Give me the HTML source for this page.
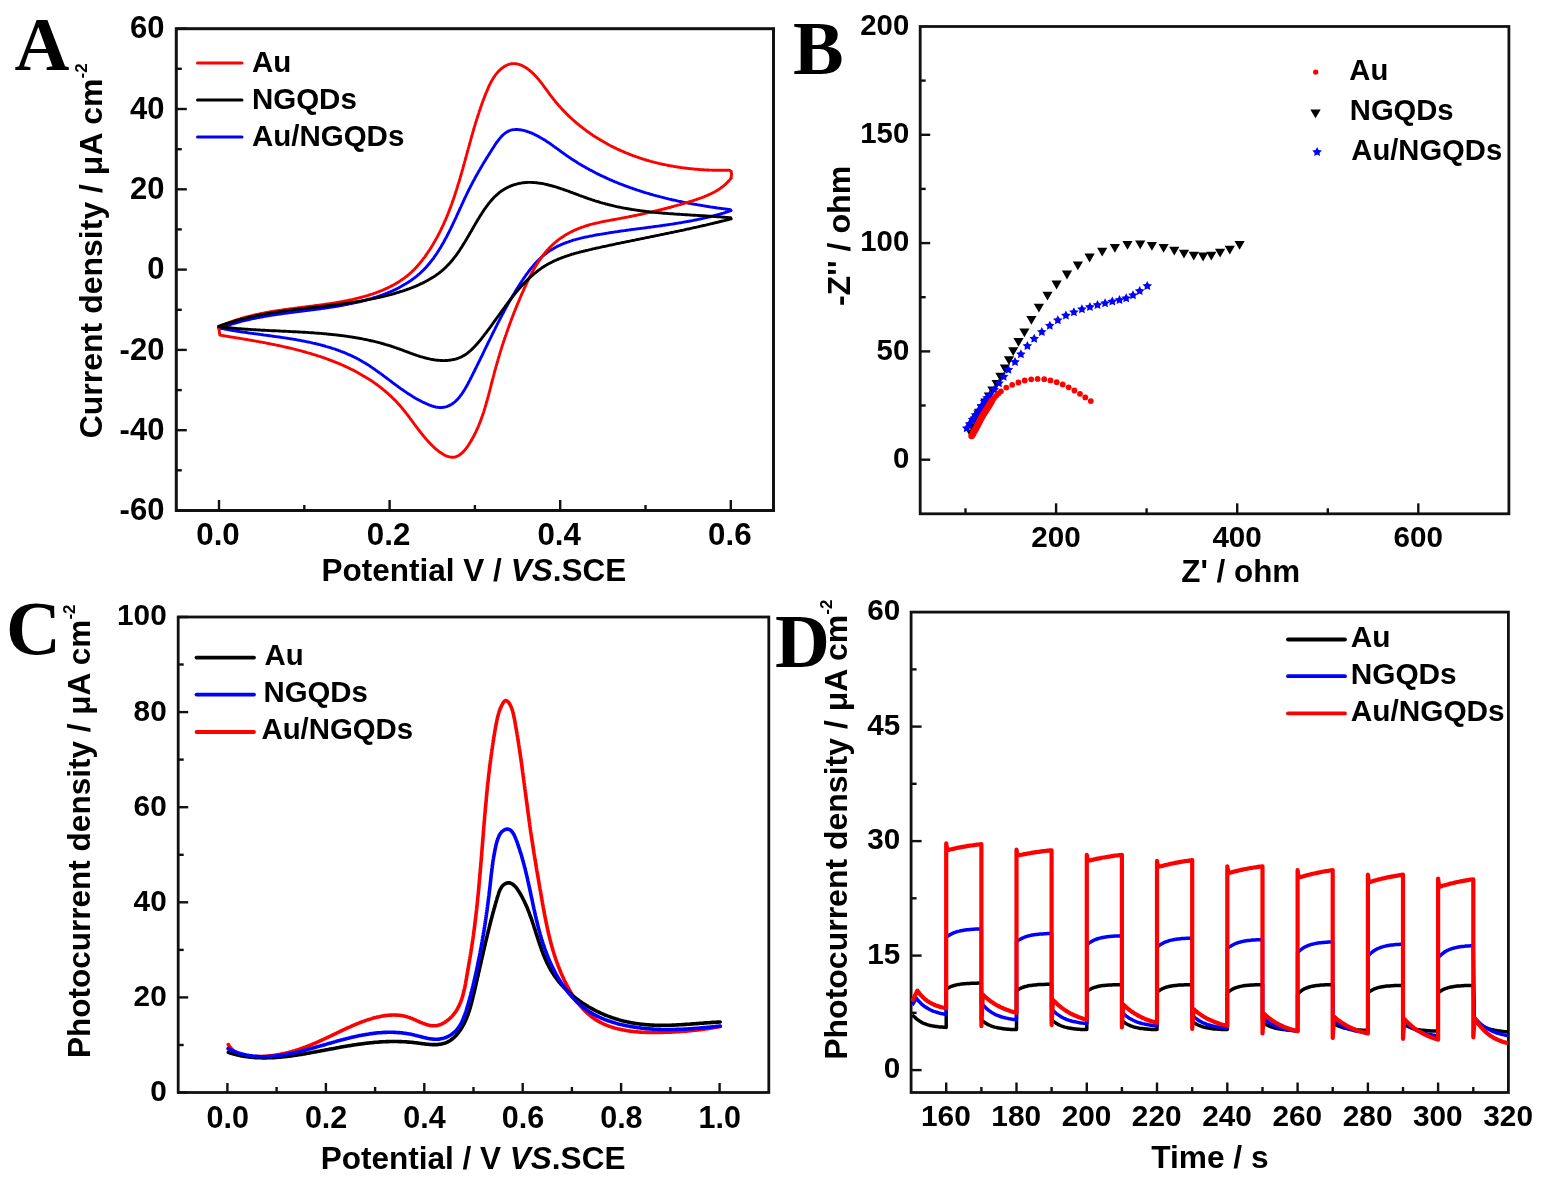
<!DOCTYPE html>
<html><head><meta charset="utf-8"><title>Figure</title>
<style>html,body{margin:0;padding:0;background:#fff;}svg{display:block;}
text{font-family:"Liberation Sans",Arial,sans-serif;font-weight:bold;fill:#000;}</style></head>
<body><svg width="1541" height="1181" viewBox="0 0 1541 1181">
<rect width="1541" height="1181" fill="#fff"/>
<rect x="176.3" y="28.7" width="597.2" height="481.8" fill="none" stroke="#111" stroke-width="3.0"/>
<line x1="219.0" y1="510.5" x2="219.0" y2="500.0" stroke="#111" stroke-width="2.4"/>
<line x1="304.3" y1="510.5" x2="304.3" y2="505.0" stroke="#111" stroke-width="2.4"/>
<line x1="389.6" y1="510.5" x2="389.6" y2="500.0" stroke="#111" stroke-width="2.4"/>
<line x1="474.9" y1="510.5" x2="474.9" y2="505.0" stroke="#111" stroke-width="2.4"/>
<line x1="560.2" y1="510.5" x2="560.2" y2="500.0" stroke="#111" stroke-width="2.4"/>
<line x1="645.5" y1="510.5" x2="645.5" y2="505.0" stroke="#111" stroke-width="2.4"/>
<line x1="730.8" y1="510.5" x2="730.8" y2="500.0" stroke="#111" stroke-width="2.4"/>
<line x1="176.3" y1="510.5" x2="186.8" y2="510.5" stroke="#111" stroke-width="2.4"/>
<line x1="176.3" y1="470.3" x2="181.8" y2="470.3" stroke="#111" stroke-width="2.4"/>
<line x1="176.3" y1="430.2" x2="186.8" y2="430.2" stroke="#111" stroke-width="2.4"/>
<line x1="176.3" y1="390.1" x2="181.8" y2="390.1" stroke="#111" stroke-width="2.4"/>
<line x1="176.3" y1="349.9" x2="186.8" y2="349.9" stroke="#111" stroke-width="2.4"/>
<line x1="176.3" y1="309.8" x2="181.8" y2="309.8" stroke="#111" stroke-width="2.4"/>
<line x1="176.3" y1="269.6" x2="186.8" y2="269.6" stroke="#111" stroke-width="2.4"/>
<line x1="176.3" y1="229.4" x2="181.8" y2="229.4" stroke="#111" stroke-width="2.4"/>
<line x1="176.3" y1="189.3" x2="186.8" y2="189.3" stroke="#111" stroke-width="2.4"/>
<line x1="176.3" y1="149.2" x2="181.8" y2="149.2" stroke="#111" stroke-width="2.4"/>
<line x1="176.3" y1="109.0" x2="186.8" y2="109.0" stroke="#111" stroke-width="2.4"/>
<line x1="176.3" y1="68.8" x2="181.8" y2="68.8" stroke="#111" stroke-width="2.4"/>
<line x1="176.3" y1="28.7" x2="186.8" y2="28.7" stroke="#111" stroke-width="2.4"/>
<text x="218.0" y="545.0" font-size="31.31" text-anchor="middle">0.0</text>
<text x="388.6" y="545.0" font-size="31.31" text-anchor="middle">0.2</text>
<text x="559.2" y="545.0" font-size="31.31" text-anchor="middle">0.4</text>
<text x="729.8" y="545.0" font-size="31.31" text-anchor="middle">0.6</text>
<text x="164.4" y="520.1" font-size="31.00" text-anchor="end">-60</text>
<text x="164.4" y="439.8" font-size="31.00" text-anchor="end">-40</text>
<text x="164.4" y="359.5" font-size="31.00" text-anchor="end">-20</text>
<text x="164.4" y="279.2" font-size="31.00" text-anchor="end">0</text>
<text x="164.4" y="198.9" font-size="31.00" text-anchor="end">20</text>
<text x="164.4" y="118.6" font-size="31.00" text-anchor="end">40</text>
<text x="164.4" y="38.3" font-size="31.00" text-anchor="end">60</text>
<rect x="920.2" y="26.5" width="588.7" height="487.3" fill="none" stroke="#111" stroke-width="2.8"/>
<line x1="965.5" y1="513.8" x2="965.5" y2="508.3" stroke="#111" stroke-width="2.4"/>
<line x1="1056.1" y1="513.8" x2="1056.1" y2="503.3" stroke="#111" stroke-width="2.4"/>
<line x1="1146.6" y1="513.8" x2="1146.6" y2="508.3" stroke="#111" stroke-width="2.4"/>
<line x1="1237.2" y1="513.8" x2="1237.2" y2="503.3" stroke="#111" stroke-width="2.4"/>
<line x1="1327.8" y1="513.8" x2="1327.8" y2="508.3" stroke="#111" stroke-width="2.4"/>
<line x1="1418.3" y1="513.8" x2="1418.3" y2="503.3" stroke="#111" stroke-width="2.4"/>
<line x1="920.2" y1="459.7" x2="930.2" y2="459.7" stroke="#111" stroke-width="2.4"/>
<line x1="920.2" y1="405.5" x2="925.7" y2="405.5" stroke="#111" stroke-width="2.4"/>
<line x1="920.2" y1="351.4" x2="930.2" y2="351.4" stroke="#111" stroke-width="2.4"/>
<line x1="920.2" y1="297.2" x2="925.7" y2="297.2" stroke="#111" stroke-width="2.4"/>
<line x1="920.2" y1="243.1" x2="930.2" y2="243.1" stroke="#111" stroke-width="2.4"/>
<line x1="920.2" y1="188.9" x2="925.7" y2="188.9" stroke="#111" stroke-width="2.4"/>
<line x1="920.2" y1="134.8" x2="930.2" y2="134.8" stroke="#111" stroke-width="2.4"/>
<line x1="920.2" y1="80.6" x2="925.7" y2="80.6" stroke="#111" stroke-width="2.4"/>
<text x="1056.0" y="546.8" font-size="29.60" text-anchor="middle">200</text>
<text x="1237.1" y="546.8" font-size="29.60" text-anchor="middle">400</text>
<text x="1418.2" y="546.8" font-size="29.60" text-anchor="middle">600</text>
<text x="909.2" y="467.8" font-size="29.30" text-anchor="end">0</text>
<text x="909.2" y="359.5" font-size="29.30" text-anchor="end">50</text>
<text x="909.2" y="251.2" font-size="29.30" text-anchor="end">100</text>
<text x="909.2" y="142.9" font-size="29.30" text-anchor="end">150</text>
<text x="909.2" y="34.7" font-size="29.30" text-anchor="end">200</text>
<rect x="178.2" y="617.0" width="590.6" height="475.5" fill="none" stroke="#111" stroke-width="2.8"/>
<line x1="227.4" y1="1092.5" x2="227.4" y2="1083.0" stroke="#111" stroke-width="2.4"/>
<line x1="276.6" y1="1092.5" x2="276.6" y2="1087.0" stroke="#111" stroke-width="2.4"/>
<line x1="325.9" y1="1092.5" x2="325.9" y2="1083.0" stroke="#111" stroke-width="2.4"/>
<line x1="375.1" y1="1092.5" x2="375.1" y2="1087.0" stroke="#111" stroke-width="2.4"/>
<line x1="424.3" y1="1092.5" x2="424.3" y2="1083.0" stroke="#111" stroke-width="2.4"/>
<line x1="473.5" y1="1092.5" x2="473.5" y2="1087.0" stroke="#111" stroke-width="2.4"/>
<line x1="522.7" y1="1092.5" x2="522.7" y2="1083.0" stroke="#111" stroke-width="2.4"/>
<line x1="571.9" y1="1092.5" x2="571.9" y2="1087.0" stroke="#111" stroke-width="2.4"/>
<line x1="621.1" y1="1092.5" x2="621.1" y2="1083.0" stroke="#111" stroke-width="2.4"/>
<line x1="670.4" y1="1092.5" x2="670.4" y2="1087.0" stroke="#111" stroke-width="2.4"/>
<line x1="719.6" y1="1092.5" x2="719.6" y2="1083.0" stroke="#111" stroke-width="2.4"/>
<line x1="178.2" y1="1092.5" x2="188.2" y2="1092.5" stroke="#111" stroke-width="2.4"/>
<line x1="178.2" y1="1045.0" x2="183.7" y2="1045.0" stroke="#111" stroke-width="2.4"/>
<line x1="178.2" y1="997.4" x2="188.2" y2="997.4" stroke="#111" stroke-width="2.4"/>
<line x1="178.2" y1="949.9" x2="183.7" y2="949.9" stroke="#111" stroke-width="2.4"/>
<line x1="178.2" y1="902.3" x2="188.2" y2="902.3" stroke="#111" stroke-width="2.4"/>
<line x1="178.2" y1="854.8" x2="183.7" y2="854.8" stroke="#111" stroke-width="2.4"/>
<line x1="178.2" y1="807.2" x2="188.2" y2="807.2" stroke="#111" stroke-width="2.4"/>
<line x1="178.2" y1="759.6" x2="183.7" y2="759.6" stroke="#111" stroke-width="2.4"/>
<line x1="178.2" y1="712.1" x2="188.2" y2="712.1" stroke="#111" stroke-width="2.4"/>
<line x1="178.2" y1="664.5" x2="183.7" y2="664.5" stroke="#111" stroke-width="2.4"/>
<line x1="178.2" y1="617.0" x2="188.2" y2="617.0" stroke="#111" stroke-width="2.4"/>
<text x="227.7" y="1127.5" font-size="30.50" text-anchor="middle">0.0</text>
<text x="326.1" y="1127.5" font-size="30.50" text-anchor="middle">0.2</text>
<text x="424.5" y="1127.5" font-size="30.50" text-anchor="middle">0.4</text>
<text x="523.0" y="1127.5" font-size="30.50" text-anchor="middle">0.6</text>
<text x="621.4" y="1127.5" font-size="30.50" text-anchor="middle">0.8</text>
<text x="719.8" y="1127.5" font-size="30.50" text-anchor="middle">1.0</text>
<text x="166.7" y="1100.9" font-size="29.74" text-anchor="end">0</text>
<text x="166.7" y="1005.8" font-size="29.74" text-anchor="end">20</text>
<text x="166.7" y="910.7" font-size="29.74" text-anchor="end">40</text>
<text x="166.7" y="815.6" font-size="29.74" text-anchor="end">60</text>
<text x="166.7" y="720.5" font-size="29.74" text-anchor="end">80</text>
<text x="166.7" y="625.4" font-size="29.74" text-anchor="end">100</text>
<rect x="911.1" y="612.1" width="597.3" height="480.4" fill="none" stroke="#111" stroke-width="2.8"/>
<line x1="946.2" y1="1092.5" x2="946.2" y2="1082.5" stroke="#111" stroke-width="2.4"/>
<line x1="981.4" y1="1092.5" x2="981.4" y2="1087.0" stroke="#111" stroke-width="2.4"/>
<line x1="1016.5" y1="1092.5" x2="1016.5" y2="1082.5" stroke="#111" stroke-width="2.4"/>
<line x1="1051.6" y1="1092.5" x2="1051.6" y2="1087.0" stroke="#111" stroke-width="2.4"/>
<line x1="1086.8" y1="1092.5" x2="1086.8" y2="1082.5" stroke="#111" stroke-width="2.4"/>
<line x1="1121.9" y1="1092.5" x2="1121.9" y2="1087.0" stroke="#111" stroke-width="2.4"/>
<line x1="1157.0" y1="1092.5" x2="1157.0" y2="1082.5" stroke="#111" stroke-width="2.4"/>
<line x1="1192.2" y1="1092.5" x2="1192.2" y2="1087.0" stroke="#111" stroke-width="2.4"/>
<line x1="1227.3" y1="1092.5" x2="1227.3" y2="1082.5" stroke="#111" stroke-width="2.4"/>
<line x1="1262.5" y1="1092.5" x2="1262.5" y2="1087.0" stroke="#111" stroke-width="2.4"/>
<line x1="1297.6" y1="1092.5" x2="1297.6" y2="1082.5" stroke="#111" stroke-width="2.4"/>
<line x1="1332.7" y1="1092.5" x2="1332.7" y2="1087.0" stroke="#111" stroke-width="2.4"/>
<line x1="1367.9" y1="1092.5" x2="1367.9" y2="1082.5" stroke="#111" stroke-width="2.4"/>
<line x1="1403.0" y1="1092.5" x2="1403.0" y2="1087.0" stroke="#111" stroke-width="2.4"/>
<line x1="1438.1" y1="1092.5" x2="1438.1" y2="1082.5" stroke="#111" stroke-width="2.4"/>
<line x1="1473.3" y1="1092.5" x2="1473.3" y2="1087.0" stroke="#111" stroke-width="2.4"/>
<line x1="911.1" y1="1070.1" x2="921.6" y2="1070.1" stroke="#111" stroke-width="2.4"/>
<line x1="911.1" y1="1012.8" x2="916.6" y2="1012.8" stroke="#111" stroke-width="2.4"/>
<line x1="911.1" y1="955.6" x2="921.6" y2="955.6" stroke="#111" stroke-width="2.4"/>
<line x1="911.1" y1="898.3" x2="916.6" y2="898.3" stroke="#111" stroke-width="2.4"/>
<line x1="911.1" y1="841.1" x2="921.6" y2="841.1" stroke="#111" stroke-width="2.4"/>
<line x1="911.1" y1="783.8" x2="916.6" y2="783.8" stroke="#111" stroke-width="2.4"/>
<line x1="911.1" y1="726.6" x2="921.6" y2="726.6" stroke="#111" stroke-width="2.4"/>
<line x1="911.1" y1="669.4" x2="916.6" y2="669.4" stroke="#111" stroke-width="2.4"/>
<text x="945.9" y="1126.2" font-size="29.80" text-anchor="middle">160</text>
<text x="1016.2" y="1126.2" font-size="29.80" text-anchor="middle">180</text>
<text x="1086.5" y="1126.2" font-size="29.80" text-anchor="middle">200</text>
<text x="1156.7" y="1126.2" font-size="29.80" text-anchor="middle">220</text>
<text x="1227.0" y="1126.2" font-size="29.80" text-anchor="middle">240</text>
<text x="1297.3" y="1126.2" font-size="29.80" text-anchor="middle">260</text>
<text x="1367.6" y="1126.2" font-size="29.80" text-anchor="middle">280</text>
<text x="1437.8" y="1126.2" font-size="29.80" text-anchor="middle">300</text>
<text x="1508.1" y="1126.2" font-size="29.80" text-anchor="middle">320</text>
<text x="900.2" y="1078.4" font-size="29.65" text-anchor="end">0</text>
<text x="900.2" y="963.9" font-size="29.65" text-anchor="end">15</text>
<text x="900.2" y="849.4" font-size="29.65" text-anchor="end">30</text>
<text x="900.2" y="734.9" font-size="29.65" text-anchor="end">45</text>
<text x="900.2" y="620.4" font-size="29.65" text-anchor="end">60</text>
<g fill="none" stroke-width="2.9" stroke-linejoin="round" stroke-linecap="round">
<path stroke="#0000ff" d="M218.8,328.5 L219.7,328.1 L220.7,327.8 L221.7,327.4 L222.7,327.1 L223.6,326.7 L224.6,326.4 L225.6,326.1 L226.6,325.7 L227.5,325.4 L228.5,325.1 L229.5,324.8 L230.5,324.5 L231.4,324.2 L232.4,323.9 L233.4,323.6 L234.4,323.3 L235.3,323.0 L236.3,322.8 L237.3,322.5 L238.3,322.2 L239.3,322.0 L240.2,321.7 L241.2,321.4 L242.2,321.2 L243.2,320.9 L244.1,320.7 L245.1,320.5 L246.1,320.2 L247.1,320.0 L248.1,319.8 L249.0,319.5 L250.0,319.3 L251.0,319.1 L252.0,318.9 L252.9,318.7 L253.9,318.5 L254.9,318.3 L255.9,318.1 L256.9,317.9 L257.8,317.7 L258.8,317.5 L259.8,317.3 L260.8,317.1 L261.8,317.0 L262.7,316.8 L263.7,316.6 L264.7,316.4 L265.7,316.3 L266.6,316.1 L267.6,315.9 L268.6,315.8 L269.6,315.6 L270.6,315.4 L271.6,315.3 L272.5,315.1 L273.5,315.0 L274.5,314.8 L275.5,314.7 L276.5,314.5 L277.4,314.4 L278.4,314.2 L279.4,314.1 L280.4,314.0 L281.4,313.8 L282.3,313.7 L283.3,313.5 L284.3,313.4 L285.3,313.3 L286.3,313.1 L287.3,313.0 L288.2,312.9 L289.2,312.8 L290.2,312.6 L291.2,312.5 L292.2,312.4 L293.2,312.2 L294.1,312.1 L295.1,312.0 L296.1,311.9 L297.1,311.7 L298.1,311.6 L299.1,311.5 L300.0,311.4 L301.0,311.3 L302.0,311.1 L303.0,311.0 L304.0,310.9 L305.0,310.8 L306.0,310.6 L306.9,310.5 L307.9,310.4 L308.9,310.3 L309.9,310.1 L310.9,310.0 L311.9,309.9 L312.9,309.8 L313.8,309.6 L314.8,309.5 L315.8,309.4 L316.8,309.2 L317.8,309.1 L318.8,309.0 L319.8,308.8 L320.7,308.7 L321.7,308.6 L322.7,308.4 L323.7,308.3 L324.7,308.2 L325.7,308.0 L326.7,307.9 L327.7,307.7 L328.7,307.6 L329.6,307.4 L330.6,307.3 L331.6,307.1 L332.6,307.0 L333.6,306.8 L334.6,306.6 L335.6,306.5 L336.6,306.3 L337.6,306.2 L338.5,306.0 L339.5,305.8 L340.5,305.6 L341.5,305.5 L342.5,305.3 L343.5,305.1 L344.5,304.9 L345.5,304.7 L346.5,304.5 L347.5,304.3 L348.5,304.1 L349.4,303.9 L350.4,303.7 L351.4,303.5 L352.4,303.3 L353.4,303.1 L354.4,302.9 L355.4,302.7 L356.4,302.5 L357.4,302.2 L358.4,302.0 L359.4,301.8 L360.4,301.5 L361.3,301.3 L362.3,301.0 L363.3,300.8 L364.3,300.5 L365.3,300.3 L366.3,300.0 L367.3,299.7 L368.3,299.5 L369.2,299.2 L370.2,298.9 L371.2,298.6 L372.2,298.3 L373.1,298.0 L374.1,297.7 L375.1,297.4 L376.1,297.1 L377.0,296.8 L378.0,296.5 L378.9,296.1 L379.9,295.8 L380.9,295.5 L381.8,295.1 L382.8,294.8 L383.7,294.4 L384.7,294.1 L385.6,293.7 L386.5,293.3 L387.5,293.0 L388.4,292.6 L389.3,292.2 L390.3,291.8 L391.2,291.4 L392.1,291.0 L393.0,290.6 L393.9,290.2 L394.8,289.7 L395.7,289.3 L396.6,288.9 L397.5,288.4 L398.4,288.0 L399.3,287.5 L400.1,287.1 L401.0,286.6 L401.9,286.1 L402.7,285.6 L403.6,285.1 L404.4,284.6 L405.3,284.1 L406.1,283.6 L407.0,283.1 L407.8,282.6 L408.6,282.0 L409.4,281.5 L410.2,281.0 L411.0,280.4 L411.8,279.8 L412.6,279.3 L413.4,278.7 L414.2,278.1 L415.0,277.5 L415.7,276.9 L416.5,276.3 L417.2,275.7 L418.0,275.1 L418.7,274.4 L419.5,273.8 L420.2,273.1 L420.9,272.5 L421.6,271.8 L422.3,271.1 L423.0,270.5 L423.7,269.8 L424.4,269.1 L425.0,268.4 L425.7,267.7 L426.4,266.9 L427.0,266.2 L427.7,265.5 L428.3,264.7 L428.9,264.0 L429.6,263.2 L430.2,262.5 L430.8,261.7 L431.4,260.9 L432.0,260.1 L432.6,259.3 L433.2,258.6 L433.8,257.8 L434.3,256.9 L434.9,256.1 L435.5,255.3 L436.1,254.5 L436.6,253.7 L437.2,252.8 L437.7,252.0 L438.3,251.2 L438.8,250.3 L439.3,249.5 L439.9,248.6 L440.4,247.7 L440.9,246.9 L441.4,246.0 L441.9,245.1 L442.4,244.3 L443.0,243.4 L443.5,242.5 L444.0,241.6 L444.4,240.7 L444.9,239.8 L445.4,238.9 L445.9,238.0 L446.4,237.1 L446.9,236.2 L447.3,235.3 L447.8,234.4 L448.3,233.5 L448.7,232.6 L449.2,231.7 L449.7,230.7 L450.1,229.8 L450.6,228.9 L451.0,228.0 L451.5,227.0 L451.9,226.1 L452.4,225.2 L452.8,224.2 L453.2,223.3 L453.7,222.4 L454.1,221.4 L454.6,220.5 L455.0,219.6 L455.4,218.6 L455.9,217.7 L456.3,216.8 L456.7,215.8 L457.1,214.9 L457.6,214.0 L458.0,213.0 L458.4,212.1 L458.9,211.2 L459.3,210.2 L459.7,209.3 L460.1,208.4 L460.6,207.4 L461.0,206.5 L461.4,205.6 L461.8,204.6 L462.3,203.7 L462.7,202.8 L463.1,201.9 L463.5,201.0 L464.0,200.0 L464.4,199.1 L464.8,198.2 L465.2,197.3 L465.7,196.4 L466.1,195.5 L466.5,194.6 L467.0,193.7 L467.4,192.8 L467.8,191.9 L468.3,191.0 L468.7,190.1 L469.1,189.2 L469.6,188.4 L470.0,187.5 L470.5,186.6 L470.9,185.7 L471.4,184.9 L471.8,184.0 L472.3,183.1 L472.7,182.3 L473.2,181.4 L473.6,180.6 L474.1,179.7 L474.6,178.9 L475.0,178.0 L475.5,177.1 L476.0,176.3 L476.4,175.5 L476.9,174.6 L477.4,173.8 L477.9,172.9 L478.3,172.1 L478.8,171.2 L479.3,170.4 L479.8,169.5 L480.3,168.7 L480.8,167.8 L481.3,167.0 L481.8,166.1 L482.3,165.3 L482.8,164.4 L483.3,163.6 L483.8,162.7 L484.4,161.9 L484.9,161.0 L485.4,160.2 L485.9,159.3 L486.5,158.4 L487.0,157.6 L487.5,156.7 L488.1,155.8 L488.6,155.0 L489.2,154.1 L489.7,153.2 L490.3,152.3 L490.8,151.5 L491.4,150.6 L491.9,149.7 L492.5,148.8 L493.1,147.9 L493.7,147.0 L494.2,146.1 L494.8,145.2 L495.4,144.3 L496.0,143.4 L496.6,142.5 L497.3,141.7 L497.9,140.8 L498.5,140.0 L499.2,139.2 L499.8,138.4 L500.5,137.6 L501.1,136.8 L501.8,136.1 L502.5,135.4 L503.2,134.7 L504.0,134.1 L504.7,133.5 L505.4,132.9 L506.2,132.4 L507.0,131.9 L507.8,131.5 L508.6,131.1 L509.4,130.7 L510.3,130.4 L511.1,130.1 L512.0,129.9 L512.9,129.8 L513.8,129.6 L514.7,129.6 L515.6,129.5 L516.6,129.5 L517.5,129.5 L518.5,129.6 L519.4,129.7 L520.4,129.8 L521.3,130.0 L522.3,130.2 L523.3,130.4 L524.2,130.6 L525.2,130.9 L526.2,131.2 L527.1,131.5 L528.1,131.8 L529.0,132.1 L529.9,132.5 L530.9,132.8 L531.8,133.2 L532.7,133.6 L533.6,134.0 L534.5,134.4 L535.4,134.9 L536.3,135.3 L537.2,135.8 L538.1,136.2 L539.0,136.7 L539.8,137.2 L540.7,137.7 L541.6,138.2 L542.4,138.7 L543.3,139.2 L544.1,139.7 L545.0,140.3 L545.8,140.8 L546.7,141.4 L547.5,141.9 L548.4,142.5 L549.2,143.1 L550.0,143.6 L550.9,144.2 L551.7,144.8 L552.5,145.4 L553.3,146.0 L554.2,146.6 L555.0,147.2 L555.8,147.7 L556.6,148.3 L557.4,148.9 L558.3,149.5 L559.1,150.1 L559.9,150.7 L560.7,151.3 L561.5,151.9 L562.4,152.5 L563.2,153.1 L564.0,153.7 L564.8,154.3 L565.7,154.9 L566.5,155.5 L567.3,156.0 L568.2,156.6 L569.0,157.2 L569.8,157.7 L570.7,158.3 L571.5,158.9 L572.4,159.4 L573.2,160.0 L574.1,160.5 L574.9,161.1 L575.8,161.6 L576.6,162.1 L577.5,162.7 L578.3,163.2 L579.2,163.7 L580.0,164.2 L580.9,164.7 L581.8,165.3 L582.6,165.8 L583.5,166.3 L584.4,166.8 L585.3,167.3 L586.1,167.8 L587.0,168.3 L587.9,168.7 L588.8,169.2 L589.6,169.7 L590.5,170.2 L591.4,170.6 L592.3,171.1 L593.2,171.6 L594.1,172.0 L595.0,172.5 L595.9,173.0 L596.8,173.4 L597.6,173.9 L598.5,174.3 L599.4,174.7 L600.3,175.2 L601.2,175.6 L602.1,176.1 L603.1,176.5 L604.0,176.9 L604.9,177.3 L605.8,177.7 L606.7,178.2 L607.6,178.6 L608.5,179.0 L609.4,179.4 L610.3,179.8 L611.3,180.2 L612.2,180.6 L613.1,181.0 L614.0,181.4 L614.9,181.8 L615.9,182.1 L616.8,182.5 L617.7,182.9 L618.7,183.3 L619.6,183.6 L620.5,184.0 L621.4,184.4 L622.4,184.7 L623.3,185.1 L624.3,185.4 L625.2,185.8 L626.1,186.1 L627.1,186.5 L628.0,186.8 L628.9,187.2 L629.9,187.5 L630.8,187.9 L631.8,188.2 L632.7,188.5 L633.7,188.8 L634.6,189.2 L635.6,189.5 L636.5,189.8 L637.5,190.1 L638.4,190.4 L639.4,190.7 L640.3,191.1 L641.3,191.4 L642.2,191.7 L643.2,192.0 L644.2,192.3 L645.1,192.6 L646.1,192.8 L647.0,193.1 L648.0,193.4 L649.0,193.7 L649.9,194.0 L650.9,194.3 L651.8,194.5 L652.8,194.8 L653.8,195.1 L654.7,195.3 L655.7,195.6 L656.7,195.9 L657.6,196.1 L658.6,196.4 L659.6,196.7 L660.6,196.9 L661.5,197.2 L662.5,197.4 L663.5,197.6 L664.5,197.9 L665.4,198.1 L666.4,198.4 L667.4,198.6 L668.4,198.8 L669.3,199.1 L670.3,199.3 L671.3,199.5 L672.3,199.8 L673.2,200.0 L674.2,200.2 L675.2,200.4 L676.2,200.6 L677.2,200.9 L678.1,201.1 L679.1,201.3 L680.1,201.5 L681.1,201.7 L682.1,201.9 L683.1,202.1 L684.0,202.3 L685.0,202.5 L686.0,202.7 L687.0,202.9 L688.0,203.1 L689.0,203.3 L689.9,203.4 L690.9,203.6 L691.9,203.8 L692.9,204.0 L693.9,204.2 L694.9,204.4 L695.9,204.5 L696.8,204.7 L697.8,204.9 L698.8,205.0 L699.8,205.2 L700.8,205.4 L701.8,205.5 L702.8,205.7 L703.8,205.9 L704.7,206.0 L705.7,206.2 L706.7,206.3 L707.7,206.5 L708.7,206.7 L709.7,206.8 L710.7,207.0 L711.7,207.1 L712.6,207.2 L713.6,207.4 L714.6,207.5 L715.6,207.7 L716.6,207.8 L717.6,208.0 L718.6,208.1 L719.6,208.2 L720.5,208.4 L721.5,208.5 L722.5,208.6 L723.5,208.7 L724.5,208.9 L725.5,209.0 L726.5,209.1 L727.5,209.2 L728.4,209.4 L729.4,209.5 L730.4,209.6 L731.1,210.6 L730.2,210.9 L729.2,211.2 L728.3,211.5 L727.3,211.9 L726.3,212.2 L725.4,212.5 L724.4,212.8 L723.4,213.1 L722.5,213.3 L721.5,213.6 L720.5,213.9 L719.6,214.2 L718.6,214.5 L717.7,214.7 L716.7,215.0 L715.7,215.3 L714.7,215.5 L713.8,215.8 L712.8,216.0 L711.8,216.3 L710.9,216.5 L709.9,216.8 L708.9,217.0 L708.0,217.2 L707.0,217.5 L706.0,217.7 L705.1,217.9 L704.1,218.1 L703.1,218.4 L702.1,218.6 L701.2,218.8 L700.2,219.0 L699.2,219.2 L698.2,219.4 L697.3,219.6 L696.3,219.8 L695.3,220.0 L694.3,220.2 L693.4,220.4 L692.4,220.6 L691.4,220.8 L690.4,221.0 L689.5,221.2 L688.5,221.3 L687.5,221.5 L686.5,221.7 L685.6,221.9 L684.6,222.0 L683.6,222.2 L682.6,222.4 L681.6,222.6 L680.7,222.7 L679.7,222.9 L678.7,223.0 L677.7,223.2 L676.7,223.4 L675.7,223.5 L674.8,223.7 L673.8,223.8 L672.8,224.0 L671.8,224.1 L670.8,224.3 L669.8,224.4 L668.9,224.6 L667.9,224.7 L666.9,224.9 L665.9,225.0 L664.9,225.2 L663.9,225.3 L662.9,225.4 L662.0,225.6 L661.0,225.7 L660.0,225.8 L659.0,226.0 L658.0,226.1 L657.0,226.3 L656.0,226.4 L655.0,226.5 L654.1,226.7 L653.1,226.8 L652.1,226.9 L651.1,227.1 L650.1,227.2 L649.1,227.3 L648.1,227.4 L647.1,227.6 L646.1,227.7 L645.1,227.8 L644.1,228.0 L643.1,228.1 L642.2,228.2 L641.2,228.4 L640.2,228.5 L639.2,228.6 L638.2,228.7 L637.2,228.9 L636.2,229.0 L635.2,229.1 L634.2,229.3 L633.2,229.4 L632.2,229.5 L631.2,229.7 L630.2,229.8 L629.2,229.9 L628.2,230.1 L627.2,230.2 L626.2,230.3 L625.2,230.5 L624.2,230.6 L623.2,230.8 L622.2,230.9 L621.2,231.0 L620.2,231.2 L619.2,231.3 L618.2,231.5 L617.2,231.6 L616.2,231.8 L615.2,231.9 L614.2,232.1 L613.2,232.2 L612.2,232.4 L611.2,232.5 L610.2,232.7 L609.2,232.8 L608.2,233.0 L607.2,233.1 L606.2,233.3 L605.2,233.5 L604.2,233.6 L603.2,233.8 L602.2,234.0 L601.2,234.1 L600.2,234.3 L599.2,234.5 L598.2,234.7 L597.2,234.8 L596.1,235.0 L595.1,235.2 L594.1,235.4 L593.1,235.6 L592.1,235.8 L591.1,236.0 L590.1,236.2 L589.1,236.4 L588.1,236.6 L587.1,236.8 L586.1,237.0 L585.1,237.2 L584.1,237.4 L583.1,237.7 L582.1,237.9 L581.1,238.1 L580.1,238.4 L579.1,238.6 L578.2,238.9 L577.2,239.1 L576.2,239.4 L575.2,239.7 L574.3,239.9 L573.3,240.2 L572.3,240.5 L571.4,240.8 L570.4,241.1 L569.5,241.5 L568.5,241.8 L567.6,242.1 L566.6,242.4 L565.7,242.8 L564.8,243.2 L563.8,243.5 L562.9,243.9 L562.0,244.3 L561.1,244.7 L560.2,245.1 L559.3,245.5 L558.4,245.9 L557.5,246.3 L556.6,246.8 L555.8,247.2 L554.9,247.7 L554.0,248.2 L553.2,248.7 L552.3,249.2 L551.5,249.7 L550.7,250.2 L549.8,250.7 L549.0,251.3 L548.2,251.8 L547.4,252.4 L546.6,253.0 L545.8,253.6 L545.1,254.2 L544.3,254.8 L543.5,255.4 L542.8,256.1 L542.0,256.7 L541.3,257.4 L540.6,258.1 L539.8,258.8 L539.1,259.5 L538.4,260.2 L537.7,260.9 L537.0,261.6 L536.3,262.3 L535.6,263.1 L535.0,263.8 L534.3,264.6 L533.6,265.3 L533.0,266.1 L532.3,266.9 L531.7,267.6 L531.0,268.4 L530.4,269.2 L529.8,270.0 L529.1,270.8 L528.5,271.6 L527.9,272.5 L527.3,273.3 L526.7,274.1 L526.1,274.9 L525.5,275.8 L524.9,276.6 L524.3,277.5 L523.7,278.3 L523.2,279.1 L522.6,280.0 L522.0,280.8 L521.5,281.7 L520.9,282.6 L520.4,283.4 L519.8,284.3 L519.3,285.1 L518.7,286.0 L518.2,286.8 L517.6,287.7 L517.1,288.6 L516.6,289.4 L516.0,290.3 L515.5,291.1 L515.0,292.0 L514.5,292.9 L514.0,293.7 L513.5,294.6 L513.0,295.4 L512.4,296.3 L511.9,297.2 L511.4,298.0 L510.9,298.9 L510.5,299.7 L510.0,300.6 L509.5,301.5 L509.0,302.3 L508.5,303.2 L508.0,304.0 L507.5,304.9 L507.1,305.8 L506.6,306.6 L506.1,307.5 L505.6,308.4 L505.2,309.2 L504.7,310.1 L504.2,311.0 L503.8,311.8 L503.3,312.7 L502.9,313.6 L502.4,314.4 L501.9,315.3 L501.5,316.2 L501.0,317.0 L500.6,317.9 L500.1,318.8 L499.7,319.6 L499.2,320.5 L498.8,321.4 L498.3,322.2 L497.9,323.1 L497.4,324.0 L497.0,324.9 L496.6,325.7 L496.1,326.6 L495.7,327.5 L495.2,328.4 L494.8,329.3 L494.4,330.1 L493.9,331.0 L493.5,331.9 L493.1,332.8 L492.6,333.7 L492.2,334.5 L491.8,335.4 L491.3,336.3 L490.9,337.2 L490.5,338.1 L490.0,339.0 L489.6,339.9 L489.1,340.8 L488.7,341.6 L488.3,342.5 L487.8,343.4 L487.4,344.3 L487.0,345.2 L486.5,346.1 L486.1,347.0 L485.7,347.9 L485.2,348.8 L484.8,349.7 L484.4,350.6 L483.9,351.5 L483.5,352.4 L483.0,353.4 L482.6,354.3 L482.2,355.2 L481.7,356.1 L481.3,357.0 L480.8,357.9 L480.4,358.8 L479.9,359.8 L479.5,360.7 L479.0,361.6 L478.6,362.5 L478.1,363.4 L477.7,364.4 L477.2,365.3 L476.8,366.2 L476.3,367.2 L475.8,368.1 L475.4,369.0 L474.9,370.0 L474.5,370.9 L474.0,371.8 L473.5,372.8 L473.0,373.7 L472.6,374.7 L472.1,375.6 L471.6,376.6 L471.1,377.5 L470.7,378.5 L470.2,379.4 L469.7,380.4 L469.2,381.3 L468.7,382.3 L468.2,383.2 L467.7,384.2 L467.2,385.1 L466.7,386.1 L466.1,387.0 L465.6,387.9 L465.1,388.8 L464.5,389.7 L464.0,390.6 L463.4,391.5 L462.9,392.4 L462.3,393.2 L461.7,394.1 L461.1,394.9 L460.5,395.7 L459.9,396.5 L459.3,397.3 L458.7,398.0 L458.0,398.8 L457.3,399.5 L456.7,400.2 L456.0,400.8 L455.3,401.5 L454.6,402.1 L453.8,402.7 L453.1,403.2 L452.3,403.8 L451.6,404.3 L450.8,404.7 L450.0,405.2 L449.1,405.6 L448.3,405.9 L447.4,406.3 L446.6,406.6 L445.7,406.8 L444.8,407.1 L443.9,407.2 L443.0,407.4 L442.0,407.5 L441.1,407.5 L440.2,407.6 L439.2,407.5 L438.3,407.4 L437.4,407.3 L436.4,407.2 L435.5,407.0 L434.5,406.7 L433.6,406.5 L432.7,406.2 L431.7,405.9 L430.8,405.5 L429.9,405.2 L428.9,404.8 L428.0,404.4 L427.1,404.0 L426.2,403.6 L425.3,403.2 L424.4,402.8 L423.5,402.4 L422.6,402.0 L421.7,401.5 L420.8,401.1 L419.9,400.6 L419.0,400.1 L418.2,399.7 L417.3,399.2 L416.4,398.7 L415.5,398.2 L414.7,397.7 L413.8,397.2 L413.0,396.7 L412.1,396.1 L411.2,395.6 L410.4,395.1 L409.6,394.5 L408.7,394.0 L407.9,393.4 L407.0,392.9 L406.2,392.3 L405.4,391.7 L404.5,391.2 L403.7,390.6 L402.9,390.0 L402.0,389.4 L401.2,388.9 L400.4,388.3 L399.6,387.7 L398.7,387.1 L397.9,386.5 L397.1,385.9 L396.3,385.3 L395.4,384.7 L394.6,384.1 L393.8,383.5 L393.0,382.9 L392.2,382.3 L391.4,381.6 L390.6,381.0 L389.7,380.4 L388.9,379.8 L388.1,379.2 L387.3,378.6 L386.5,378.0 L385.7,377.4 L384.8,376.8 L384.0,376.2 L383.2,375.5 L382.4,374.9 L381.6,374.3 L380.8,373.7 L379.9,373.1 L379.1,372.5 L378.3,371.9 L377.5,371.4 L376.7,370.8 L375.8,370.2 L375.0,369.6 L374.2,369.0 L373.3,368.4 L372.5,367.9 L371.7,367.3 L370.8,366.8 L370.0,366.2 L369.2,365.6 L368.3,365.1 L367.5,364.6 L366.6,364.0 L365.8,363.5 L364.9,363.0 L364.1,362.4 L363.2,361.9 L362.3,361.4 L361.5,360.9 L360.6,360.4 L359.7,360.0 L358.9,359.5 L358.0,359.0 L357.1,358.5 L356.2,358.1 L355.3,357.6 L354.5,357.2 L353.6,356.8 L352.7,356.3 L351.8,355.9 L350.9,355.5 L350.0,355.1 L349.1,354.7 L348.1,354.3 L347.2,353.9 L346.3,353.5 L345.4,353.1 L344.5,352.7 L343.6,352.3 L342.6,352.0 L341.7,351.6 L340.8,351.3 L339.9,350.9 L338.9,350.6 L338.0,350.2 L337.1,349.9 L336.1,349.6 L335.2,349.2 L334.2,348.9 L333.3,348.6 L332.3,348.3 L331.4,348.0 L330.4,347.7 L329.5,347.4 L328.5,347.1 L327.6,346.8 L326.6,346.6 L325.6,346.3 L324.7,346.0 L323.7,345.7 L322.7,345.5 L321.8,345.2 L320.8,345.0 L319.8,344.7 L318.9,344.5 L317.9,344.2 L316.9,344.0 L315.9,343.7 L315.0,343.5 L314.0,343.3 L313.0,343.1 L312.0,342.8 L311.0,342.6 L310.0,342.4 L309.1,342.2 L308.1,342.0 L307.1,341.8 L306.1,341.6 L305.1,341.4 L304.1,341.2 L303.1,341.0 L302.1,340.8 L301.1,340.6 L300.1,340.4 L299.1,340.2 L298.1,340.1 L297.1,339.9 L296.1,339.7 L295.1,339.5 L294.1,339.4 L293.1,339.2 L292.1,339.0 L291.1,338.9 L290.1,338.7 L289.1,338.6 L288.1,338.4 L287.1,338.2 L286.1,338.1 L285.1,337.9 L284.1,337.8 L283.1,337.6 L282.1,337.5 L281.1,337.3 L280.1,337.2 L279.1,337.0 L278.1,336.9 L277.0,336.8 L276.0,336.6 L275.0,336.5 L274.0,336.3 L273.0,336.2 L272.0,336.1 L271.0,335.9 L270.0,335.8 L269.0,335.7 L268.0,335.5 L267.0,335.4 L266.0,335.3 L265.0,335.1 L264.0,335.0 L263.0,334.8 L262.0,334.7 L261.0,334.6 L260.0,334.4 L259.0,334.3 L258.0,334.2 L257.0,334.0 L256.0,333.9 L255.0,333.8 L254.0,333.6 L253.0,333.5 L252.0,333.4 L251.0,333.2 L250.0,333.1 L249.0,333.0 L248.0,332.8 L247.0,332.7 L246.0,332.5 L245.0,332.4 L244.0,332.3 L243.0,332.1 L242.1,332.0 L241.1,331.8 L240.1,331.7 L239.1,331.5 L238.1,331.4 L237.1,331.2 L236.2,331.1 L235.2,330.9 L234.2,330.7 L233.2,330.6 L232.3,330.4 L231.3,330.3 L230.3,330.1 L229.4,329.9 L228.4,329.8 L227.4,329.6 L226.5,329.4 L225.5,329.2 L224.5,329.1 L223.6,328.9 L222.6,328.7 L221.7,328.5 L220.7,328.3 L219.8,328.1 L218.8,327.9Z"/>
<path stroke="#ff0000" d="M218.8,326.9 L219.7,326.5 L220.6,326.1 L221.5,325.7 L222.4,325.3 L223.3,324.9 L224.2,324.5 L225.2,324.1 L226.1,323.7 L227.0,323.4 L227.9,323.0 L228.9,322.6 L229.8,322.3 L230.7,321.9 L231.7,321.6 L232.6,321.3 L233.5,320.9 L234.5,320.6 L235.4,320.3 L236.4,320.0 L237.3,319.7 L238.3,319.4 L239.2,319.1 L240.2,318.8 L241.1,318.5 L242.1,318.2 L243.0,317.9 L244.0,317.7 L244.9,317.4 L245.9,317.1 L246.9,316.9 L247.8,316.6 L248.8,316.4 L249.8,316.1 L250.7,315.9 L251.7,315.6 L252.7,315.4 L253.6,315.2 L254.6,315.0 L255.6,314.7 L256.6,314.5 L257.5,314.3 L258.5,314.1 L259.5,313.9 L260.5,313.7 L261.4,313.5 L262.4,313.3 L263.4,313.1 L264.4,312.9 L265.4,312.7 L266.4,312.5 L267.4,312.4 L268.3,312.2 L269.3,312.0 L270.3,311.8 L271.3,311.7 L272.3,311.5 L273.3,311.3 L274.3,311.2 L275.3,311.0 L276.3,310.9 L277.3,310.7 L278.3,310.6 L279.3,310.4 L280.3,310.3 L281.2,310.1 L282.2,310.0 L283.2,309.8 L284.2,309.7 L285.2,309.5 L286.2,309.4 L287.2,309.3 L288.2,309.1 L289.2,309.0 L290.2,308.9 L291.2,308.7 L292.2,308.6 L293.3,308.5 L294.3,308.3 L295.3,308.2 L296.3,308.1 L297.3,307.9 L298.3,307.8 L299.3,307.7 L300.3,307.6 L301.3,307.4 L302.3,307.3 L303.3,307.2 L304.3,307.1 L305.3,306.9 L306.3,306.8 L307.3,306.7 L308.3,306.6 L309.3,306.4 L310.3,306.3 L311.3,306.2 L312.3,306.1 L313.3,305.9 L314.3,305.8 L315.3,305.7 L316.3,305.5 L317.3,305.4 L318.3,305.3 L319.3,305.1 L320.3,305.0 L321.3,304.9 L322.3,304.7 L323.3,304.6 L324.3,304.4 L325.3,304.3 L326.3,304.2 L327.3,304.0 L328.3,303.9 L329.3,303.7 L330.3,303.6 L331.3,303.4 L332.3,303.3 L333.3,303.1 L334.3,302.9 L335.3,302.8 L336.2,302.6 L337.2,302.4 L338.2,302.3 L339.2,302.1 L340.2,301.9 L341.2,301.7 L342.2,301.6 L343.1,301.4 L344.1,301.2 L345.1,301.0 L346.1,300.8 L347.1,300.6 L348.1,300.4 L349.0,300.2 L350.0,300.0 L351.0,299.8 L352.0,299.6 L352.9,299.4 L353.9,299.1 L354.9,298.9 L355.8,298.7 L356.8,298.4 L357.8,298.2 L358.7,298.0 L359.7,297.7 L360.7,297.5 L361.6,297.2 L362.6,296.9 L363.5,296.7 L364.5,296.4 L365.4,296.1 L366.4,295.9 L367.3,295.6 L368.3,295.3 L369.2,295.0 L370.2,294.7 L371.1,294.4 L372.1,294.1 L373.0,293.8 L373.9,293.4 L374.9,293.1 L375.8,292.8 L376.7,292.4 L377.7,292.1 L378.6,291.7 L379.5,291.4 L380.4,291.0 L381.4,290.6 L382.3,290.3 L383.2,289.9 L384.1,289.5 L385.0,289.1 L385.9,288.7 L386.8,288.3 L387.7,287.9 L388.6,287.4 L389.5,287.0 L390.4,286.6 L391.2,286.1 L392.1,285.7 L393.0,285.2 L393.8,284.7 L394.7,284.2 L395.6,283.8 L396.4,283.3 L397.3,282.8 L398.1,282.2 L398.9,281.7 L399.8,281.2 L400.6,280.6 L401.4,280.1 L402.2,279.5 L403.0,279.0 L403.8,278.4 L404.6,277.8 L405.4,277.2 L406.2,276.6 L407.0,276.0 L407.8,275.4 L408.5,274.7 L409.3,274.1 L410.0,273.4 L410.8,272.7 L411.5,272.1 L412.2,271.4 L413.0,270.7 L413.7,270.0 L414.4,269.3 L415.1,268.5 L415.8,267.8 L416.5,267.1 L417.2,266.3 L417.8,265.5 L418.5,264.8 L419.2,264.0 L419.8,263.2 L420.5,262.4 L421.1,261.6 L421.8,260.8 L422.4,260.0 L423.0,259.2 L423.6,258.4 L424.3,257.6 L424.9,256.8 L425.5,255.9 L426.1,255.1 L426.6,254.2 L427.2,253.4 L427.8,252.5 L428.4,251.7 L428.9,250.8 L429.5,250.0 L430.1,249.1 L430.6,248.3 L431.2,247.4 L431.7,246.5 L432.2,245.6 L432.8,244.8 L433.3,243.9 L433.8,243.0 L434.3,242.1 L434.8,241.3 L435.3,240.4 L435.8,239.5 L436.3,238.6 L436.8,237.7 L437.3,236.9 L437.7,236.0 L438.2,235.1 L438.7,234.2 L439.1,233.3 L439.6,232.4 L440.0,231.5 L440.5,230.6 L440.9,229.7 L441.4,228.8 L441.8,227.9 L442.2,227.0 L442.6,226.1 L443.1,225.2 L443.5,224.3 L443.9,223.4 L444.3,222.5 L444.7,221.6 L445.1,220.7 L445.5,219.8 L445.9,218.8 L446.3,217.9 L446.7,217.0 L447.0,216.1 L447.4,215.2 L447.8,214.3 L448.2,213.3 L448.5,212.4 L448.9,211.5 L449.3,210.6 L449.6,209.6 L450.0,208.7 L450.3,207.8 L450.7,206.9 L451.0,205.9 L451.4,205.0 L451.7,204.1 L452.0,203.1 L452.4,202.2 L452.7,201.3 L453.0,200.3 L453.3,199.4 L453.7,198.5 L454.0,197.5 L454.3,196.6 L454.6,195.7 L454.9,194.7 L455.2,193.8 L455.5,192.8 L455.8,191.9 L456.2,191.0 L456.5,190.0 L456.8,189.1 L457.0,188.1 L457.3,187.2 L457.6,186.2 L457.9,185.3 L458.2,184.3 L458.5,183.4 L458.8,182.4 L459.1,181.5 L459.4,180.5 L459.6,179.6 L459.9,178.6 L460.2,177.7 L460.5,176.7 L460.8,175.8 L461.0,174.8 L461.3,173.8 L461.6,172.9 L461.9,171.9 L462.1,171.0 L462.4,170.0 L462.7,169.1 L462.9,168.1 L463.2,167.1 L463.5,166.2 L463.7,165.2 L464.0,164.3 L464.3,163.3 L464.5,162.3 L464.8,161.4 L465.1,160.4 L465.3,159.5 L465.6,158.5 L465.9,157.5 L466.1,156.6 L466.4,155.6 L466.6,154.6 L466.9,153.7 L467.2,152.7 L467.4,151.7 L467.7,150.8 L468.0,149.8 L468.2,148.8 L468.5,147.9 L468.8,146.9 L469.0,145.9 L469.3,145.0 L469.6,144.0 L469.8,143.0 L470.1,142.1 L470.4,141.1 L470.6,140.1 L470.9,139.2 L471.2,138.2 L471.4,137.2 L471.7,136.3 L472.0,135.3 L472.3,134.3 L472.6,133.4 L472.8,132.4 L473.1,131.4 L473.4,130.5 L473.7,129.5 L474.0,128.5 L474.2,127.6 L474.5,126.6 L474.8,125.6 L475.1,124.7 L475.4,123.7 L475.7,122.7 L476.0,121.8 L476.3,120.8 L476.6,119.8 L476.9,118.9 L477.2,117.9 L477.5,116.9 L477.8,116.0 L478.1,115.0 L478.5,114.0 L478.8,113.1 L479.1,112.1 L479.4,111.1 L479.7,110.2 L480.1,109.2 L480.4,108.3 L480.7,107.3 L481.1,106.3 L481.4,105.4 L481.7,104.4 L482.1,103.4 L482.4,102.5 L482.8,101.5 L483.1,100.6 L483.5,99.6 L483.9,98.7 L484.2,97.7 L484.6,96.7 L485.0,95.8 L485.3,94.8 L485.7,93.9 L486.1,92.9 L486.5,92.0 L486.9,91.0 L487.3,90.1 L487.7,89.1 L488.1,88.2 L488.5,87.2 L488.9,86.3 L489.3,85.4 L489.8,84.4 L490.2,83.5 L490.7,82.6 L491.2,81.7 L491.7,80.8 L492.2,80.0 L492.7,79.1 L493.2,78.3 L493.7,77.4 L494.3,76.6 L494.9,75.8 L495.4,75.0 L496.0,74.2 L496.7,73.4 L497.3,72.7 L498.0,71.9 L498.6,71.2 L499.3,70.5 L500.1,69.8 L500.8,69.2 L501.5,68.5 L502.3,67.9 L503.1,67.4 L503.9,66.8 L504.7,66.3 L505.5,65.9 L506.3,65.4 L507.2,65.0 L508.0,64.7 L508.9,64.4 L509.7,64.1 L510.6,63.9 L511.5,63.7 L512.4,63.6 L513.2,63.6 L514.1,63.6 L515.0,63.6 L515.9,63.7 L516.8,63.9 L517.7,64.1 L518.6,64.3 L519.5,64.6 L520.4,64.9 L521.3,65.2 L522.1,65.6 L523.0,66.1 L523.9,66.5 L524.7,67.0 L525.6,67.5 L526.4,68.1 L527.2,68.6 L528.1,69.2 L528.9,69.8 L529.6,70.4 L530.4,71.1 L531.2,71.7 L531.9,72.4 L532.7,73.1 L533.4,73.8 L534.1,74.5 L534.8,75.2 L535.5,75.9 L536.2,76.7 L536.9,77.4 L537.5,78.2 L538.2,79.0 L538.9,79.8 L539.5,80.6 L540.2,81.4 L540.8,82.2 L541.4,83.0 L542.0,83.8 L542.7,84.6 L543.3,85.5 L543.9,86.3 L544.5,87.1 L545.1,88.0 L545.7,88.8 L546.4,89.7 L547.0,90.5 L547.6,91.4 L548.2,92.2 L548.8,93.0 L549.4,93.9 L550.0,94.7 L550.7,95.5 L551.3,96.3 L551.9,97.2 L552.6,98.0 L553.2,98.8 L553.8,99.6 L554.5,100.4 L555.1,101.2 L555.8,102.0 L556.4,102.8 L557.1,103.5 L557.8,104.3 L558.4,105.1 L559.1,105.9 L559.8,106.6 L560.5,107.4 L561.1,108.1 L561.8,108.9 L562.5,109.6 L563.2,110.4 L563.9,111.1 L564.6,111.8 L565.3,112.5 L566.0,113.3 L566.8,114.0 L567.5,114.7 L568.2,115.4 L568.9,116.1 L569.6,116.8 L570.4,117.5 L571.1,118.1 L571.8,118.8 L572.6,119.5 L573.3,120.2 L574.1,120.8 L574.8,121.5 L575.6,122.1 L576.3,122.8 L577.1,123.4 L577.9,124.1 L578.6,124.7 L579.4,125.3 L580.2,126.0 L581.0,126.6 L581.8,127.2 L582.5,127.8 L583.3,128.4 L584.1,129.0 L584.9,129.6 L585.7,130.2 L586.5,130.8 L587.3,131.4 L588.1,132.0 L588.9,132.6 L589.7,133.1 L590.6,133.7 L591.4,134.3 L592.2,134.8 L593.0,135.4 L593.9,135.9 L594.7,136.5 L595.5,137.0 L596.4,137.5 L597.2,138.1 L598.0,138.6 L598.9,139.1 L599.7,139.6 L600.6,140.1 L601.4,140.6 L602.3,141.1 L603.1,141.6 L604.0,142.1 L604.9,142.6 L605.7,143.1 L606.6,143.6 L607.5,144.1 L608.3,144.5 L609.2,145.0 L610.1,145.5 L611.0,145.9 L611.9,146.4 L612.8,146.8 L613.6,147.3 L614.5,147.7 L615.4,148.1 L616.3,148.6 L617.2,149.0 L618.1,149.4 L619.0,149.8 L619.9,150.2 L620.8,150.6 L621.7,151.0 L622.7,151.4 L623.6,151.8 L624.5,152.2 L625.4,152.6 L626.3,153.0 L627.3,153.4 L628.2,153.7 L629.1,154.1 L630.0,154.5 L631.0,154.8 L631.9,155.2 L632.8,155.5 L633.8,155.9 L634.7,156.2 L635.7,156.6 L636.6,156.9 L637.5,157.2 L638.5,157.5 L639.4,157.9 L640.4,158.2 L641.3,158.5 L642.3,158.8 L643.3,159.1 L644.2,159.4 L645.2,159.7 L646.1,160.0 L647.1,160.3 L648.1,160.5 L649.0,160.8 L650.0,161.1 L651.0,161.4 L651.9,161.6 L652.9,161.9 L653.9,162.1 L654.9,162.4 L655.8,162.6 L656.8,162.9 L657.8,163.1 L658.8,163.4 L659.8,163.6 L660.7,163.8 L661.7,164.0 L662.7,164.3 L663.7,164.5 L664.7,164.7 L665.7,164.9 L666.7,165.1 L667.7,165.3 L668.7,165.5 L669.6,165.7 L670.6,165.9 L671.6,166.0 L672.6,166.2 L673.6,166.4 L674.6,166.6 L675.6,166.7 L676.6,166.9 L677.6,167.0 L678.6,167.2 L679.6,167.3 L680.6,167.5 L681.6,167.6 L682.6,167.8 L683.6,167.9 L684.6,168.0 L685.6,168.2 L686.6,168.3 L687.6,168.4 L688.6,168.5 L689.6,168.6 L690.6,168.7 L691.6,168.8 L692.6,168.9 L693.6,169.0 L694.6,169.1 L695.6,169.2 L696.6,169.3 L697.6,169.4 L698.6,169.5 L699.6,169.5 L700.6,169.6 L701.6,169.7 L702.6,169.7 L703.6,169.8 L704.6,169.9 L705.6,169.9 L706.6,170.0 L707.6,170.0 L708.6,170.0 L709.6,170.1 L710.6,170.1 L711.6,170.1 L712.6,170.2 L713.6,170.2 L714.6,170.2 L715.6,170.2 L716.6,170.2 L717.6,170.3 L718.6,170.3 L719.6,170.3 L720.6,170.3 L721.5,170.3 L722.5,170.2 L723.5,170.2 L724.5,170.2 L725.5,170.2 L726.5,170.2 L727.5,170.2 L728.4,170.1 L729.4,170.1 L731.2,171.5 L731.6,174.5 L731.0,177.5 L731.4,177.8 L730.7,178.6 L730.1,179.4 L729.5,180.1 L728.8,180.9 L728.1,181.6 L727.4,182.3 L726.7,183.0 L726.0,183.7 L725.3,184.4 L724.5,185.0 L723.8,185.7 L723.0,186.3 L722.2,186.9 L721.5,187.5 L720.7,188.0 L719.9,188.6 L719.0,189.2 L718.2,189.7 L717.4,190.2 L716.5,190.7 L715.7,191.2 L714.8,191.7 L714.0,192.2 L713.1,192.7 L712.2,193.1 L711.3,193.6 L710.4,194.0 L709.5,194.4 L708.6,194.8 L707.7,195.2 L706.8,195.6 L705.8,196.0 L704.9,196.4 L704.0,196.8 L703.0,197.1 L702.1,197.5 L701.1,197.9 L700.2,198.2 L699.2,198.5 L698.3,198.9 L697.3,199.2 L696.4,199.5 L695.4,199.9 L694.4,200.2 L693.5,200.5 L692.5,200.8 L691.5,201.1 L690.5,201.4 L689.6,201.7 L688.6,202.0 L687.6,202.3 L686.7,202.6 L685.7,202.9 L684.7,203.2 L683.8,203.5 L682.8,203.7 L681.8,204.0 L680.8,204.3 L679.9,204.6 L678.9,204.9 L677.9,205.1 L677.0,205.4 L676.0,205.7 L675.0,205.9 L674.1,206.2 L673.1,206.5 L672.1,206.7 L671.2,207.0 L670.2,207.3 L669.2,207.5 L668.3,207.8 L667.3,208.0 L666.3,208.3 L665.3,208.5 L664.4,208.8 L663.4,209.0 L662.4,209.3 L661.5,209.5 L660.5,209.8 L659.5,210.0 L658.6,210.2 L657.6,210.5 L656.6,210.7 L655.6,210.9 L654.7,211.2 L653.7,211.4 L652.7,211.6 L651.8,211.9 L650.8,212.1 L649.8,212.3 L648.8,212.5 L647.9,212.7 L646.9,213.0 L645.9,213.2 L644.9,213.4 L644.0,213.6 L643.0,213.8 L642.0,214.0 L641.1,214.3 L640.1,214.5 L639.1,214.7 L638.1,214.9 L637.1,215.1 L636.2,215.3 L635.2,215.5 L634.2,215.7 L633.2,215.9 L632.3,216.1 L631.3,216.3 L630.3,216.5 L629.3,216.7 L628.3,216.9 L627.4,217.1 L626.4,217.3 L625.4,217.4 L624.4,217.6 L623.4,217.8 L622.4,218.0 L621.5,218.2 L620.5,218.4 L619.5,218.6 L618.5,218.8 L617.5,218.9 L616.5,219.1 L615.5,219.3 L614.5,219.5 L613.6,219.7 L612.6,219.8 L611.6,220.0 L610.6,220.2 L609.6,220.4 L608.6,220.6 L607.6,220.8 L606.6,220.9 L605.6,221.1 L604.7,221.3 L603.7,221.5 L602.7,221.7 L601.7,221.9 L600.7,222.1 L599.7,222.3 L598.8,222.6 L597.8,222.8 L596.8,223.0 L595.8,223.2 L594.8,223.5 L593.9,223.7 L592.9,223.9 L591.9,224.2 L591.0,224.4 L590.0,224.7 L589.0,225.0 L588.1,225.3 L587.1,225.5 L586.1,225.8 L585.2,226.1 L584.2,226.5 L583.3,226.8 L582.3,227.1 L581.4,227.4 L580.5,227.8 L579.5,228.1 L578.6,228.5 L577.7,228.9 L576.7,229.3 L575.8,229.7 L574.9,230.1 L574.0,230.5 L573.1,230.9 L572.2,231.4 L571.3,231.8 L570.4,232.3 L569.5,232.8 L568.6,233.2 L567.7,233.7 L566.8,234.2 L565.9,234.7 L565.1,235.3 L564.2,235.8 L563.4,236.4 L562.5,236.9 L561.7,237.5 L560.9,238.0 L560.0,238.6 L559.2,239.2 L558.4,239.8 L557.6,240.4 L556.8,241.1 L556.1,241.7 L555.3,242.3 L554.5,243.0 L553.8,243.7 L553.0,244.3 L552.3,245.0 L551.6,245.7 L550.9,246.4 L550.1,247.1 L549.5,247.8 L548.8,248.5 L548.1,249.3 L547.4,250.0 L546.8,250.7 L546.1,251.5 L545.5,252.2 L544.8,253.0 L544.2,253.8 L543.6,254.6 L543.0,255.4 L542.4,256.2 L541.8,257.0 L541.2,257.8 L540.6,258.6 L540.0,259.4 L539.5,260.2 L538.9,261.1 L538.4,261.9 L537.8,262.7 L537.3,263.6 L536.7,264.4 L536.2,265.3 L535.7,266.1 L535.2,267.0 L534.7,267.9 L534.2,268.8 L533.7,269.6 L533.2,270.5 L532.7,271.4 L532.2,272.3 L531.7,273.2 L531.2,274.1 L530.8,275.0 L530.3,275.9 L529.9,276.8 L529.4,277.7 L528.9,278.6 L528.5,279.5 L528.1,280.4 L527.6,281.3 L527.2,282.2 L526.7,283.2 L526.3,284.1 L525.9,285.0 L525.5,285.9 L525.0,286.8 L524.6,287.7 L524.2,288.7 L523.8,289.6 L523.4,290.5 L523.0,291.4 L522.5,292.4 L522.1,293.3 L521.7,294.2 L521.3,295.1 L520.9,296.0 L520.5,297.0 L520.1,297.9 L519.7,298.8 L519.4,299.7 L519.0,300.7 L518.6,301.6 L518.2,302.5 L517.8,303.4 L517.4,304.3 L517.0,305.3 L516.7,306.2 L516.3,307.1 L515.9,308.0 L515.5,309.0 L515.2,309.9 L514.8,310.8 L514.4,311.7 L514.1,312.7 L513.7,313.6 L513.3,314.5 L513.0,315.4 L512.6,316.4 L512.3,317.3 L511.9,318.2 L511.6,319.1 L511.2,320.1 L510.9,321.0 L510.5,321.9 L510.2,322.9 L509.8,323.8 L509.5,324.7 L509.2,325.6 L508.8,326.6 L508.5,327.5 L508.1,328.4 L507.8,329.4 L507.5,330.3 L507.2,331.2 L506.8,332.2 L506.5,333.1 L506.2,334.1 L505.9,335.0 L505.5,335.9 L505.2,336.9 L504.9,337.8 L504.6,338.7 L504.3,339.7 L504.0,340.6 L503.6,341.6 L503.3,342.5 L503.0,343.5 L502.7,344.4 L502.4,345.3 L502.1,346.3 L501.8,347.2 L501.5,348.2 L501.2,349.1 L500.9,350.1 L500.6,351.0 L500.3,352.0 L500.0,352.9 L499.7,353.9 L499.5,354.8 L499.2,355.8 L498.9,356.8 L498.6,357.7 L498.3,358.7 L498.0,359.6 L497.8,360.6 L497.5,361.5 L497.2,362.5 L496.9,363.5 L496.7,364.4 L496.4,365.4 L496.1,366.4 L495.8,367.3 L495.6,368.3 L495.3,369.3 L495.0,370.2 L494.8,371.2 L494.5,372.2 L494.2,373.2 L494.0,374.1 L493.7,375.1 L493.5,376.1 L493.2,377.1 L493.0,378.1 L492.7,379.0 L492.4,380.0 L492.2,381.0 L491.9,382.0 L491.7,383.0 L491.4,384.0 L491.2,385.0 L490.9,385.9 L490.7,386.9 L490.4,387.9 L490.2,388.9 L489.9,389.9 L489.7,390.9 L489.4,391.9 L489.1,392.9 L488.9,393.9 L488.6,394.8 L488.4,395.8 L488.1,396.8 L487.8,397.8 L487.5,398.8 L487.3,399.8 L487.0,400.8 L486.7,401.8 L486.4,402.7 L486.2,403.7 L485.9,404.7 L485.6,405.7 L485.3,406.7 L485.0,407.7 L484.7,408.6 L484.4,409.6 L484.1,410.6 L483.8,411.6 L483.5,412.5 L483.1,413.5 L482.8,414.5 L482.5,415.5 L482.2,416.4 L481.8,417.4 L481.5,418.4 L481.1,419.3 L480.8,420.3 L480.4,421.2 L480.0,422.2 L479.7,423.1 L479.3,424.1 L478.9,425.0 L478.5,426.0 L478.1,426.9 L477.7,427.9 L477.3,428.8 L476.8,429.7 L476.4,430.7 L476.0,431.6 L475.5,432.5 L475.1,433.4 L474.6,434.4 L474.2,435.3 L473.7,436.2 L473.2,437.1 L472.7,438.0 L472.2,438.9 L471.7,439.8 L471.2,440.7 L470.7,441.6 L470.1,442.5 L469.6,443.4 L469.0,444.2 L468.4,445.1 L467.9,446.0 L467.3,446.8 L466.7,447.7 L466.1,448.5 L465.5,449.3 L464.8,450.0 L464.2,450.8 L463.5,451.5 L462.9,452.2 L462.2,452.8 L461.5,453.4 L460.8,454.0 L460.1,454.5 L459.4,455.0 L458.7,455.5 L457.9,455.9 L457.2,456.2 L456.4,456.5 L455.7,456.8 L454.9,457.0 L454.1,457.1 L453.3,457.2 L452.5,457.2 L451.7,457.2 L450.9,457.1 L450.1,457.0 L449.3,456.9 L448.5,456.7 L447.7,456.4 L446.9,456.1 L446.1,455.8 L445.2,455.4 L444.4,455.0 L443.6,454.6 L442.8,454.1 L442.0,453.6 L441.2,453.1 L440.4,452.5 L439.6,452.0 L438.8,451.4 L438.0,450.7 L437.2,450.1 L436.4,449.5 L435.6,448.8 L434.9,448.1 L434.1,447.4 L433.4,446.7 L432.6,446.0 L431.9,445.3 L431.2,444.6 L430.4,443.8 L429.7,443.1 L429.0,442.3 L428.3,441.6 L427.6,440.8 L427.0,440.0 L426.3,439.3 L425.6,438.5 L424.9,437.7 L424.3,436.9 L423.6,436.1 L423.0,435.3 L422.3,434.5 L421.7,433.7 L421.0,432.9 L420.4,432.1 L419.7,431.3 L419.1,430.4 L418.5,429.6 L417.9,428.8 L417.2,428.0 L416.6,427.1 L416.0,426.3 L415.4,425.5 L414.7,424.6 L414.1,423.8 L413.5,423.0 L412.9,422.1 L412.3,421.3 L411.7,420.5 L411.0,419.6 L410.4,418.8 L409.8,418.0 L409.2,417.1 L408.6,416.3 L407.9,415.5 L407.3,414.7 L406.7,413.9 L406.1,413.1 L405.4,412.3 L404.8,411.5 L404.2,410.7 L403.5,409.9 L402.9,409.1 L402.2,408.3 L401.6,407.5 L400.9,406.7 L400.2,406.0 L399.6,405.2 L398.9,404.5 L398.2,403.7 L397.5,403.0 L396.9,402.2 L396.2,401.5 L395.5,400.8 L394.8,400.1 L394.1,399.4 L393.4,398.7 L392.6,398.0 L391.9,397.3 L391.2,396.6 L390.5,395.9 L389.7,395.2 L389.0,394.5 L388.3,393.9 L387.5,393.2 L386.8,392.6 L386.0,391.9 L385.3,391.3 L384.5,390.6 L383.8,390.0 L383.0,389.4 L382.2,388.7 L381.4,388.1 L380.7,387.5 L379.9,386.9 L379.1,386.3 L378.3,385.7 L377.5,385.1 L376.7,384.5 L375.9,384.0 L375.1,383.4 L374.3,382.8 L373.5,382.3 L372.7,381.7 L371.9,381.1 L371.0,380.6 L370.2,380.0 L369.4,379.5 L368.6,379.0 L367.7,378.4 L366.9,377.9 L366.0,377.4 L365.2,376.9 L364.4,376.4 L363.5,375.9 L362.6,375.4 L361.8,374.9 L360.9,374.4 L360.1,373.9 L359.2,373.4 L358.3,372.9 L357.5,372.4 L356.6,372.0 L355.7,371.5 L354.8,371.0 L354.0,370.6 L353.1,370.1 L352.2,369.7 L351.3,369.2 L350.4,368.8 L349.5,368.4 L348.6,367.9 L347.7,367.5 L346.8,367.1 L345.9,366.7 L345.0,366.2 L344.1,365.8 L343.2,365.4 L342.2,365.0 L341.3,364.6 L340.4,364.2 L339.5,363.8 L338.6,363.4 L337.6,363.1 L336.7,362.7 L335.8,362.3 L334.8,361.9 L333.9,361.6 L333.0,361.2 L332.0,360.8 L331.1,360.5 L330.2,360.1 L329.2,359.8 L328.3,359.4 L327.3,359.1 L326.4,358.7 L325.4,358.4 L324.5,358.0 L323.5,357.7 L322.6,357.4 L321.6,357.1 L320.6,356.7 L319.7,356.4 L318.7,356.1 L317.7,355.8 L316.8,355.5 L315.8,355.2 L314.9,354.9 L313.9,354.6 L312.9,354.3 L311.9,354.0 L311.0,353.7 L310.0,353.4 L309.0,353.1 L308.0,352.8 L307.1,352.6 L306.1,352.3 L305.1,352.0 L304.1,351.7 L303.1,351.5 L302.2,351.2 L301.2,350.9 L300.2,350.7 L299.2,350.4 L298.2,350.2 L297.2,349.9 L296.3,349.6 L295.3,349.4 L294.3,349.2 L293.3,348.9 L292.3,348.7 L291.3,348.4 L290.3,348.2 L289.3,348.0 L288.3,347.7 L287.3,347.5 L286.4,347.3 L285.4,347.0 L284.4,346.8 L283.4,346.6 L282.4,346.4 L281.4,346.2 L280.4,345.9 L279.4,345.7 L278.4,345.5 L277.4,345.3 L276.4,345.1 L275.4,344.9 L274.4,344.7 L273.4,344.5 L272.4,344.3 L271.4,344.1 L270.5,343.9 L269.5,343.7 L268.5,343.5 L267.5,343.3 L266.5,343.1 L265.5,342.9 L264.5,342.7 L263.5,342.5 L262.5,342.4 L261.5,342.2 L260.5,342.0 L259.5,341.8 L258.6,341.6 L257.6,341.4 L256.6,341.3 L255.6,341.1 L254.6,340.9 L253.6,340.7 L252.6,340.6 L251.6,340.4 L250.7,340.2 L249.7,340.1 L248.7,339.9 L247.7,339.7 L246.7,339.5 L245.8,339.4 L244.8,339.2 L243.8,339.1 L242.8,338.9 L241.8,338.7 L240.9,338.6 L239.9,338.4 L238.9,338.2 L238.0,338.1 L237.0,337.9 L236.0,337.8 L235.1,337.6 L234.1,337.4 L233.1,337.3 L232.2,337.1 L231.2,337.0 L230.2,336.8 L229.3,336.7 L228.3,336.5 L227.4,336.4 L226.4,336.2 L225.5,336.0 L224.5,335.9 L223.6,335.7 L222.6,335.6 L221.7,335.4 L220.7,335.3 L219.8,335.1Z"/>
<path stroke="#000000" d="M218.5,326.4 L219.4,326.0 L220.4,325.7 L221.4,325.3 L222.3,325.0 L223.3,324.7 L224.2,324.3 L225.2,324.0 L226.1,323.7 L227.1,323.4 L228.1,323.1 L229.0,322.7 L230.0,322.4 L231.0,322.1 L231.9,321.8 L232.9,321.6 L233.9,321.3 L234.8,321.0 L235.8,320.7 L236.8,320.4 L237.7,320.2 L238.7,319.9 L239.7,319.6 L240.6,319.4 L241.6,319.1 L242.6,318.9 L243.5,318.6 L244.5,318.4 L245.5,318.2 L246.5,317.9 L247.4,317.7 L248.4,317.5 L249.4,317.2 L250.4,317.0 L251.3,316.8 L252.3,316.6 L253.3,316.4 L254.3,316.1 L255.2,315.9 L256.2,315.7 L257.2,315.5 L258.2,315.3 L259.1,315.1 L260.1,314.9 L261.1,314.8 L262.1,314.6 L263.1,314.4 L264.0,314.2 L265.0,314.0 L266.0,313.9 L267.0,313.7 L268.0,313.5 L269.0,313.3 L269.9,313.2 L270.9,313.0 L271.9,312.8 L272.9,312.7 L273.9,312.5 L274.9,312.4 L275.8,312.2 L276.8,312.1 L277.8,311.9 L278.8,311.8 L279.8,311.6 L280.8,311.5 L281.8,311.3 L282.7,311.2 L283.7,311.0 L284.7,310.9 L285.7,310.8 L286.7,310.6 L287.7,310.5 L288.7,310.4 L289.7,310.2 L290.7,310.1 L291.6,310.0 L292.6,309.9 L293.6,309.7 L294.6,309.6 L295.6,309.5 L296.6,309.4 L297.6,309.2 L298.6,309.1 L299.6,309.0 L300.6,308.9 L301.6,308.7 L302.5,308.6 L303.5,308.5 L304.5,308.4 L305.5,308.3 L306.5,308.2 L307.5,308.0 L308.5,307.9 L309.5,307.8 L310.5,307.7 L311.5,307.6 L312.5,307.5 L313.5,307.4 L314.4,307.2 L315.4,307.1 L316.4,307.0 L317.4,306.9 L318.4,306.8 L319.4,306.7 L320.4,306.5 L321.4,306.4 L322.4,306.3 L323.4,306.2 L324.4,306.1 L325.4,306.0 L326.4,305.8 L327.4,305.7 L328.4,305.6 L329.3,305.5 L330.3,305.4 L331.3,305.2 L332.3,305.1 L333.3,305.0 L334.3,304.9 L335.3,304.7 L336.3,304.6 L337.3,304.5 L338.3,304.4 L339.3,304.2 L340.3,304.1 L341.3,304.0 L342.2,303.8 L343.2,303.7 L344.2,303.6 L345.2,303.4 L346.2,303.3 L347.2,303.1 L348.2,303.0 L349.2,302.9 L350.2,302.7 L351.2,302.6 L352.2,302.4 L353.1,302.3 L354.1,302.1 L355.1,301.9 L356.1,301.8 L357.1,301.6 L358.1,301.5 L359.1,301.3 L360.1,301.1 L361.1,301.0 L362.0,300.8 L363.0,300.6 L364.0,300.4 L365.0,300.3 L366.0,300.1 L367.0,299.9 L368.0,299.7 L369.0,299.5 L369.9,299.3 L370.9,299.1 L371.9,298.9 L372.9,298.7 L373.9,298.5 L374.9,298.3 L375.9,298.1 L376.8,297.9 L377.8,297.7 L378.8,297.5 L379.8,297.2 L380.8,297.0 L381.8,296.8 L382.7,296.6 L383.7,296.3 L384.7,296.1 L385.7,295.8 L386.7,295.6 L387.6,295.3 L388.6,295.1 L389.6,294.8 L390.6,294.6 L391.5,294.3 L392.5,294.0 L393.5,293.8 L394.5,293.5 L395.5,293.2 L396.4,292.9 L397.4,292.6 L398.4,292.3 L399.4,292.0 L400.3,291.7 L401.3,291.4 L402.3,291.1 L403.2,290.8 L404.2,290.5 L405.2,290.1 L406.1,289.8 L407.1,289.5 L408.0,289.1 L409.0,288.8 L410.0,288.4 L410.9,288.1 L411.9,287.7 L412.8,287.3 L413.7,287.0 L414.7,286.6 L415.6,286.2 L416.6,285.8 L417.5,285.4 L418.4,285.0 L419.3,284.6 L420.2,284.1 L421.1,283.7 L422.1,283.3 L423.0,282.8 L423.9,282.4 L424.7,281.9 L425.6,281.5 L426.5,281.0 L427.4,280.5 L428.3,280.1 L429.1,279.6 L430.0,279.1 L430.8,278.6 L431.7,278.1 L432.5,277.5 L433.4,277.0 L434.2,276.5 L435.0,275.9 L435.8,275.4 L436.6,274.8 L437.4,274.2 L438.2,273.7 L439.0,273.1 L439.8,272.5 L440.5,271.9 L441.3,271.3 L442.0,270.6 L442.8,270.0 L443.5,269.4 L444.2,268.7 L444.9,268.1 L445.7,267.4 L446.3,266.7 L447.0,266.0 L447.7,265.3 L448.4,264.6 L449.1,263.9 L449.7,263.2 L450.4,262.5 L451.0,261.7 L451.6,261.0 L452.3,260.2 L452.9,259.5 L453.5,258.7 L454.1,257.9 L454.7,257.1 L455.3,256.4 L455.9,255.6 L456.5,254.8 L457.1,254.0 L457.6,253.1 L458.2,252.3 L458.8,251.5 L459.3,250.7 L459.9,249.8 L460.4,249.0 L461.0,248.2 L461.5,247.3 L462.1,246.5 L462.6,245.6 L463.1,244.8 L463.7,243.9 L464.2,243.0 L464.7,242.2 L465.3,241.3 L465.8,240.4 L466.3,239.5 L466.8,238.7 L467.3,237.8 L467.9,236.9 L468.4,236.0 L468.9,235.1 L469.4,234.2 L469.9,233.3 L470.4,232.4 L471.0,231.5 L471.5,230.7 L472.0,229.8 L472.5,228.9 L473.0,228.0 L473.5,227.1 L474.0,226.2 L474.6,225.3 L475.1,224.4 L475.6,223.5 L476.1,222.6 L476.7,221.7 L477.2,220.8 L477.7,219.9 L478.3,219.0 L478.8,218.2 L479.3,217.3 L479.9,216.4 L480.4,215.5 L481.0,214.6 L481.6,213.8 L482.1,212.9 L482.7,212.0 L483.3,211.2 L483.8,210.3 L484.4,209.4 L485.0,208.6 L485.6,207.8 L486.2,206.9 L486.8,206.1 L487.4,205.3 L488.0,204.5 L488.6,203.7 L489.3,202.9 L489.9,202.1 L490.5,201.3 L491.2,200.6 L491.8,199.8 L492.5,199.1 L493.2,198.3 L493.9,197.6 L494.5,196.9 L495.2,196.2 L496.0,195.6 L496.7,194.9 L497.4,194.3 L498.1,193.6 L498.9,193.0 L499.6,192.4 L500.4,191.8 L501.1,191.3 L501.9,190.7 L502.7,190.2 L503.5,189.7 L504.3,189.2 L505.1,188.7 L506.0,188.2 L506.8,187.8 L507.7,187.4 L508.5,187.0 L509.4,186.6 L510.2,186.2 L511.1,185.8 L512.0,185.5 L512.9,185.2 L513.8,184.9 L514.7,184.6 L515.6,184.3 L516.5,184.1 L517.4,183.8 L518.3,183.6 L519.2,183.4 L520.1,183.3 L521.1,183.1 L522.0,182.9 L522.9,182.8 L523.9,182.7 L524.8,182.6 L525.7,182.5 L526.7,182.5 L527.6,182.4 L528.6,182.4 L529.5,182.4 L530.4,182.4 L531.4,182.4 L532.3,182.5 L533.3,182.5 L534.2,182.6 L535.2,182.6 L536.2,182.7 L537.1,182.8 L538.1,183.0 L539.0,183.1 L540.0,183.2 L541.0,183.4 L541.9,183.5 L542.9,183.7 L543.9,183.9 L544.8,184.1 L545.8,184.3 L546.8,184.5 L547.8,184.8 L548.7,185.0 L549.7,185.3 L550.7,185.5 L551.7,185.8 L552.6,186.0 L553.6,186.3 L554.6,186.6 L555.6,186.9 L556.5,187.2 L557.5,187.5 L558.5,187.8 L559.5,188.2 L560.5,188.5 L561.5,188.8 L562.4,189.1 L563.4,189.5 L564.4,189.8 L565.4,190.2 L566.4,190.5 L567.4,190.9 L568.4,191.2 L569.4,191.6 L570.3,192.0 L571.3,192.3 L572.3,192.7 L573.3,193.1 L574.3,193.4 L575.3,193.8 L576.3,194.2 L577.3,194.5 L578.3,194.9 L579.2,195.3 L580.2,195.7 L581.2,196.0 L582.2,196.4 L583.2,196.7 L584.2,197.1 L585.2,197.5 L586.2,197.8 L587.2,198.2 L588.1,198.5 L589.1,198.9 L590.1,199.2 L591.1,199.5 L592.1,199.9 L593.1,200.2 L594.1,200.5 L595.0,200.8 L596.0,201.1 L597.0,201.4 L598.0,201.7 L599.0,202.0 L600.0,202.3 L600.9,202.6 L601.9,202.9 L602.9,203.2 L603.9,203.4 L604.9,203.7 L605.8,204.0 L606.8,204.2 L607.8,204.5 L608.8,204.7 L609.8,205.0 L610.7,205.2 L611.7,205.4 L612.7,205.7 L613.7,205.9 L614.6,206.1 L615.6,206.3 L616.6,206.6 L617.6,206.8 L618.5,207.0 L619.5,207.2 L620.5,207.4 L621.5,207.6 L622.5,207.8 L623.4,208.0 L624.4,208.1 L625.4,208.3 L626.4,208.5 L627.3,208.7 L628.3,208.8 L629.3,209.0 L630.3,209.2 L631.2,209.3 L632.2,209.5 L633.2,209.6 L634.2,209.8 L635.1,209.9 L636.1,210.1 L637.1,210.2 L638.1,210.4 L639.0,210.5 L640.0,210.6 L641.0,210.8 L642.0,210.9 L642.9,211.0 L643.9,211.2 L644.9,211.3 L645.9,211.4 L646.8,211.5 L647.8,211.6 L648.8,211.7 L649.8,211.8 L650.7,212.0 L651.7,212.1 L652.7,212.2 L653.7,212.3 L654.7,212.4 L655.6,212.5 L656.6,212.6 L657.6,212.6 L658.6,212.7 L659.5,212.8 L660.5,212.9 L661.5,213.0 L662.5,213.1 L663.5,213.2 L664.4,213.2 L665.4,213.3 L666.4,213.4 L667.4,213.5 L668.4,213.6 L669.4,213.6 L670.3,213.7 L671.3,213.8 L672.3,213.8 L673.3,213.9 L674.3,214.0 L675.3,214.1 L676.3,214.1 L677.2,214.2 L678.2,214.3 L679.2,214.3 L680.2,214.4 L681.2,214.4 L682.2,214.5 L683.2,214.6 L684.2,214.6 L685.2,214.7 L686.2,214.8 L687.2,214.8 L688.2,214.9 L689.2,214.9 L690.1,215.0 L691.1,215.1 L692.1,215.1 L693.1,215.2 L694.1,215.2 L695.1,215.3 L696.1,215.4 L697.1,215.4 L698.1,215.5 L699.1,215.5 L700.2,215.6 L701.2,215.7 L702.2,215.7 L703.2,215.8 L704.2,215.8 L705.2,215.9 L706.2,216.0 L707.2,216.0 L708.2,216.1 L709.2,216.2 L710.2,216.2 L711.3,216.3 L712.3,216.4 L713.3,216.4 L714.3,216.5 L715.3,216.6 L716.3,216.6 L717.4,216.7 L718.4,216.8 L719.4,216.9 L720.4,216.9 L721.5,217.0 L722.5,217.1 L723.5,217.2 L724.5,217.3 L725.6,217.4 L726.6,217.4 L727.6,217.5 L728.7,217.6 L729.7,217.7 L730.7,217.8 L731.2,218.8 L730.2,219.0 L729.2,219.3 L728.2,219.5 L727.2,219.8 L726.3,220.1 L725.3,220.3 L724.3,220.6 L723.3,220.8 L722.3,221.0 L721.3,221.3 L720.3,221.5 L719.4,221.8 L718.4,222.0 L717.4,222.3 L716.4,222.5 L715.4,222.7 L714.5,223.0 L713.5,223.2 L712.5,223.5 L711.5,223.7 L710.5,223.9 L709.6,224.2 L708.6,224.4 L707.6,224.6 L706.6,224.8 L705.6,225.1 L704.7,225.3 L703.7,225.5 L702.7,225.7 L701.7,226.0 L700.8,226.2 L699.8,226.4 L698.8,226.6 L697.9,226.9 L696.9,227.1 L695.9,227.3 L694.9,227.5 L694.0,227.7 L693.0,227.9 L692.0,228.2 L691.0,228.4 L690.1,228.6 L689.1,228.8 L688.1,229.0 L687.2,229.2 L686.2,229.4 L685.2,229.6 L684.3,229.9 L683.3,230.1 L682.3,230.3 L681.3,230.5 L680.4,230.7 L679.4,230.9 L678.4,231.1 L677.5,231.3 L676.5,231.5 L675.5,231.7 L674.6,231.9 L673.6,232.1 L672.6,232.3 L671.7,232.5 L670.7,232.7 L669.7,232.9 L668.7,233.1 L667.8,233.3 L666.8,233.5 L665.8,233.7 L664.9,233.9 L663.9,234.1 L662.9,234.3 L662.0,234.5 L661.0,234.7 L660.0,234.9 L659.1,235.1 L658.1,235.3 L657.1,235.5 L656.1,235.7 L655.2,235.9 L654.2,236.1 L653.2,236.3 L652.3,236.5 L651.3,236.7 L650.3,236.9 L649.3,237.1 L648.4,237.3 L647.4,237.5 L646.4,237.7 L645.4,237.9 L644.5,238.1 L643.5,238.3 L642.5,238.5 L641.6,238.7 L640.6,238.9 L639.6,239.1 L638.6,239.3 L637.7,239.5 L636.7,239.7 L635.7,239.9 L634.7,240.1 L633.7,240.3 L632.8,240.5 L631.8,240.7 L630.8,240.9 L629.8,241.1 L628.8,241.3 L627.9,241.5 L626.9,241.7 L625.9,241.9 L624.9,242.1 L623.9,242.3 L622.9,242.5 L622.0,242.7 L621.0,242.9 L620.0,243.1 L619.0,243.3 L618.0,243.5 L617.0,243.7 L616.0,243.9 L615.1,244.2 L614.1,244.4 L613.1,244.6 L612.1,244.8 L611.1,245.0 L610.1,245.2 L609.1,245.4 L608.1,245.6 L607.1,245.8 L606.1,246.1 L605.1,246.3 L604.1,246.5 L603.1,246.7 L602.1,246.9 L601.1,247.1 L600.1,247.4 L599.1,247.6 L598.1,247.8 L597.1,248.0 L596.1,248.2 L595.1,248.5 L594.1,248.7 L593.1,248.9 L592.1,249.1 L591.1,249.4 L590.1,249.6 L589.1,249.8 L588.1,250.1 L587.1,250.3 L586.1,250.5 L585.1,250.8 L584.1,251.0 L583.1,251.3 L582.1,251.5 L581.1,251.8 L580.1,252.0 L579.1,252.3 L578.1,252.6 L577.1,252.8 L576.1,253.1 L575.1,253.4 L574.1,253.7 L573.1,254.0 L572.1,254.2 L571.2,254.5 L570.2,254.8 L569.2,255.2 L568.3,255.5 L567.3,255.8 L566.3,256.1 L565.4,256.4 L564.4,256.8 L563.5,257.1 L562.5,257.5 L561.6,257.8 L560.7,258.2 L559.7,258.6 L558.8,258.9 L557.9,259.3 L557.0,259.7 L556.1,260.1 L555.2,260.5 L554.3,260.9 L553.4,261.3 L552.5,261.8 L551.6,262.2 L550.7,262.7 L549.9,263.1 L549.0,263.6 L548.1,264.0 L547.3,264.5 L546.5,265.0 L545.6,265.5 L544.8,266.0 L544.0,266.5 L543.2,267.1 L542.4,267.6 L541.6,268.1 L540.8,268.7 L540.0,269.3 L539.2,269.8 L538.4,270.4 L537.6,271.0 L536.9,271.6 L536.1,272.2 L535.4,272.8 L534.6,273.4 L533.9,274.0 L533.1,274.6 L532.4,275.3 L531.7,275.9 L530.9,276.6 L530.2,277.2 L529.5,277.9 L528.8,278.6 L528.1,279.2 L527.4,279.9 L526.7,280.6 L526.0,281.3 L525.3,282.0 L524.7,282.7 L524.0,283.4 L523.3,284.1 L522.6,284.8 L522.0,285.6 L521.3,286.3 L520.6,287.0 L520.0,287.8 L519.3,288.5 L518.7,289.3 L518.0,290.0 L517.4,290.8 L516.7,291.6 L516.1,292.3 L515.5,293.1 L514.8,293.9 L514.2,294.7 L513.6,295.4 L512.9,296.2 L512.3,297.0 L511.7,297.8 L511.1,298.6 L510.5,299.4 L509.8,300.2 L509.2,301.0 L508.6,301.8 L508.0,302.6 L507.4,303.4 L506.8,304.3 L506.2,305.1 L505.6,305.9 L505.0,306.7 L504.4,307.6 L503.8,308.4 L503.2,309.2 L502.6,310.0 L502.0,310.9 L501.4,311.7 L500.8,312.5 L500.2,313.4 L499.6,314.2 L499.0,315.0 L498.4,315.9 L497.8,316.7 L497.2,317.5 L496.5,318.4 L495.9,319.2 L495.3,320.1 L494.7,320.9 L494.1,321.7 L493.5,322.6 L492.9,323.4 L492.3,324.3 L491.7,325.1 L491.1,325.9 L490.5,326.8 L489.9,327.6 L489.3,328.4 L488.6,329.3 L488.0,330.1 L487.4,330.9 L486.8,331.7 L486.2,332.6 L485.5,333.4 L484.9,334.2 L484.3,335.0 L483.7,335.9 L483.0,336.7 L482.4,337.5 L481.7,338.3 L481.1,339.1 L480.5,339.9 L479.8,340.7 L479.1,341.5 L478.5,342.3 L477.8,343.1 L477.2,343.8 L476.5,344.6 L475.8,345.3 L475.1,346.1 L474.4,346.8 L473.7,347.5 L473.0,348.2 L472.3,348.9 L471.6,349.6 L470.9,350.2 L470.2,350.9 L469.4,351.5 L468.7,352.1 L467.9,352.7 L467.2,353.3 L466.4,353.9 L465.6,354.4 L464.8,354.9 L464.0,355.4 L463.2,355.9 L462.4,356.3 L461.6,356.8 L460.7,357.2 L459.9,357.5 L459.0,357.9 L458.2,358.2 L457.3,358.5 L456.4,358.8 L455.5,359.1 L454.6,359.3 L453.7,359.5 L452.8,359.7 L451.8,359.9 L450.9,360.0 L449.9,360.2 L449.0,360.3 L448.0,360.4 L447.1,360.5 L446.1,360.5 L445.2,360.5 L444.2,360.6 L443.2,360.6 L442.2,360.5 L441.2,360.5 L440.3,360.5 L439.3,360.4 L438.3,360.3 L437.3,360.2 L436.3,360.1 L435.3,360.0 L434.3,359.8 L433.3,359.7 L432.3,359.5 L431.3,359.3 L430.3,359.1 L429.3,358.9 L428.4,358.7 L427.4,358.5 L426.4,358.2 L425.4,358.0 L424.4,357.7 L423.4,357.4 L422.5,357.2 L421.5,356.9 L420.5,356.6 L419.5,356.3 L418.6,356.0 L417.6,355.6 L416.6,355.3 L415.7,355.0 L414.7,354.6 L413.7,354.3 L412.8,354.0 L411.8,353.6 L410.9,353.3 L409.9,352.9 L408.9,352.6 L408.0,352.2 L407.0,351.8 L406.1,351.5 L405.1,351.1 L404.1,350.8 L403.2,350.4 L402.2,350.0 L401.3,349.7 L400.3,349.3 L399.3,349.0 L398.4,348.6 L397.4,348.3 L396.5,348.0 L395.5,347.6 L394.5,347.3 L393.6,347.0 L392.6,346.7 L391.6,346.3 L390.7,346.0 L389.7,345.7 L388.7,345.4 L387.8,345.1 L386.8,344.8 L385.8,344.6 L384.9,344.3 L383.9,344.0 L382.9,343.7 L382.0,343.5 L381.0,343.2 L380.0,342.9 L379.0,342.7 L378.1,342.4 L377.1,342.2 L376.1,341.9 L375.1,341.7 L374.2,341.4 L373.2,341.2 L372.2,341.0 L371.2,340.8 L370.3,340.5 L369.3,340.3 L368.3,340.1 L367.3,339.9 L366.3,339.7 L365.4,339.5 L364.4,339.3 L363.4,339.1 L362.4,338.9 L361.4,338.7 L360.5,338.5 L359.5,338.3 L358.5,338.2 L357.5,338.0 L356.5,337.8 L355.5,337.7 L354.6,337.5 L353.6,337.3 L352.6,337.2 L351.6,337.0 L350.6,336.9 L349.6,336.7 L348.6,336.6 L347.6,336.4 L346.7,336.3 L345.7,336.1 L344.7,336.0 L343.7,335.9 L342.7,335.7 L341.7,335.6 L340.7,335.5 L339.7,335.4 L338.7,335.2 L337.7,335.1 L336.8,335.0 L335.8,334.9 L334.8,334.8 L333.8,334.7 L332.8,334.6 L331.8,334.5 L330.8,334.4 L329.8,334.3 L328.8,334.2 L327.8,334.1 L326.8,334.0 L325.8,333.9 L324.8,333.8 L323.8,333.7 L322.8,333.6 L321.8,333.5 L320.8,333.4 L319.8,333.4 L318.8,333.3 L317.8,333.2 L316.8,333.1 L315.8,333.1 L314.8,333.0 L313.8,332.9 L312.8,332.8 L311.8,332.8 L310.8,332.7 L309.8,332.6 L308.8,332.6 L307.8,332.5 L306.8,332.4 L305.8,332.4 L304.8,332.3 L303.8,332.3 L302.8,332.2 L301.8,332.1 L300.8,332.1 L299.8,332.0 L298.8,332.0 L297.8,331.9 L296.8,331.9 L295.8,331.8 L294.8,331.8 L293.8,331.7 L292.8,331.7 L291.8,331.6 L290.8,331.6 L289.8,331.5 L288.8,331.5 L287.8,331.4 L286.8,331.4 L285.8,331.3 L284.8,331.3 L283.8,331.2 L282.8,331.2 L281.8,331.1 L280.8,331.1 L279.8,331.0 L278.8,331.0 L277.8,330.9 L276.8,330.9 L275.8,330.8 L274.8,330.8 L273.8,330.8 L272.8,330.7 L271.8,330.7 L270.8,330.6 L269.8,330.6 L268.7,330.5 L267.7,330.5 L266.7,330.4 L265.7,330.4 L264.7,330.3 L263.7,330.3 L262.7,330.2 L261.7,330.2 L260.7,330.1 L259.7,330.0 L258.7,330.0 L257.7,329.9 L256.7,329.9 L255.7,329.8 L254.7,329.8 L253.7,329.7 L252.7,329.6 L251.7,329.6 L250.7,329.5 L249.7,329.4 L248.7,329.4 L247.7,329.3 L246.7,329.2 L245.7,329.2 L244.7,329.1 L243.7,329.0 L242.7,329.0 L241.7,328.9 L240.7,328.8 L239.7,328.7 L238.7,328.6 L237.7,328.6 L236.7,328.5 L235.7,328.4 L234.7,328.3 L233.7,328.2 L232.7,328.1 L231.7,328.0 L230.7,327.9 L229.7,327.8 L228.7,327.7 L227.7,327.6 L226.7,327.5 L225.7,327.4 L224.7,327.3 L223.7,327.2 L222.7,327.1 L221.7,327.0 L220.7,326.9 L219.7,326.8 L218.7,326.6Z"/>
</g>
<line x1="197.5" y1="62.9" x2="242" y2="62.9" stroke="#ff0000" stroke-width="3" stroke-linecap="round"/>
<text x="251.9" y="72.3" font-size="29.50" text-anchor="start">Au</text>
<line x1="197.5" y1="100.0" x2="242" y2="100.0" stroke="#000000" stroke-width="3" stroke-linecap="round"/>
<text x="251.9" y="109.4" font-size="29.50" text-anchor="start">NGQDs</text>
<line x1="197.5" y1="137.0" x2="242" y2="137.0" stroke="#0000ff" stroke-width="3" stroke-linecap="round"/>
<text x="251.9" y="146.4" font-size="29.50" text-anchor="start">Au/NGQDs</text>
<g fill="none" stroke-width="3.6" stroke-linejoin="round" stroke-linecap="round">
<path stroke="#ff0000" d="M228.3,1044.6 L228.9,1045.5 L229.4,1046.4 L230.1,1047.2 L230.7,1048.0 L231.4,1048.7 L232.0,1049.4 L232.8,1050.1 L233.5,1050.7 L234.3,1051.3 L235.1,1051.8 L235.9,1052.3 L236.7,1052.8 L237.6,1053.2 L238.4,1053.6 L239.3,1054.0 L240.2,1054.4 L241.2,1054.7 L242.1,1055.0 L243.1,1055.2 L244.0,1055.5 L245.0,1055.7 L246.0,1055.8 L247.0,1056.0 L248.0,1056.1 L249.0,1056.3 L250.0,1056.4 L251.1,1056.4 L252.1,1056.5 L253.1,1056.6 L254.2,1056.6 L255.2,1056.6 L256.2,1056.6 L257.3,1056.6 L258.3,1056.6 L259.4,1056.6 L260.4,1056.6 L261.4,1056.5 L262.4,1056.5 L263.5,1056.4 L264.5,1056.3 L265.5,1056.3 L266.5,1056.2 L267.5,1056.1 L268.5,1056.0 L269.6,1055.9 L270.6,1055.8 L271.6,1055.7 L272.6,1055.5 L273.6,1055.4 L274.6,1055.2 L275.5,1055.1 L276.5,1054.9 L277.5,1054.8 L278.5,1054.6 L279.5,1054.4 L280.5,1054.2 L281.4,1054.0 L282.4,1053.8 L283.4,1053.6 L284.4,1053.4 L285.3,1053.2 L286.3,1052.9 L287.3,1052.7 L288.2,1052.5 L289.2,1052.2 L290.2,1051.9 L291.1,1051.7 L292.1,1051.4 L293.0,1051.1 L294.0,1050.9 L294.9,1050.6 L295.9,1050.3 L296.8,1050.0 L297.8,1049.7 L298.7,1049.4 L299.7,1049.1 L300.6,1048.7 L301.5,1048.4 L302.5,1048.1 L303.4,1047.7 L304.3,1047.4 L305.3,1047.1 L306.2,1046.7 L307.1,1046.4 L308.1,1046.0 L309.0,1045.6 L309.9,1045.3 L310.9,1044.9 L311.8,1044.5 L312.7,1044.1 L313.6,1043.8 L314.5,1043.4 L315.5,1043.0 L316.4,1042.6 L317.3,1042.2 L318.2,1041.8 L319.1,1041.4 L320.1,1040.9 L321.0,1040.5 L321.9,1040.1 L322.8,1039.7 L323.7,1039.3 L324.6,1038.8 L325.5,1038.4 L326.4,1038.0 L327.4,1037.5 L328.3,1037.1 L329.2,1036.7 L330.1,1036.2 L331.0,1035.8 L331.9,1035.4 L332.8,1034.9 L333.7,1034.5 L334.6,1034.1 L335.5,1033.6 L336.5,1033.2 L337.4,1032.7 L338.3,1032.3 L339.2,1031.9 L340.1,1031.4 L341.0,1031.0 L341.9,1030.6 L342.8,1030.1 L343.7,1029.7 L344.7,1029.3 L345.6,1028.8 L346.5,1028.4 L347.4,1028.0 L348.3,1027.6 L349.2,1027.2 L350.2,1026.8 L351.1,1026.4 L352.0,1025.9 L352.9,1025.5 L353.8,1025.1 L354.8,1024.8 L355.7,1024.4 L356.6,1024.0 L357.5,1023.6 L358.5,1023.2 L359.4,1022.9 L360.3,1022.5 L361.3,1022.1 L362.2,1021.8 L363.1,1021.4 L364.1,1021.1 L365.0,1020.8 L366.0,1020.4 L366.9,1020.1 L367.9,1019.8 L368.8,1019.5 L369.8,1019.2 L370.7,1018.9 L371.7,1018.6 L372.6,1018.3 L373.6,1018.1 L374.5,1017.8 L375.5,1017.6 L376.5,1017.3 L377.4,1017.1 L378.4,1016.9 L379.4,1016.7 L380.4,1016.5 L381.3,1016.3 L382.3,1016.1 L383.3,1015.9 L384.3,1015.8 L385.2,1015.6 L386.2,1015.5 L387.2,1015.4 L388.2,1015.3 L389.2,1015.2 L390.2,1015.1 L391.2,1015.1 L392.2,1015.0 L393.1,1015.0 L394.1,1015.0 L395.1,1015.0 L396.1,1015.1 L397.1,1015.1 L398.1,1015.2 L399.1,1015.3 L400.1,1015.4 L401.0,1015.5 L402.0,1015.7 L403.0,1015.8 L404.0,1016.0 L405.0,1016.3 L406.0,1016.5 L406.9,1016.8 L407.9,1017.1 L408.9,1017.4 L409.9,1017.7 L410.8,1018.1 L411.8,1018.5 L412.8,1018.9 L413.8,1019.3 L414.7,1019.7 L415.7,1020.1 L416.7,1020.6 L417.6,1021.0 L418.6,1021.4 L419.5,1021.8 L420.5,1022.3 L421.5,1022.7 L422.4,1023.1 L423.4,1023.4 L424.3,1023.8 L425.3,1024.1 L426.2,1024.5 L427.2,1024.8 L428.1,1025.0 L429.1,1025.2 L430.1,1025.4 L431.0,1025.6 L432.0,1025.7 L432.9,1025.8 L433.9,1025.8 L434.8,1025.8 L435.8,1025.7 L436.7,1025.5 L437.7,1025.4 L438.6,1025.1 L439.6,1024.8 L440.5,1024.5 L441.4,1024.1 L442.4,1023.6 L443.3,1023.2 L444.2,1022.7 L445.1,1022.1 L445.9,1021.5 L446.8,1020.9 L447.6,1020.3 L448.4,1019.7 L449.2,1019.0 L450.0,1018.3 L450.7,1017.6 L451.4,1016.9 L452.1,1016.2 L452.8,1015.4 L453.4,1014.7 L454.0,1013.9 L454.6,1013.1 L455.2,1012.3 L455.8,1011.5 L456.3,1010.7 L456.8,1009.9 L457.3,1009.0 L457.8,1008.2 L458.2,1007.3 L458.7,1006.4 L459.1,1005.5 L459.5,1004.7 L459.9,1003.8 L460.3,1002.8 L460.7,1001.9 L461.0,1001.0 L461.4,1000.1 L461.7,999.1 L462.0,998.2 L462.3,997.2 L462.6,996.2 L462.9,995.3 L463.1,994.3 L463.4,993.3 L463.6,992.3 L463.9,991.3 L464.1,990.3 L464.3,989.4 L464.6,988.4 L464.8,987.4 L465.0,986.3 L465.2,985.3 L465.4,984.3 L465.6,983.3 L465.7,982.3 L465.9,981.3 L466.1,980.3 L466.3,979.3 L466.5,978.3 L466.6,977.2 L466.8,976.2 L467.0,975.2 L467.2,974.2 L467.3,973.2 L467.5,972.2 L467.7,971.2 L467.9,970.2 L468.0,969.2 L468.2,968.2 L468.4,967.2 L468.5,966.2 L468.7,965.2 L468.9,964.2 L469.0,963.2 L469.2,962.2 L469.4,961.2 L469.5,960.2 L469.7,959.2 L469.9,958.3 L470.0,957.3 L470.2,956.3 L470.4,955.3 L470.5,954.3 L470.7,953.3 L470.8,952.3 L471.0,951.3 L471.1,950.3 L471.3,949.4 L471.5,948.4 L471.6,947.4 L471.8,946.4 L471.9,945.4 L472.1,944.4 L472.2,943.4 L472.4,942.4 L472.5,941.5 L472.6,940.5 L472.8,939.5 L472.9,938.5 L473.1,937.5 L473.2,936.5 L473.4,935.5 L473.5,934.6 L473.6,933.6 L473.8,932.6 L473.9,931.6 L474.0,930.6 L474.2,929.6 L474.3,928.6 L474.4,927.6 L474.5,926.6 L474.7,925.7 L474.8,924.7 L474.9,923.7 L475.0,922.7 L475.2,921.7 L475.3,920.7 L475.4,919.7 L475.5,918.7 L475.6,917.7 L475.8,916.7 L475.9,915.8 L476.0,914.8 L476.1,913.8 L476.2,912.8 L476.3,911.8 L476.4,910.8 L476.6,909.8 L476.7,908.8 L476.8,907.8 L476.9,906.8 L477.0,905.8 L477.1,904.8 L477.2,903.9 L477.3,902.9 L477.4,901.9 L477.5,900.9 L477.6,899.9 L477.7,898.9 L477.8,897.9 L477.9,896.9 L478.0,895.9 L478.1,894.9 L478.2,893.9 L478.3,892.9 L478.4,891.9 L478.5,890.9 L478.6,889.9 L478.7,889.0 L478.8,888.0 L478.9,887.0 L478.9,886.0 L479.0,885.0 L479.1,884.0 L479.2,883.0 L479.3,882.0 L479.4,881.0 L479.5,880.0 L479.6,879.0 L479.7,878.0 L479.8,877.0 L479.8,876.0 L479.9,875.0 L480.0,874.0 L480.1,873.0 L480.2,872.0 L480.3,871.0 L480.3,870.0 L480.4,869.0 L480.5,868.0 L480.6,867.0 L480.7,866.1 L480.8,865.1 L480.8,864.1 L480.9,863.1 L481.0,862.1 L481.1,861.1 L481.2,860.1 L481.3,859.1 L481.3,858.1 L481.4,857.1 L481.5,856.1 L481.6,855.1 L481.7,854.1 L481.7,853.1 L481.8,852.1 L481.9,851.1 L482.0,850.1 L482.1,849.1 L482.1,848.1 L482.2,847.1 L482.3,846.1 L482.4,845.1 L482.5,844.1 L482.5,843.1 L482.6,842.1 L482.7,841.1 L482.8,840.1 L482.9,839.1 L482.9,838.1 L483.0,837.1 L483.1,836.1 L483.2,835.1 L483.3,834.1 L483.3,833.1 L483.4,832.1 L483.5,831.1 L483.6,830.1 L483.7,829.1 L483.7,828.1 L483.8,827.1 L483.9,826.1 L484.0,825.1 L484.1,824.1 L484.1,823.1 L484.2,822.1 L484.3,821.1 L484.4,820.1 L484.5,819.1 L484.6,818.1 L484.6,817.1 L484.7,816.1 L484.8,815.1 L484.9,814.1 L485.0,813.1 L485.1,812.1 L485.2,811.1 L485.3,810.2 L485.3,809.2 L485.4,808.2 L485.5,807.2 L485.6,806.2 L485.7,805.2 L485.8,804.2 L485.9,803.2 L486.0,802.2 L486.1,801.2 L486.2,800.2 L486.3,799.2 L486.3,798.2 L486.4,797.2 L486.5,796.2 L486.6,795.2 L486.7,794.2 L486.8,793.2 L486.9,792.2 L487.0,791.2 L487.1,790.2 L487.2,789.2 L487.3,788.2 L487.4,787.2 L487.5,786.2 L487.6,785.2 L487.7,784.2 L487.8,783.2 L488.0,782.2 L488.1,781.2 L488.2,780.2 L488.3,779.2 L488.4,778.2 L488.5,777.2 L488.6,776.2 L488.7,775.2 L488.8,774.2 L489.0,773.2 L489.1,772.2 L489.2,771.2 L489.3,770.2 L489.4,769.2 L489.5,768.2 L489.7,767.2 L489.8,766.2 L489.9,765.2 L490.0,764.2 L490.2,763.2 L490.3,762.2 L490.4,761.3 L490.5,760.3 L490.7,759.3 L490.8,758.3 L490.9,757.3 L491.1,756.3 L491.2,755.3 L491.3,754.3 L491.5,753.3 L491.6,752.3 L491.8,751.3 L491.9,750.3 L492.0,749.3 L492.2,748.3 L492.3,747.3 L492.5,746.3 L492.6,745.3 L492.8,744.3 L492.9,743.3 L493.1,742.3 L493.2,741.3 L493.4,740.3 L493.6,739.4 L493.7,738.4 L493.9,737.4 L494.0,736.4 L494.2,735.4 L494.4,734.4 L494.5,733.4 L494.7,732.4 L494.9,731.4 L495.0,730.4 L495.2,729.4 L495.4,728.4 L495.6,727.4 L495.7,726.4 L495.9,725.4 L496.1,724.5 L496.3,723.5 L496.5,722.5 L496.7,721.5 L496.9,720.5 L497.1,719.5 L497.3,718.5 L497.5,717.6 L497.8,716.6 L498.0,715.6 L498.3,714.7 L498.5,713.7 L498.8,712.8 L499.1,711.8 L499.4,710.9 L499.8,710.0 L500.1,709.0 L500.5,708.1 L500.9,707.2 L501.3,706.3 L501.7,705.5 L502.2,704.6 L502.6,703.7 L503.2,702.9 L503.7,702.1 L504.2,701.4 L504.8,700.9 L505.5,700.6 L506.2,700.6 L506.9,700.9 L507.6,701.4 L508.2,702.0 L508.9,702.8 L509.5,703.7 L510.1,704.8 L510.6,705.8 L511.1,706.9 L511.6,708.0 L512.0,709.1 L512.3,710.1 L512.7,711.2 L512.9,712.2 L513.2,713.2 L513.4,714.1 L513.6,715.1 L513.8,716.1 L514.0,717.1 L514.2,718.0 L514.4,719.0 L514.6,720.0 L514.8,720.9 L514.9,721.9 L515.1,722.9 L515.3,723.8 L515.5,724.8 L515.6,725.8 L515.8,726.7 L516.0,727.7 L516.1,728.7 L516.3,729.7 L516.5,730.6 L516.6,731.6 L516.8,732.6 L517.0,733.6 L517.1,734.5 L517.3,735.5 L517.5,736.5 L517.6,737.5 L517.8,738.5 L517.9,739.4 L518.1,740.4 L518.2,741.4 L518.4,742.4 L518.6,743.4 L518.7,744.3 L518.9,745.3 L519.0,746.3 L519.2,747.3 L519.3,748.3 L519.5,749.3 L519.6,750.3 L519.7,751.2 L519.9,752.2 L520.0,753.2 L520.2,754.2 L520.3,755.2 L520.5,756.2 L520.6,757.2 L520.8,758.2 L520.9,759.1 L521.0,760.1 L521.2,761.1 L521.3,762.1 L521.5,763.1 L521.6,764.1 L521.7,765.1 L521.9,766.1 L522.0,767.1 L522.1,768.1 L522.3,769.1 L522.4,770.1 L522.5,771.0 L522.7,772.0 L522.8,773.0 L523.0,774.0 L523.1,775.0 L523.2,776.0 L523.4,777.0 L523.5,778.0 L523.6,779.0 L523.7,780.0 L523.9,781.0 L524.0,782.0 L524.1,783.0 L524.3,784.0 L524.4,785.0 L524.5,786.0 L524.7,787.0 L524.8,788.0 L524.9,789.0 L525.1,790.0 L525.2,791.0 L525.3,792.0 L525.5,793.0 L525.6,793.9 L525.7,794.9 L525.8,795.9 L526.0,796.9 L526.1,797.9 L526.2,798.9 L526.4,799.9 L526.5,800.9 L526.6,801.9 L526.8,802.9 L526.9,803.9 L527.0,804.9 L527.2,805.9 L527.3,806.9 L527.4,807.9 L527.6,808.9 L527.7,809.9 L527.8,810.9 L528.0,811.9 L528.1,812.9 L528.2,813.9 L528.4,814.9 L528.5,815.9 L528.6,816.9 L528.8,817.9 L528.9,818.9 L529.0,819.9 L529.2,820.9 L529.3,821.8 L529.5,822.8 L529.6,823.8 L529.7,824.8 L529.9,825.8 L530.0,826.8 L530.2,827.8 L530.3,828.8 L530.4,829.8 L530.6,830.8 L530.7,831.8 L530.9,832.8 L531.0,833.8 L531.2,834.8 L531.3,835.7 L531.5,836.7 L531.6,837.7 L531.8,838.7 L531.9,839.7 L532.1,840.7 L532.2,841.7 L532.4,842.7 L532.5,843.7 L532.7,844.6 L532.8,845.6 L533.0,846.6 L533.1,847.6 L533.3,848.6 L533.4,849.6 L533.6,850.6 L533.8,851.6 L533.9,852.5 L534.1,853.5 L534.2,854.5 L534.4,855.5 L534.6,856.5 L534.7,857.5 L534.9,858.5 L535.0,859.4 L535.2,860.4 L535.4,861.4 L535.5,862.4 L535.7,863.4 L535.8,864.4 L536.0,865.4 L536.2,866.3 L536.3,867.3 L536.5,868.3 L536.7,869.3 L536.8,870.3 L537.0,871.3 L537.2,872.2 L537.3,873.2 L537.5,874.2 L537.7,875.2 L537.8,876.2 L538.0,877.2 L538.2,878.2 L538.3,879.1 L538.5,880.1 L538.7,881.1 L538.8,882.1 L539.0,883.1 L539.2,884.1 L539.4,885.1 L539.5,886.0 L539.7,887.0 L539.9,888.0 L540.0,889.0 L540.2,890.0 L540.4,891.0 L540.6,892.0 L540.7,892.9 L540.9,893.9 L541.1,894.9 L541.2,895.9 L541.4,896.9 L541.6,897.9 L541.8,898.9 L541.9,899.9 L542.1,900.8 L542.3,901.8 L542.4,902.8 L542.6,903.8 L542.8,904.8 L543.0,905.8 L543.2,906.8 L543.3,907.8 L543.5,908.8 L543.7,909.7 L543.9,910.7 L544.1,911.7 L544.2,912.7 L544.4,913.7 L544.6,914.7 L544.8,915.7 L545.0,916.6 L545.2,917.6 L545.4,918.6 L545.6,919.6 L545.8,920.6 L546.0,921.6 L546.2,922.6 L546.4,923.5 L546.6,924.5 L546.8,925.5 L547.0,926.5 L547.2,927.5 L547.4,928.4 L547.6,929.4 L547.9,930.4 L548.1,931.4 L548.3,932.4 L548.5,933.3 L548.7,934.3 L549.0,935.3 L549.2,936.3 L549.5,937.2 L549.7,938.2 L549.9,939.2 L550.2,940.1 L550.4,941.1 L550.7,942.1 L550.9,943.1 L551.2,944.0 L551.5,945.0 L551.7,946.0 L552.0,946.9 L552.3,947.9 L552.5,948.8 L552.8,949.8 L553.1,950.8 L553.4,951.7 L553.7,952.7 L554.0,953.6 L554.3,954.6 L554.6,955.5 L554.9,956.5 L555.2,957.4 L555.5,958.4 L555.8,959.3 L556.2,960.3 L556.5,961.2 L556.8,962.2 L557.2,963.1 L557.5,964.1 L557.9,965.0 L558.2,965.9 L558.6,966.9 L558.9,967.8 L559.3,968.7 L559.7,969.7 L560.1,970.6 L560.4,971.5 L560.8,972.5 L561.2,973.4 L561.6,974.3 L562.0,975.2 L562.4,976.2 L562.9,977.1 L563.3,978.0 L563.7,978.9 L564.1,979.8 L564.6,980.7 L565.0,981.6 L565.5,982.5 L565.9,983.4 L566.4,984.3 L566.9,985.3 L567.3,986.1 L567.8,987.0 L568.3,987.9 L568.8,988.8 L569.3,989.7 L569.8,990.6 L570.3,991.5 L570.8,992.3 L571.4,993.2 L571.9,994.1 L572.4,994.9 L573.0,995.8 L573.6,996.6 L574.1,997.5 L574.7,998.3 L575.3,999.2 L575.8,1000.0 L576.4,1000.8 L577.0,1001.6 L577.6,1002.4 L578.2,1003.2 L578.9,1004.0 L579.5,1004.8 L580.1,1005.5 L580.8,1006.3 L581.4,1007.1 L582.1,1007.8 L582.7,1008.5 L583.4,1009.3 L584.1,1010.0 L584.8,1010.7 L585.5,1011.4 L586.2,1012.1 L586.9,1012.8 L587.6,1013.4 L588.4,1014.1 L589.1,1014.7 L589.8,1015.3 L590.6,1016.0 L591.4,1016.6 L592.1,1017.2 L592.9,1017.7 L593.7,1018.3 L594.5,1018.9 L595.3,1019.4 L596.1,1019.9 L597.0,1020.4 L597.8,1020.9 L598.6,1021.4 L599.5,1021.9 L600.3,1022.3 L601.2,1022.8 L602.1,1023.2 L603.0,1023.7 L603.8,1024.1 L604.7,1024.5 L605.6,1024.8 L606.5,1025.2 L607.5,1025.6 L608.4,1025.9 L609.3,1026.3 L610.2,1026.6 L611.2,1026.9 L612.1,1027.2 L613.1,1027.5 L614.0,1027.8 L615.0,1028.1 L616.0,1028.4 L616.9,1028.6 L617.9,1028.9 L618.9,1029.1 L619.9,1029.3 L620.9,1029.5 L621.9,1029.8 L622.9,1029.9 L623.9,1030.1 L624.9,1030.3 L625.9,1030.5 L626.9,1030.7 L627.9,1030.8 L628.9,1031.0 L629.9,1031.1 L631.0,1031.2 L632.0,1031.4 L633.0,1031.5 L634.0,1031.6 L635.1,1031.7 L636.1,1031.8 L637.1,1031.9 L638.2,1032.0 L639.2,1032.0 L640.2,1032.1 L641.3,1032.2 L642.3,1032.2 L643.4,1032.3 L644.4,1032.3 L645.4,1032.4 L646.5,1032.4 L647.5,1032.4 L648.6,1032.5 L649.6,1032.5 L650.6,1032.5 L651.7,1032.5 L652.7,1032.5 L653.8,1032.5 L654.8,1032.5 L655.8,1032.5 L656.9,1032.5 L657.9,1032.5 L658.9,1032.5 L659.9,1032.5 L661.0,1032.4 L662.0,1032.4 L663.0,1032.4 L664.0,1032.3 L665.0,1032.3 L666.0,1032.3 L667.0,1032.2 L668.0,1032.2 L669.0,1032.1 L670.0,1032.1 L671.0,1032.1 L672.0,1032.0 L673.0,1032.0 L674.0,1031.9 L674.9,1031.9 L675.9,1031.8 L676.9,1031.7 L677.8,1031.7 L678.8,1031.6 L679.8,1031.6 L680.7,1031.5 L681.7,1031.4 L682.7,1031.4 L683.6,1031.3 L684.6,1031.2 L685.5,1031.1 L686.5,1031.1 L687.4,1031.0 L688.4,1030.9 L689.3,1030.8 L690.3,1030.7 L691.3,1030.6 L692.2,1030.5 L693.2,1030.4 L694.1,1030.3 L695.1,1030.2 L696.1,1030.1 L697.0,1030.0 L698.0,1029.9 L699.0,1029.8 L699.9,1029.7 L700.9,1029.6 L701.9,1029.4 L702.9,1029.3 L703.8,1029.2 L704.8,1029.0 L705.8,1028.9 L706.8,1028.8 L707.8,1028.6 L708.8,1028.5 L709.8,1028.3 L710.8,1028.2 L711.9,1028.0 L712.9,1027.8 L713.9,1027.7 L715.0,1027.5 L716.0,1027.3 L717.0,1027.1 L718.1,1027.0 L719.2,1026.8 L720.2,1026.6"/>
<path stroke="#000000" d="M228.3,1052.4 L229.3,1052.7 L230.2,1053.0 L231.2,1053.3 L232.1,1053.6 L233.1,1053.9 L234.0,1054.1 L235.0,1054.4 L235.9,1054.6 L236.9,1054.9 L237.8,1055.1 L238.8,1055.3 L239.8,1055.5 L240.7,1055.7 L241.7,1055.9 L242.7,1056.1 L243.6,1056.2 L244.6,1056.4 L245.6,1056.5 L246.5,1056.7 L247.5,1056.8 L248.5,1056.9 L249.5,1057.1 L250.5,1057.2 L251.4,1057.3 L252.4,1057.4 L253.4,1057.4 L254.4,1057.5 L255.4,1057.6 L256.4,1057.6 L257.3,1057.7 L258.3,1057.7 L259.3,1057.8 L260.3,1057.8 L261.3,1057.8 L262.3,1057.9 L263.3,1057.9 L264.3,1057.9 L265.3,1057.9 L266.3,1057.9 L267.3,1057.8 L268.3,1057.8 L269.3,1057.8 L270.3,1057.8 L271.3,1057.7 L272.3,1057.7 L273.3,1057.6 L274.3,1057.6 L275.3,1057.5 L276.3,1057.4 L277.3,1057.4 L278.3,1057.3 L279.3,1057.2 L280.3,1057.1 L281.3,1057.0 L282.3,1056.9 L283.3,1056.8 L284.3,1056.7 L285.3,1056.6 L286.3,1056.5 L287.3,1056.4 L288.3,1056.2 L289.3,1056.1 L290.3,1056.0 L291.3,1055.9 L292.3,1055.7 L293.3,1055.6 L294.3,1055.4 L295.4,1055.3 L296.4,1055.1 L297.4,1055.0 L298.4,1054.8 L299.4,1054.7 L300.4,1054.5 L301.4,1054.4 L302.4,1054.2 L303.4,1054.0 L304.4,1053.9 L305.4,1053.7 L306.4,1053.5 L307.4,1053.3 L308.4,1053.2 L309.4,1053.0 L310.4,1052.8 L311.4,1052.6 L312.4,1052.4 L313.4,1052.3 L314.4,1052.1 L315.4,1051.9 L316.4,1051.7 L317.4,1051.5 L318.4,1051.3 L319.4,1051.2 L320.4,1051.0 L321.4,1050.8 L322.3,1050.6 L323.3,1050.4 L324.3,1050.2 L325.3,1050.0 L326.3,1049.8 L327.3,1049.7 L328.3,1049.5 L329.3,1049.3 L330.3,1049.1 L331.2,1048.9 L332.2,1048.7 L333.2,1048.6 L334.2,1048.4 L335.2,1048.2 L336.2,1048.0 L337.1,1047.8 L338.1,1047.7 L339.1,1047.5 L340.1,1047.3 L341.1,1047.1 L342.1,1046.9 L343.0,1046.8 L344.0,1046.6 L345.0,1046.4 L346.0,1046.3 L347.0,1046.1 L347.9,1045.9 L348.9,1045.8 L349.9,1045.6 L350.9,1045.5 L351.9,1045.3 L352.8,1045.1 L353.8,1045.0 L354.8,1044.8 L355.8,1044.7 L356.8,1044.5 L357.7,1044.4 L358.7,1044.3 L359.7,1044.1 L360.7,1044.0 L361.7,1043.9 L362.7,1043.7 L363.6,1043.6 L364.6,1043.5 L365.6,1043.3 L366.6,1043.2 L367.6,1043.1 L368.5,1043.0 L369.5,1042.9 L370.5,1042.8 L371.5,1042.7 L372.5,1042.6 L373.5,1042.5 L374.5,1042.4 L375.4,1042.3 L376.4,1042.2 L377.4,1042.2 L378.4,1042.1 L379.4,1042.0 L380.4,1041.9 L381.4,1041.9 L382.4,1041.8 L383.4,1041.8 L384.4,1041.7 L385.3,1041.7 L386.3,1041.6 L387.3,1041.6 L388.3,1041.6 L389.3,1041.5 L390.3,1041.5 L391.3,1041.5 L392.3,1041.5 L393.3,1041.5 L394.3,1041.5 L395.3,1041.5 L396.3,1041.5 L397.3,1041.5 L398.3,1041.5 L399.4,1041.6 L400.4,1041.6 L401.4,1041.6 L402.4,1041.7 L403.4,1041.7 L404.4,1041.8 L405.4,1041.8 L406.4,1041.9 L407.4,1042.0 L408.5,1042.1 L409.5,1042.1 L410.5,1042.2 L411.5,1042.3 L412.6,1042.4 L413.6,1042.5 L414.6,1042.7 L415.6,1042.8 L416.7,1042.9 L417.7,1043.0 L418.7,1043.2 L419.7,1043.3 L420.8,1043.5 L421.8,1043.6 L422.8,1043.7 L423.9,1043.8 L424.9,1044.0 L425.9,1044.1 L426.9,1044.2 L427.9,1044.3 L428.9,1044.4 L429.9,1044.5 L430.9,1044.5 L431.9,1044.6 L432.9,1044.6 L433.9,1044.6 L434.9,1044.6 L435.9,1044.6 L436.8,1044.6 L437.8,1044.5 L438.7,1044.4 L439.7,1044.3 L440.6,1044.2 L441.6,1044.0 L442.5,1043.8 L443.4,1043.6 L444.3,1043.3 L445.2,1043.0 L446.0,1042.7 L446.9,1042.3 L447.7,1041.9 L448.6,1041.5 L449.4,1041.0 L450.2,1040.5 L451.0,1039.9 L451.8,1039.4 L452.6,1038.7 L453.4,1038.1 L454.1,1037.4 L454.8,1036.7 L455.6,1036.0 L456.3,1035.2 L456.9,1034.4 L457.6,1033.6 L458.3,1032.8 L458.9,1031.9 L459.5,1031.1 L460.2,1030.2 L460.8,1029.3 L461.3,1028.4 L461.9,1027.5 L462.4,1026.6 L463.0,1025.6 L463.5,1024.7 L464.0,1023.8 L464.4,1022.8 L464.9,1021.9 L465.3,1021.0 L465.8,1020.0 L466.2,1019.1 L466.6,1018.1 L467.0,1017.2 L467.4,1016.2 L467.7,1015.3 L468.1,1014.3 L468.4,1013.3 L468.7,1012.4 L469.1,1011.4 L469.4,1010.4 L469.7,1009.5 L470.0,1008.5 L470.3,1007.5 L470.5,1006.6 L470.8,1005.6 L471.1,1004.6 L471.3,1003.6 L471.6,1002.7 L471.8,1001.7 L472.1,1000.7 L472.3,999.7 L472.6,998.8 L472.8,997.8 L473.0,996.8 L473.3,995.8 L473.5,994.9 L473.7,993.9 L474.0,992.9 L474.2,992.0 L474.4,991.0 L474.7,990.0 L474.9,989.1 L475.1,988.1 L475.3,987.1 L475.6,986.2 L475.8,985.2 L476.0,984.2 L476.2,983.3 L476.4,982.3 L476.7,981.3 L476.9,980.4 L477.1,979.4 L477.3,978.5 L477.5,977.5 L477.8,976.5 L478.0,975.6 L478.2,974.6 L478.4,973.7 L478.6,972.7 L478.8,971.8 L479.1,970.8 L479.3,969.8 L479.5,968.9 L479.7,967.9 L479.9,967.0 L480.1,966.0 L480.4,965.1 L480.6,964.1 L480.8,963.1 L481.0,962.2 L481.2,961.2 L481.4,960.3 L481.7,959.3 L481.9,958.4 L482.1,957.4 L482.3,956.4 L482.5,955.5 L482.8,954.5 L483.0,953.6 L483.2,952.6 L483.4,951.6 L483.6,950.7 L483.9,949.7 L484.1,948.8 L484.3,947.8 L484.5,946.8 L484.8,945.9 L485.0,944.9 L485.2,943.9 L485.4,943.0 L485.7,942.0 L485.9,941.0 L486.1,940.1 L486.4,939.1 L486.6,938.1 L486.8,937.2 L487.1,936.2 L487.3,935.2 L487.5,934.2 L487.8,933.3 L488.0,932.3 L488.2,931.3 L488.5,930.3 L488.7,929.4 L489.0,928.4 L489.2,927.4 L489.5,926.4 L489.7,925.4 L490.0,924.5 L490.2,923.5 L490.5,922.5 L490.7,921.5 L491.0,920.5 L491.2,919.5 L491.5,918.5 L491.8,917.5 L492.0,916.5 L492.3,915.5 L492.6,914.5 L492.8,913.5 L493.1,912.5 L493.4,911.5 L493.7,910.5 L493.9,909.5 L494.2,908.5 L494.5,907.5 L494.8,906.5 L495.1,905.5 L495.3,904.5 L495.6,903.5 L495.9,902.4 L496.2,901.4 L496.5,900.4 L496.8,899.4 L497.1,898.3 L497.4,897.3 L497.7,896.3 L498.1,895.3 L498.4,894.2 L498.7,893.2 L499.1,892.2 L499.4,891.3 L499.8,890.3 L500.2,889.4 L500.7,888.6 L501.2,887.7 L501.7,886.9 L502.3,886.2 L502.9,885.5 L503.5,884.9 L504.2,884.4 L504.9,883.9 L505.7,883.5 L506.4,883.2 L507.2,883.0 L508.0,882.9 L508.7,882.8 L509.5,882.9 L510.2,883.0 L510.9,883.3 L511.6,883.6 L512.3,884.0 L513.0,884.5 L513.6,885.0 L514.3,885.6 L514.9,886.2 L515.6,886.9 L516.2,887.6 L516.8,888.4 L517.4,889.2 L517.9,890.1 L518.5,890.9 L519.1,891.8 L519.6,892.7 L520.1,893.6 L520.7,894.5 L521.2,895.4 L521.7,896.3 L522.2,897.2 L522.7,898.2 L523.1,899.1 L523.6,900.0 L524.1,900.9 L524.5,901.9 L525.0,902.8 L525.4,903.8 L525.8,904.7 L526.2,905.7 L526.7,906.6 L527.1,907.6 L527.5,908.5 L527.9,909.5 L528.2,910.4 L528.6,911.4 L529.0,912.4 L529.4,913.4 L529.7,914.3 L530.1,915.3 L530.4,916.3 L530.8,917.2 L531.1,918.2 L531.5,919.2 L531.8,920.2 L532.2,921.2 L532.5,922.1 L532.8,923.1 L533.2,924.1 L533.5,925.1 L533.8,926.1 L534.1,927.1 L534.4,928.0 L534.8,929.0 L535.1,930.0 L535.4,931.0 L535.7,932.0 L536.0,933.0 L536.3,933.9 L536.6,934.9 L537.0,935.9 L537.3,936.9 L537.6,937.9 L537.9,938.8 L538.2,939.8 L538.5,940.8 L538.9,941.8 L539.2,942.7 L539.5,943.7 L539.8,944.7 L540.2,945.6 L540.5,946.6 L540.8,947.5 L541.2,948.5 L541.5,949.5 L541.9,950.4 L542.2,951.3 L542.6,952.3 L542.9,953.2 L543.3,954.2 L543.6,955.1 L544.0,956.0 L544.4,956.9 L544.8,957.9 L545.2,958.8 L545.6,959.7 L546.0,960.6 L546.4,961.5 L546.8,962.4 L547.2,963.3 L547.7,964.2 L548.1,965.1 L548.6,965.9 L549.0,966.8 L549.5,967.7 L550.0,968.5 L550.4,969.4 L550.9,970.3 L551.4,971.1 L551.9,971.9 L552.5,972.8 L553.0,973.6 L553.5,974.4 L554.1,975.2 L554.6,976.0 L555.2,976.8 L555.8,977.6 L556.3,978.4 L556.9,979.2 L557.5,980.0 L558.1,980.8 L558.7,981.5 L559.3,982.3 L560.0,983.0 L560.6,983.8 L561.2,984.5 L561.9,985.3 L562.6,986.0 L563.2,986.7 L563.9,987.4 L564.6,988.1 L565.3,988.8 L566.0,989.5 L566.7,990.2 L567.4,990.9 L568.1,991.6 L568.8,992.3 L569.5,992.9 L570.3,993.6 L571.0,994.2 L571.7,994.9 L572.5,995.5 L573.3,996.2 L574.0,996.8 L574.8,997.4 L575.6,998.0 L576.4,998.6 L577.2,999.2 L578.0,999.8 L578.8,1000.4 L579.6,1001.0 L580.4,1001.6 L581.2,1002.1 L582.0,1002.7 L582.8,1003.3 L583.7,1003.8 L584.5,1004.3 L585.4,1004.9 L586.2,1005.4 L587.1,1005.9 L587.9,1006.4 L588.8,1007.0 L589.7,1007.5 L590.5,1008.0 L591.4,1008.4 L592.3,1008.9 L593.2,1009.4 L594.1,1009.9 L595.0,1010.3 L595.9,1010.8 L596.8,1011.2 L597.7,1011.7 L598.6,1012.1 L599.5,1012.5 L600.4,1013.0 L601.3,1013.4 L602.3,1013.8 L603.2,1014.2 L604.1,1014.6 L605.0,1015.0 L606.0,1015.3 L606.9,1015.7 L607.9,1016.1 L608.8,1016.4 L609.8,1016.8 L610.7,1017.1 L611.7,1017.5 L612.6,1017.8 L613.6,1018.1 L614.6,1018.4 L615.5,1018.7 L616.5,1019.0 L617.5,1019.3 L618.4,1019.6 L619.4,1019.9 L620.4,1020.2 L621.4,1020.4 L622.3,1020.7 L623.3,1020.9 L624.3,1021.2 L625.3,1021.4 L626.3,1021.6 L627.2,1021.9 L628.2,1022.1 L629.2,1022.3 L630.2,1022.5 L631.2,1022.7 L632.2,1022.9 L633.2,1023.0 L634.2,1023.2 L635.2,1023.4 L636.2,1023.5 L637.2,1023.7 L638.2,1023.8 L639.2,1024.0 L640.2,1024.1 L641.2,1024.2 L642.2,1024.3 L643.2,1024.4 L644.2,1024.5 L645.2,1024.6 L646.2,1024.7 L647.2,1024.8 L648.2,1024.9 L649.2,1024.9 L650.2,1025.0 L651.2,1025.0 L652.2,1025.1 L653.2,1025.1 L654.2,1025.2 L655.2,1025.2 L656.2,1025.2 L657.2,1025.3 L658.2,1025.3 L659.2,1025.3 L660.2,1025.3 L661.2,1025.3 L662.2,1025.3 L663.2,1025.3 L664.2,1025.3 L665.2,1025.3 L666.2,1025.3 L667.2,1025.3 L668.2,1025.3 L669.2,1025.2 L670.2,1025.2 L671.3,1025.2 L672.3,1025.1 L673.3,1025.1 L674.3,1025.1 L675.3,1025.0 L676.3,1025.0 L677.3,1024.9 L678.3,1024.9 L679.3,1024.8 L680.3,1024.8 L681.3,1024.7 L682.3,1024.6 L683.3,1024.6 L684.3,1024.5 L685.3,1024.4 L686.3,1024.4 L687.3,1024.3 L688.3,1024.2 L689.3,1024.2 L690.3,1024.1 L691.3,1024.0 L692.3,1023.9 L693.3,1023.9 L694.3,1023.8 L695.3,1023.7 L696.3,1023.6 L697.3,1023.6 L698.3,1023.5 L699.3,1023.4 L700.3,1023.3 L701.3,1023.3 L702.3,1023.2 L703.3,1023.1 L704.3,1023.0 L705.3,1022.9 L706.3,1022.9 L707.3,1022.8 L708.3,1022.7 L709.3,1022.7 L710.3,1022.6 L711.3,1022.5 L712.3,1022.4 L713.3,1022.4 L714.3,1022.3 L715.2,1022.3 L716.2,1022.2 L717.2,1022.1 L718.2,1022.1 L719.2,1022.0 L720.2,1022.0"/>
<path stroke="#0000ff" d="M228.1,1048.6 L229.0,1049.1 L229.9,1049.5 L230.9,1050.0 L231.8,1050.4 L232.7,1050.8 L233.7,1051.2 L234.6,1051.6 L235.5,1051.9 L236.5,1052.3 L237.4,1052.6 L238.3,1052.9 L239.3,1053.2 L240.2,1053.5 L241.2,1053.8 L242.1,1054.0 L243.1,1054.3 L244.0,1054.5 L245.0,1054.7 L245.9,1055.0 L246.9,1055.2 L247.8,1055.3 L248.8,1055.5 L249.8,1055.7 L250.7,1055.8 L251.7,1055.9 L252.7,1056.1 L253.6,1056.2 L254.6,1056.3 L255.6,1056.4 L256.5,1056.4 L257.5,1056.5 L258.5,1056.6 L259.5,1056.6 L260.4,1056.7 L261.4,1056.7 L262.4,1056.7 L263.4,1056.7 L264.3,1056.7 L265.3,1056.7 L266.3,1056.7 L267.3,1056.6 L268.3,1056.6 L269.2,1056.5 L270.2,1056.5 L271.2,1056.4 L272.2,1056.3 L273.2,1056.2 L274.2,1056.2 L275.2,1056.1 L276.2,1055.9 L277.1,1055.8 L278.1,1055.7 L279.1,1055.6 L280.1,1055.4 L281.1,1055.3 L282.1,1055.1 L283.1,1055.0 L284.1,1054.8 L285.1,1054.6 L286.1,1054.5 L287.1,1054.3 L288.1,1054.1 L289.0,1053.9 L290.0,1053.7 L291.0,1053.5 L292.0,1053.3 L293.0,1053.1 L294.0,1052.9 L295.0,1052.6 L296.0,1052.4 L297.0,1052.2 L298.0,1051.9 L299.0,1051.7 L300.0,1051.5 L301.0,1051.2 L302.0,1051.0 L303.0,1050.7 L304.0,1050.5 L304.9,1050.2 L305.9,1049.9 L306.9,1049.7 L307.9,1049.4 L308.9,1049.1 L309.9,1048.9 L310.9,1048.6 L311.9,1048.3 L312.9,1048.0 L313.9,1047.8 L314.9,1047.5 L315.8,1047.2 L316.8,1046.9 L317.8,1046.6 L318.8,1046.4 L319.8,1046.1 L320.8,1045.8 L321.8,1045.5 L322.7,1045.2 L323.7,1045.0 L324.7,1044.7 L325.7,1044.4 L326.7,1044.1 L327.6,1043.8 L328.6,1043.5 L329.6,1043.3 L330.6,1043.0 L331.6,1042.7 L332.5,1042.4 L333.5,1042.2 L334.5,1041.9 L335.5,1041.6 L336.4,1041.3 L337.4,1041.1 L338.4,1040.8 L339.4,1040.5 L340.3,1040.3 L341.3,1040.0 L342.3,1039.8 L343.3,1039.5 L344.2,1039.2 L345.2,1039.0 L346.2,1038.7 L347.2,1038.5 L348.1,1038.3 L349.1,1038.0 L350.1,1037.8 L351.1,1037.5 L352.0,1037.3 L353.0,1037.1 L354.0,1036.9 L354.9,1036.6 L355.9,1036.4 L356.9,1036.2 L357.9,1036.0 L358.8,1035.8 L359.8,1035.6 L360.8,1035.4 L361.8,1035.2 L362.7,1035.0 L363.7,1034.9 L364.7,1034.7 L365.7,1034.5 L366.6,1034.4 L367.6,1034.2 L368.6,1034.1 L369.6,1033.9 L370.5,1033.8 L371.5,1033.6 L372.5,1033.5 L373.5,1033.4 L374.4,1033.3 L375.4,1033.1 L376.4,1033.0 L377.4,1032.9 L378.3,1032.8 L379.3,1032.8 L380.3,1032.7 L381.3,1032.6 L382.3,1032.5 L383.2,1032.5 L384.2,1032.4 L385.2,1032.4 L386.2,1032.4 L387.2,1032.3 L388.1,1032.3 L389.1,1032.3 L390.1,1032.3 L391.1,1032.3 L392.1,1032.3 L393.1,1032.3 L394.1,1032.4 L395.0,1032.4 L396.0,1032.5 L397.0,1032.5 L398.0,1032.6 L399.0,1032.6 L400.0,1032.7 L401.0,1032.8 L402.0,1032.9 L403.0,1033.0 L404.0,1033.2 L405.0,1033.3 L406.0,1033.4 L407.0,1033.6 L408.0,1033.7 L409.0,1033.9 L410.0,1034.1 L411.0,1034.3 L412.0,1034.5 L413.0,1034.7 L414.0,1034.9 L415.0,1035.2 L416.0,1035.4 L417.0,1035.7 L418.0,1035.9 L419.0,1036.2 L420.0,1036.4 L421.0,1036.7 L422.0,1037.0 L423.0,1037.2 L424.0,1037.5 L425.1,1037.7 L426.1,1037.9 L427.1,1038.2 L428.1,1038.4 L429.1,1038.6 L430.1,1038.7 L431.1,1038.9 L432.1,1039.0 L433.1,1039.1 L434.1,1039.2 L435.1,1039.2 L436.1,1039.3 L437.1,1039.3 L438.0,1039.2 L439.0,1039.1 L440.0,1039.0 L441.0,1038.8 L442.0,1038.6 L442.9,1038.4 L443.9,1038.1 L444.8,1037.8 L445.8,1037.5 L446.7,1037.1 L447.6,1036.7 L448.5,1036.2 L449.4,1035.7 L450.3,1035.2 L451.1,1034.7 L452.0,1034.1 L452.8,1033.5 L453.5,1032.9 L454.3,1032.2 L455.0,1031.6 L455.7,1030.9 L456.4,1030.1 L457.1,1029.4 L457.7,1028.6 L458.3,1027.8 L458.9,1027.0 L459.4,1026.2 L460.0,1025.3 L460.5,1024.5 L461.0,1023.6 L461.4,1022.7 L461.9,1021.8 L462.3,1020.8 L462.7,1019.9 L463.2,1019.0 L463.5,1018.0 L463.9,1017.0 L464.3,1016.1 L464.6,1015.1 L465.0,1014.1 L465.3,1013.1 L465.7,1012.1 L466.0,1011.2 L466.3,1010.2 L466.6,1009.2 L466.9,1008.2 L467.2,1007.2 L467.5,1006.2 L467.8,1005.2 L468.1,1004.2 L468.4,1003.3 L468.6,1002.3 L468.9,1001.3 L469.2,1000.3 L469.5,999.4 L469.7,998.4 L470.0,997.4 L470.3,996.5 L470.5,995.5 L470.8,994.5 L471.0,993.6 L471.3,992.6 L471.5,991.7 L471.8,990.7 L472.0,989.7 L472.3,988.8 L472.5,987.8 L472.7,986.9 L473.0,985.9 L473.2,984.9 L473.4,984.0 L473.7,983.0 L473.9,982.1 L474.1,981.1 L474.4,980.1 L474.6,979.2 L474.8,978.2 L475.0,977.3 L475.2,976.3 L475.4,975.3 L475.7,974.4 L475.9,973.4 L476.1,972.4 L476.3,971.5 L476.5,970.5 L476.7,969.5 L476.9,968.6 L477.1,967.6 L477.3,966.6 L477.5,965.6 L477.7,964.7 L477.9,963.7 L478.1,962.7 L478.3,961.7 L478.5,960.7 L478.7,959.7 L478.9,958.8 L479.1,957.8 L479.3,956.8 L479.5,955.8 L479.7,954.8 L479.9,953.8 L480.1,952.8 L480.2,951.8 L480.4,950.8 L480.6,949.8 L480.8,948.8 L481.0,947.8 L481.2,946.8 L481.3,945.8 L481.5,944.8 L481.7,943.8 L481.9,942.8 L482.1,941.8 L482.2,940.8 L482.4,939.8 L482.6,938.8 L482.7,937.8 L482.9,936.8 L483.1,935.8 L483.3,934.8 L483.4,933.8 L483.6,932.8 L483.8,931.8 L483.9,930.8 L484.1,929.8 L484.2,928.8 L484.4,927.8 L484.6,926.8 L484.7,925.8 L484.9,924.8 L485.0,923.8 L485.2,922.8 L485.3,921.8 L485.5,920.8 L485.6,919.8 L485.8,918.8 L485.9,917.8 L486.1,916.8 L486.2,915.8 L486.4,914.8 L486.5,913.8 L486.6,912.8 L486.8,911.8 L486.9,910.8 L487.1,909.8 L487.2,908.8 L487.3,907.8 L487.5,906.8 L487.6,905.9 L487.7,904.9 L487.9,903.9 L488.0,902.9 L488.1,901.9 L488.2,900.9 L488.4,899.9 L488.5,899.0 L488.6,898.0 L488.7,897.0 L488.9,896.0 L489.0,895.1 L489.1,894.1 L489.2,893.1 L489.3,892.2 L489.4,891.2 L489.6,890.2 L489.7,889.3 L489.8,888.3 L489.9,887.3 L490.0,886.4 L490.1,885.4 L490.2,884.5 L490.3,883.5 L490.4,882.6 L490.5,881.6 L490.6,880.7 L490.7,879.7 L490.8,878.8 L490.9,877.8 L491.0,876.9 L491.1,876.0 L491.2,875.0 L491.3,874.1 L491.5,873.1 L491.6,872.1 L491.7,871.2 L491.8,870.2 L491.9,869.3 L492.0,868.3 L492.2,867.3 L492.3,866.3 L492.4,865.4 L492.6,864.4 L492.7,863.4 L492.8,862.4 L493.0,861.4 L493.1,860.4 L493.3,859.4 L493.5,858.3 L493.6,857.3 L493.8,856.3 L494.0,855.2 L494.2,854.2 L494.4,853.1 L494.6,852.0 L494.8,850.9 L495.0,849.8 L495.3,848.7 L495.5,847.6 L495.7,846.5 L496.0,845.4 L496.3,844.2 L496.5,843.1 L496.8,842.0 L497.2,840.9 L497.5,839.8 L497.9,838.7 L498.2,837.7 L498.7,836.7 L499.1,835.7 L499.6,834.8 L500.1,833.9 L500.7,833.1 L501.3,832.4 L501.9,831.7 L502.6,831.1 L503.3,830.6 L504.0,830.1 L504.7,829.7 L505.5,829.4 L506.2,829.2 L506.9,829.1 L507.6,829.1 L508.3,829.2 L508.9,829.3 L509.5,829.6 L510.1,829.9 L510.7,830.4 L511.3,830.9 L511.8,831.4 L512.3,832.1 L512.8,832.8 L513.3,833.5 L513.7,834.3 L514.2,835.1 L514.6,836.0 L515.0,836.9 L515.4,837.9 L515.8,838.8 L516.2,839.8 L516.6,840.8 L517.0,841.8 L517.3,842.8 L517.7,843.9 L518.0,844.9 L518.4,845.9 L518.7,846.9 L519.0,847.9 L519.4,848.9 L519.7,849.9 L520.0,851.0 L520.3,852.0 L520.7,853.0 L521.0,854.0 L521.3,855.0 L521.6,856.0 L521.9,857.0 L522.1,858.0 L522.4,859.0 L522.7,860.0 L523.0,861.0 L523.3,862.0 L523.5,863.0 L523.8,864.0 L524.1,865.0 L524.3,866.0 L524.6,867.0 L524.9,868.0 L525.1,869.0 L525.4,870.0 L525.6,871.0 L525.8,872.0 L526.1,873.0 L526.3,874.0 L526.6,875.0 L526.8,876.0 L527.0,877.0 L527.3,878.0 L527.5,878.9 L527.7,879.9 L527.9,880.9 L528.2,881.9 L528.4,882.9 L528.6,883.9 L528.8,884.9 L529.0,885.8 L529.2,886.8 L529.5,887.8 L529.7,888.8 L529.9,889.8 L530.1,890.7 L530.3,891.7 L530.5,892.7 L530.7,893.7 L530.9,894.7 L531.1,895.6 L531.3,896.6 L531.5,897.6 L531.8,898.6 L532.0,899.5 L532.2,900.5 L532.4,901.5 L532.6,902.4 L532.8,903.4 L533.0,904.4 L533.2,905.3 L533.4,906.3 L533.6,907.3 L533.8,908.2 L534.0,909.2 L534.3,910.2 L534.5,911.1 L534.7,912.1 L534.9,913.1 L535.1,914.0 L535.3,915.0 L535.5,915.9 L535.8,916.9 L536.0,917.9 L536.2,918.8 L536.4,919.8 L536.7,920.7 L536.9,921.7 L537.1,922.6 L537.4,923.6 L537.6,924.5 L537.8,925.5 L538.1,926.4 L538.3,927.4 L538.6,928.3 L538.8,929.3 L539.1,930.2 L539.3,931.2 L539.6,932.1 L539.9,933.1 L540.1,934.0 L540.4,935.0 L540.7,935.9 L540.9,936.9 L541.2,937.8 L541.5,938.8 L541.8,939.7 L542.1,940.6 L542.4,941.6 L542.7,942.5 L543.0,943.5 L543.3,944.4 L543.6,945.3 L543.9,946.3 L544.3,947.2 L544.6,948.1 L544.9,949.1 L545.2,950.0 L545.6,950.9 L545.9,951.9 L546.3,952.8 L546.6,953.7 L547.0,954.7 L547.4,955.6 L547.7,956.5 L548.1,957.4 L548.5,958.4 L548.9,959.3 L549.3,960.2 L549.7,961.2 L550.1,962.1 L550.5,963.0 L551.0,963.9 L551.4,964.8 L551.8,965.8 L552.3,966.7 L552.7,967.6 L553.2,968.5 L553.6,969.4 L554.1,970.3 L554.5,971.3 L555.0,972.2 L555.5,973.1 L556.0,974.0 L556.5,974.9 L557.0,975.8 L557.5,976.7 L558.0,977.5 L558.5,978.4 L559.1,979.3 L559.6,980.2 L560.2,981.1 L560.7,981.9 L561.3,982.8 L561.8,983.6 L562.4,984.5 L563.0,985.3 L563.6,986.2 L564.1,987.0 L564.7,987.9 L565.3,988.7 L565.9,989.5 L566.6,990.3 L567.2,991.1 L567.8,991.9 L568.4,992.7 L569.1,993.5 L569.7,994.3 L570.4,995.1 L571.1,995.8 L571.7,996.6 L572.4,997.3 L573.1,998.1 L573.8,998.8 L574.5,999.5 L575.2,1000.3 L575.9,1001.0 L576.6,1001.7 L577.3,1002.4 L578.1,1003.0 L578.8,1003.7 L579.6,1004.4 L580.3,1005.0 L581.1,1005.7 L581.8,1006.3 L582.6,1006.9 L583.4,1007.6 L584.2,1008.2 L585.0,1008.7 L585.8,1009.3 L586.6,1009.9 L587.4,1010.5 L588.2,1011.0 L589.1,1011.6 L589.9,1012.1 L590.8,1012.6 L591.6,1013.1 L592.5,1013.6 L593.3,1014.1 L594.2,1014.6 L595.1,1015.0 L596.0,1015.5 L596.8,1016.0 L597.7,1016.4 L598.6,1016.8 L599.5,1017.3 L600.4,1017.7 L601.3,1018.1 L602.3,1018.5 L603.2,1018.9 L604.1,1019.2 L605.0,1019.6 L606.0,1020.0 L606.9,1020.3 L607.8,1020.7 L608.8,1021.0 L609.7,1021.3 L610.7,1021.6 L611.7,1021.9 L612.6,1022.3 L613.6,1022.5 L614.5,1022.8 L615.5,1023.1 L616.5,1023.4 L617.5,1023.7 L618.4,1023.9 L619.4,1024.2 L620.4,1024.4 L621.4,1024.6 L622.4,1024.9 L623.3,1025.1 L624.3,1025.3 L625.3,1025.5 L626.3,1025.7 L627.3,1025.9 L628.3,1026.1 L629.3,1026.3 L630.3,1026.5 L631.3,1026.7 L632.3,1026.8 L633.3,1027.0 L634.3,1027.1 L635.3,1027.3 L636.3,1027.4 L637.3,1027.6 L638.3,1027.7 L639.3,1027.8 L640.3,1028.0 L641.3,1028.1 L642.3,1028.2 L643.3,1028.3 L644.3,1028.4 L645.3,1028.5 L646.3,1028.6 L647.3,1028.7 L648.3,1028.8 L649.3,1028.9 L650.3,1028.9 L651.3,1029.0 L652.3,1029.1 L653.3,1029.1 L654.2,1029.2 L655.2,1029.2 L656.2,1029.3 L657.2,1029.3 L658.2,1029.4 L659.2,1029.4 L660.2,1029.4 L661.2,1029.5 L662.2,1029.5 L663.2,1029.5 L664.2,1029.5 L665.2,1029.5 L666.2,1029.5 L667.2,1029.5 L668.2,1029.6 L669.2,1029.5 L670.2,1029.5 L671.2,1029.5 L672.2,1029.5 L673.2,1029.5 L674.2,1029.5 L675.2,1029.5 L676.2,1029.4 L677.2,1029.4 L678.2,1029.4 L679.2,1029.3 L680.2,1029.3 L681.2,1029.3 L682.2,1029.2 L683.2,1029.2 L684.2,1029.1 L685.2,1029.1 L686.2,1029.0 L687.2,1029.0 L688.2,1028.9 L689.2,1028.8 L690.2,1028.8 L691.2,1028.7 L692.2,1028.6 L693.2,1028.6 L694.2,1028.5 L695.2,1028.4 L696.2,1028.3 L697.2,1028.3 L698.2,1028.2 L699.2,1028.1 L700.2,1028.0 L701.2,1027.9 L702.2,1027.8 L703.2,1027.7 L704.2,1027.6 L705.2,1027.6 L706.2,1027.5 L707.2,1027.4 L708.2,1027.3 L709.2,1027.2 L710.2,1027.1 L711.2,1027.0 L712.2,1026.9 L713.2,1026.8 L714.2,1026.7 L715.2,1026.5 L716.2,1026.4 L717.2,1026.3 L718.2,1026.2 L719.2,1026.1 L720.2,1026.0"/>
</g>
<line x1="196.5" y1="657.6" x2="254" y2="657.6" stroke="#000000" stroke-width="3.8" stroke-linecap="round"/>
<text x="264.5" y="664.5" font-size="29.35" text-anchor="start">Au</text>
<line x1="196.5" y1="694.6" x2="254" y2="694.6" stroke="#0000ff" stroke-width="3.8" stroke-linecap="round"/>
<text x="263.5" y="701.5" font-size="29.35" text-anchor="start">NGQDs</text>
<line x1="196.5" y1="732.0" x2="254" y2="732.0" stroke="#ff0000" stroke-width="3.8" stroke-linecap="round"/>
<text x="261.5" y="738.9" font-size="29.35" text-anchor="start">Au/NGQDs</text>
<path fill="#000" d="M965.9,429.6h10.2l-5.1,8.8zM967.4,423.6h10.2l-5.1,8.8zM969.9,416.6h10.2l-5.1,8.8zM973.3,410.4h10.2l-5.1,8.8zM976.8,404.4h10.2l-5.1,8.8zM980.3,398.4h10.2l-5.1,8.8zM983.8,392.4h10.2l-5.1,8.8zM987.3,386.4h10.2l-5.1,8.8zM991.5,379.9h10.2l-5.1,8.8zM995.3,372.8h10.2l-5.1,8.8zM999.8,364.5h10.2l-5.1,8.8zM1003.9,356.2h10.2l-5.1,8.8zM1008.1,347.3h10.2l-5.1,8.8zM1013.4,337.9h10.2l-5.1,8.8zM1019.3,328.4h10.2l-5.1,8.8zM1026.3,316.0h10.2l-5.1,8.8zM1033.8,303.8h10.2l-5.1,8.8zM1042.4,291.8h10.2l-5.1,8.8zM1051.5,280.6h10.2l-5.1,8.8zM1061.9,270.6h10.2l-5.1,8.8zM1072.8,261.4h10.2l-5.1,8.8zM1084.5,253.6h10.2l-5.1,8.8zM1097.1,247.8h10.2l-5.1,8.8zM1109.8,243.9h10.2l-5.1,8.8zM1122.4,241.0h10.2l-5.1,8.8zM1135.1,240.4h10.2l-5.1,8.8zM1146.8,241.9h10.2l-5.1,8.8zM1158.5,243.9h10.2l-5.1,8.8zM1169.2,246.8h10.2l-5.1,8.8zM1178.9,249.7h10.2l-5.1,8.8zM1188.7,251.7h10.2l-5.1,8.8zM1198.0,252.6h10.2l-5.1,8.8zM1206.2,251.7h10.2l-5.1,8.8zM1215.0,248.7h10.2l-5.1,8.8zM1224.7,245.8h10.2l-5.1,8.8zM1234.5,241.0h10.2l-5.1,8.8z"/>
<path fill="#0000ff" d="M966.7,423.3 L968.2,426.3 L971.5,426.8 L969.1,429.1 L969.6,432.3 L966.7,430.8 L963.8,432.3 L964.3,429.1 L961.9,426.8 L965.2,426.3ZM969.5,419.0 L971.0,422.0 L974.3,422.5 L971.9,424.8 L972.4,428.0 L969.5,426.5 L966.6,428.0 L967.1,424.8 L964.7,422.5 L968.0,422.0ZM972.5,414.5 L974.0,417.5 L977.3,418.0 L974.9,420.3 L975.4,423.5 L972.5,422.0 L969.6,423.5 L970.1,420.3 L967.7,418.0 L971.0,417.5ZM975.5,410.0 L977.0,413.0 L980.3,413.5 L977.9,415.8 L978.4,419.0 L975.5,417.5 L972.6,419.0 L973.1,415.8 L970.7,413.5 L974.0,413.0ZM978.5,405.5 L980.0,408.5 L983.3,409.0 L980.9,411.3 L981.4,414.5 L978.5,413.0 L975.6,414.5 L976.1,411.3 L973.7,409.0 L977.0,408.5ZM981.5,401.0 L983.0,404.0 L986.3,404.5 L983.9,406.8 L984.4,410.0 L981.5,408.5 L978.6,410.0 L979.1,406.8 L976.7,404.5 L980.0,404.0ZM984.5,396.5 L986.0,399.5 L989.3,400.0 L986.9,402.3 L987.4,405.5 L984.5,404.0 L981.6,405.5 L982.1,402.3 L979.7,400.0 L983.0,399.5ZM987.0,393.0 L988.5,396.0 L991.8,396.5 L989.4,398.8 L989.9,402.0 L987.0,400.5 L984.1,402.0 L984.6,398.8 L982.2,396.5 L985.5,396.0ZM989.5,390.2 L991.0,393.2 L994.3,393.7 L991.9,396.0 L992.4,399.2 L989.5,397.7 L986.6,399.2 L987.1,396.0 L984.7,393.7 L988.0,393.2ZM994.2,384.8 L995.7,387.8 L999.0,388.3 L996.6,390.6 L997.1,393.8 L994.2,392.3 L991.3,393.8 L991.8,390.6 L989.4,388.3 L992.7,387.8ZM999.0,378.3 L1000.5,381.3 L1003.8,381.8 L1001.4,384.1 L1001.9,387.3 L999.0,385.8 L996.1,387.3 L996.6,384.1 L994.2,381.8 L997.5,381.3ZM1003.7,371.8 L1005.2,374.8 L1008.5,375.3 L1006.1,377.6 L1006.6,380.8 L1003.7,379.3 L1000.8,380.8 L1001.3,377.6 L998.9,375.3 L1002.2,374.8ZM1008.4,364.7 L1009.9,367.7 L1013.2,368.2 L1010.8,370.5 L1011.3,373.7 L1008.4,372.2 L1005.5,373.7 L1006.0,370.5 L1003.6,368.2 L1006.9,367.7ZM1015.0,357.0 L1016.5,360.0 L1019.8,360.5 L1017.4,362.8 L1017.9,366.0 L1015.0,364.5 L1012.1,366.0 L1012.6,362.8 L1010.2,360.5 L1013.5,360.0ZM1020.9,349.3 L1022.4,352.3 L1025.7,352.8 L1023.3,355.1 L1023.8,358.3 L1020.9,356.8 L1018.0,358.3 L1018.5,355.1 L1016.1,352.8 L1019.4,352.3ZM1027.4,341.0 L1028.9,344.0 L1032.2,344.5 L1029.8,346.8 L1030.3,350.0 L1027.4,348.5 L1024.5,350.0 L1025.0,346.8 L1022.6,344.5 L1025.9,344.0ZM1034.2,333.8 L1035.7,336.8 L1039.0,337.3 L1036.6,339.6 L1037.1,342.8 L1034.2,341.3 L1031.3,342.8 L1031.8,339.6 L1029.4,337.3 L1032.7,336.8ZM1041.8,327.0 L1043.3,330.0 L1046.6,330.5 L1044.2,332.8 L1044.7,336.0 L1041.8,334.5 L1038.9,336.0 L1039.4,332.8 L1037.0,330.5 L1040.3,330.0ZM1049.8,320.7 L1051.3,323.7 L1054.6,324.2 L1052.2,326.5 L1052.7,329.7 L1049.8,328.2 L1046.9,329.7 L1047.4,326.5 L1045.0,324.2 L1048.3,323.7ZM1057.8,315.2 L1059.3,318.2 L1062.6,318.7 L1060.2,321.0 L1060.7,324.2 L1057.8,322.7 L1054.9,324.2 L1055.4,321.0 L1053.0,318.7 L1056.3,318.2ZM1065.9,310.6 L1067.4,313.6 L1070.7,314.1 L1068.3,316.4 L1068.8,319.6 L1065.9,318.1 L1063.0,319.6 L1063.5,316.4 L1061.1,314.1 L1064.4,313.6ZM1073.9,307.2 L1075.4,310.2 L1078.7,310.7 L1076.3,313.0 L1076.8,316.2 L1073.9,314.7 L1071.0,316.2 L1071.5,313.0 L1069.1,310.7 L1072.4,310.2ZM1081.9,304.2 L1083.4,307.2 L1086.7,307.7 L1084.3,310.0 L1084.8,313.2 L1081.9,311.7 L1079.0,313.2 L1079.5,310.0 L1077.1,307.7 L1080.4,307.2ZM1089.9,302.1 L1091.4,305.1 L1094.7,305.6 L1092.3,307.9 L1092.8,311.1 L1089.9,309.6 L1087.0,311.1 L1087.5,307.9 L1085.1,305.6 L1088.4,305.1ZM1097.5,300.0 L1099.0,303.0 L1102.3,303.5 L1099.9,305.8 L1100.4,309.0 L1097.5,307.5 L1094.6,309.0 L1095.1,305.8 L1092.7,303.5 L1096.0,303.0ZM1105.1,298.3 L1106.6,301.3 L1109.9,301.8 L1107.5,304.1 L1108.0,307.3 L1105.1,305.8 L1102.2,307.3 L1102.7,304.1 L1100.3,301.8 L1103.6,301.3ZM1112.3,296.6 L1113.8,299.6 L1117.1,300.1 L1114.7,302.4 L1115.2,305.6 L1112.3,304.1 L1109.4,305.6 L1109.9,302.4 L1107.5,300.1 L1110.8,299.6ZM1119.5,295.0 L1121.0,298.0 L1124.3,298.5 L1121.9,300.8 L1122.4,304.0 L1119.5,302.5 L1116.6,304.0 L1117.1,300.8 L1114.7,298.5 L1118.0,298.0ZM1126.2,293.3 L1127.7,296.3 L1131.0,296.8 L1128.6,299.1 L1129.1,302.3 L1126.2,300.8 L1123.3,302.3 L1123.8,299.1 L1121.4,296.8 L1124.7,296.3ZM1133.0,290.3 L1134.5,293.3 L1137.8,293.8 L1135.4,296.1 L1135.9,299.3 L1133.0,297.8 L1130.1,299.3 L1130.6,296.1 L1128.2,293.8 L1131.5,293.3ZM1139.7,286.1 L1141.2,289.1 L1144.5,289.6 L1142.1,291.9 L1142.6,295.1 L1139.7,293.6 L1136.8,295.1 L1137.3,291.9 L1134.9,289.6 L1138.2,289.1ZM1147.3,281.0 L1148.8,284.0 L1152.1,284.5 L1149.7,286.8 L1150.2,290.0 L1147.3,288.5 L1144.4,290.0 L1144.9,286.8 L1142.5,284.5 L1145.8,284.0Z"/>
<g fill="#ff0000"><circle cx="971.6" cy="436.0" r="3.3"/><circle cx="972.4" cy="434.7" r="3.3"/><circle cx="973.1" cy="433.4" r="3.3"/><circle cx="973.9" cy="432.0" r="3.3"/><circle cx="974.6" cy="430.7" r="3.3"/><circle cx="975.4" cy="429.4" r="3.3"/><circle cx="976.1" cy="428.0" r="3.3"/><circle cx="976.8" cy="426.7" r="3.3"/><circle cx="977.7" cy="425.1" r="3.3"/><circle cx="978.3" cy="423.8" r="3.3"/><circle cx="979.0" cy="422.4" r="3.3"/><circle cx="979.7" cy="421.0" r="3.3"/><circle cx="980.4" cy="419.7" r="3.3"/><circle cx="981.2" cy="418.3" r="3.3"/><circle cx="982.0" cy="416.8" r="3.3"/><circle cx="982.8" cy="415.5" r="3.3"/><circle cx="983.6" cy="414.1" r="3.3"/><circle cx="984.4" cy="412.8" r="3.3"/><circle cx="985.2" cy="411.6" r="3.3"/><circle cx="986.0" cy="410.3" r="3.3"/><circle cx="987.0" cy="408.8" r="3.3"/><circle cx="987.8" cy="407.6" r="3.3"/><circle cx="988.6" cy="406.2" r="3.3"/><circle cx="989.4" cy="404.9" r="3.3"/><circle cx="990.2" cy="403.6" r="3.3"/><circle cx="991.0" cy="402.3" r="3.3"/><circle cx="991.9" cy="400.8" r="3.3"/><circle cx="993.9" cy="398.2" r="2.9"/><circle cx="996.1" cy="395.8" r="2.9"/><circle cx="998.4" cy="393.5" r="2.9"/><circle cx="1000.9" cy="391.3" r="2.9"/><circle cx="1006.3" cy="387.6" r="2.9"/><circle cx="1012.2" cy="384.8" r="2.9"/><circle cx="1018.4" cy="382.5" r="2.9"/><circle cx="1024.7" cy="380.5" r="2.9"/><circle cx="1031.2" cy="379.3" r="2.9"/><circle cx="1037.6" cy="378.9" r="2.9"/><circle cx="1044.2" cy="379.2" r="2.9"/><circle cx="1050.5" cy="380.4" r="2.9"/><circle cx="1056.7" cy="382.2" r="2.9"/><circle cx="1062.7" cy="384.5" r="2.9"/><circle cx="1068.7" cy="387.3" r="2.9"/><circle cx="1074.4" cy="390.5" r="2.9"/><circle cx="1080.0" cy="393.8" r="2.9"/><circle cx="1085.3" cy="397.4" r="2.9"/><circle cx="1090.8" cy="401.1" r="2.9"/></g>
<circle cx="1315.7" cy="72.1" r="2.7" fill="#ff0000"/>
<path fill="#000" d="M1310.3,109.5h10.4l-5.2,8.8z"/>
<path fill="#0000ff" d="M1317.1,147.1 L1318.6,150.1 L1321.9,150.6 L1319.5,152.9 L1320.0,156.1 L1317.1,154.6 L1314.2,156.1 L1314.7,152.9 L1312.3,150.6 L1315.6,150.1Z"/>
<text x="1349.3" y="79.7" font-size="29.20" text-anchor="start">Au</text>
<text x="1349.8" y="120.4" font-size="29.20" text-anchor="start">NGQDs</text>
<text x="1351.3" y="159.7" font-size="29.20" text-anchor="start">Au/NGQDs</text>
<defs><clipPath id="cd"><rect x="911.1" y="612.1" width="597.3" height="480.4"/></clipPath></defs>
<g fill="none" stroke-linejoin="round" clip-path="url(#cd)">
<path stroke="#000000" stroke-width="3.5" d="M912.2,1015.1 L914.6,1017.0 L915.9,1018.3 L917.2,1019.4 L918.6,1020.4 L919.9,1021.3 L921.2,1022.1 L922.5,1022.8 L923.8,1023.4 L925.2,1023.9 L926.5,1024.4 L927.8,1024.8 L929.1,1025.2 L930.4,1025.5 L931.7,1025.8 L933.1,1026.0 L934.4,1026.2 L935.7,1026.4 L937.0,1026.6 L938.3,1026.8 L939.6,1026.9 L941.0,1027.0 L942.3,1027.1 L943.6,1027.2 L944.9,1027.3 L946.2,1027.4 L946.2,989.2 L947.7,988.2 L949.2,987.4 L950.6,986.7 L952.1,986.2 L953.6,985.7 L955.0,985.3 L956.5,984.9 L957.9,984.6 L959.4,984.4 L960.9,984.1 L962.3,984.0 L963.8,983.8 L965.3,983.7 L966.7,983.6 L968.2,983.5 L969.7,983.4 L971.1,983.3 L972.6,983.3 L974.1,983.2 L975.5,983.2 L977.0,983.2 L978.4,983.1 L979.9,983.1 L981.4,983.1 L981.4,1019.7 L982.8,1021.1 L984.3,1022.2 L985.8,1023.2 L987.2,1024.1 L988.7,1024.9 L990.2,1025.5 L991.6,1026.1 L993.1,1026.6 L994.5,1027.1 L996.0,1027.4 L997.5,1027.8 L998.9,1028.1 L1000.4,1028.3 L1001.9,1028.5 L1003.3,1028.7 L1004.8,1028.9 L1006.3,1029.0 L1007.7,1029.2 L1009.2,1029.3 L1010.7,1029.4 L1012.1,1029.5 L1013.6,1029.5 L1015.0,1029.6 L1016.5,1029.6 L1016.5,990.7 L1018.0,989.7 L1019.4,988.8 L1020.9,988.1 L1022.4,987.5 L1023.8,987.0 L1025.3,986.5 L1026.8,986.2 L1028.2,985.8 L1029.7,985.6 L1031.1,985.4 L1032.6,985.2 L1034.1,985.0 L1035.5,984.9 L1037.0,984.7 L1038.5,984.6 L1039.9,984.6 L1041.4,984.5 L1042.9,984.4 L1044.3,984.4 L1045.8,984.3 L1047.2,984.3 L1048.7,984.3 L1050.2,984.2 L1051.6,984.2 L1051.6,1019.7 L1053.1,1021.1 L1054.6,1022.2 L1056.0,1023.2 L1057.5,1024.1 L1059.0,1024.9 L1060.4,1025.5 L1061.9,1026.1 L1063.4,1026.6 L1064.8,1027.1 L1066.3,1027.4 L1067.7,1027.8 L1069.2,1028.1 L1070.7,1028.3 L1072.1,1028.5 L1073.6,1028.7 L1075.1,1028.9 L1076.5,1029.0 L1078.0,1029.2 L1079.5,1029.3 L1080.9,1029.4 L1082.4,1029.5 L1083.8,1029.5 L1085.3,1029.6 L1086.8,1029.6 L1086.8,991.5 L1088.2,990.4 L1089.7,989.5 L1091.2,988.7 L1092.6,988.1 L1094.1,987.5 L1095.6,987.1 L1097.0,986.7 L1098.5,986.3 L1100.0,986.0 L1101.4,985.8 L1102.9,985.6 L1104.3,985.4 L1105.8,985.3 L1107.3,985.2 L1108.7,985.1 L1110.2,985.0 L1111.7,984.9 L1113.1,984.8 L1114.6,984.8 L1116.1,984.7 L1117.5,984.7 L1119.0,984.7 L1120.4,984.6 L1121.9,984.6 L1121.9,1020.5 L1123.4,1021.7 L1124.8,1022.8 L1126.3,1023.7 L1127.8,1024.5 L1129.2,1025.2 L1130.7,1025.9 L1132.2,1026.4 L1133.6,1026.9 L1135.1,1027.3 L1136.6,1027.6 L1138.0,1027.9 L1139.5,1028.2 L1140.9,1028.4 L1142.4,1028.6 L1143.9,1028.8 L1145.3,1029.0 L1146.8,1029.1 L1148.3,1029.2 L1149.7,1029.3 L1151.2,1029.4 L1152.7,1029.5 L1154.1,1029.5 L1155.6,1029.6 L1157.0,1029.6 L1157.0,992.2 L1158.5,991.0 L1160.0,990.0 L1161.4,989.2 L1162.9,988.5 L1164.4,987.8 L1165.8,987.3 L1167.3,986.9 L1168.8,986.5 L1170.2,986.2 L1171.7,985.9 L1173.2,985.7 L1174.6,985.5 L1176.1,985.4 L1177.5,985.2 L1179.0,985.1 L1180.5,985.0 L1181.9,984.9 L1183.4,984.9 L1184.9,984.8 L1186.3,984.7 L1187.8,984.7 L1189.3,984.7 L1190.7,984.6 L1192.2,984.6 L1192.2,1021.2 L1193.6,1022.4 L1195.1,1023.4 L1196.6,1024.2 L1198.0,1025.0 L1199.5,1025.6 L1201.0,1026.2 L1202.4,1026.7 L1203.9,1027.1 L1205.4,1027.5 L1206.8,1027.8 L1208.3,1028.1 L1209.8,1028.3 L1211.2,1028.5 L1212.7,1028.7 L1214.1,1028.9 L1215.6,1029.0 L1217.1,1029.1 L1218.5,1029.2 L1220.0,1029.3 L1221.5,1029.4 L1222.9,1029.5 L1224.4,1029.5 L1225.9,1029.6 L1227.3,1029.6 L1227.3,993.0 L1228.8,991.7 L1230.2,990.6 L1231.7,989.6 L1233.2,988.8 L1234.6,988.2 L1236.1,987.6 L1237.6,987.1 L1239.0,986.7 L1240.5,986.4 L1242.0,986.1 L1243.4,985.8 L1244.9,985.6 L1246.3,985.4 L1247.8,985.3 L1249.3,985.2 L1250.7,985.0 L1252.2,985.0 L1253.7,984.9 L1255.1,984.8 L1256.6,984.8 L1258.1,984.7 L1259.5,984.7 L1261.0,984.6 L1262.5,984.6 L1262.5,1022.0 L1263.9,1023.1 L1265.4,1024.1 L1266.8,1025.0 L1268.3,1025.7 L1269.8,1026.4 L1271.2,1026.9 L1272.7,1027.4 L1274.2,1027.9 L1275.6,1028.2 L1277.1,1028.5 L1278.6,1028.8 L1280.0,1029.1 L1281.5,1029.3 L1282.9,1029.5 L1284.4,1029.6 L1285.9,1029.8 L1287.3,1029.9 L1288.8,1030.0 L1290.3,1030.1 L1291.7,1030.2 L1293.2,1030.2 L1294.7,1030.3 L1296.1,1030.4 L1297.6,1030.4 L1297.6,994.1 L1299.1,992.7 L1300.5,991.4 L1302.0,990.3 L1303.4,989.4 L1304.9,988.7 L1306.4,988.0 L1307.8,987.5 L1309.3,987.0 L1310.8,986.6 L1312.2,986.3 L1313.7,986.0 L1315.2,985.7 L1316.6,985.5 L1318.1,985.4 L1319.5,985.2 L1321.0,985.1 L1322.5,985.0 L1323.9,984.9 L1325.4,984.8 L1326.9,984.8 L1328.3,984.7 L1329.8,984.7 L1331.3,984.6 L1332.7,984.6 L1332.7,1022.8 L1334.2,1023.8 L1335.7,1024.7 L1337.1,1025.5 L1338.6,1026.1 L1340.0,1026.7 L1341.5,1027.2 L1343.0,1027.7 L1344.4,1028.1 L1345.9,1028.4 L1347.4,1028.7 L1348.8,1029.0 L1350.3,1029.2 L1351.8,1029.4 L1353.2,1029.6 L1354.7,1029.7 L1356.1,1029.8 L1357.6,1029.9 L1359.1,1030.0 L1360.5,1030.1 L1362.0,1030.2 L1363.5,1030.3 L1364.9,1030.3 L1366.4,1030.4 L1367.9,1030.4 L1367.9,993.0 L1369.3,991.8 L1370.8,990.8 L1372.3,989.9 L1373.7,989.2 L1375.2,988.6 L1376.6,988.1 L1378.1,987.6 L1379.6,987.3 L1381.0,987.0 L1382.5,986.7 L1384.0,986.5 L1385.4,986.3 L1386.9,986.1 L1388.4,986.0 L1389.8,985.9 L1391.3,985.8 L1392.7,985.7 L1394.2,985.6 L1395.7,985.6 L1397.1,985.5 L1398.6,985.5 L1400.1,985.4 L1401.5,985.4 L1403.0,985.4 L1403.0,1023.5 L1404.5,1024.6 L1405.9,1025.5 L1407.4,1026.2 L1408.9,1026.9 L1410.3,1027.5 L1411.8,1028.0 L1413.2,1028.5 L1414.7,1028.8 L1416.2,1029.2 L1417.6,1029.5 L1419.1,1029.7 L1420.6,1030.0 L1422.0,1030.2 L1423.5,1030.3 L1425.0,1030.5 L1426.4,1030.6 L1427.9,1030.7 L1429.3,1030.8 L1430.8,1030.9 L1432.3,1031.0 L1433.7,1031.0 L1435.2,1031.1 L1436.7,1031.1 L1438.1,1031.2 L1438.1,993.0 L1439.6,991.8 L1441.1,990.8 L1442.5,989.9 L1444.0,989.2 L1445.4,988.6 L1446.9,988.1 L1448.4,987.6 L1449.8,987.3 L1451.3,987.0 L1452.8,986.7 L1454.2,986.5 L1455.7,986.3 L1457.2,986.1 L1458.6,986.0 L1460.1,985.9 L1461.6,985.8 L1463.0,985.7 L1464.5,985.6 L1465.9,985.6 L1467.4,985.5 L1468.9,985.5 L1470.3,985.4 L1471.8,985.4 L1473.3,985.4 L1474.3,1021.2 L1475.7,1022.4 L1477.2,1023.4 L1478.6,1024.3 L1480.0,1025.1 L1481.4,1025.9 L1482.8,1026.6 L1484.3,1027.2 L1485.7,1027.7 L1487.1,1028.2 L1488.5,1028.7 L1489.9,1029.1 L1491.4,1029.5 L1492.8,1029.8 L1494.2,1030.1 L1495.6,1030.4 L1497.0,1030.6 L1498.5,1030.9 L1499.9,1031.1 L1501.3,1031.3 L1502.7,1031.4 L1504.1,1031.6 L1505.6,1031.7 L1507.0,1031.8 L1508.4,1031.9"/>
<path stroke="#0000ff" stroke-width="3.5" d="M912.2,1005.2 L916.4,998.3 L917.6,999.9 L918.9,1001.3 L920.1,1002.6 L921.3,1003.8 L922.6,1004.9 L923.8,1005.8 L925.1,1006.8 L926.3,1007.6 L927.6,1008.3 L928.8,1009.0 L930.1,1009.7 L931.3,1010.3 L932.5,1010.8 L933.8,1011.3 L935.0,1011.7 L936.3,1012.1 L937.5,1012.5 L938.8,1012.9 L940.0,1013.2 L941.3,1013.5 L942.5,1013.7 L943.7,1014.0 L945.0,1014.2 L946.2,1014.4 L946.2,937.3 L947.7,936.2 L949.2,935.2 L950.6,934.3 L952.1,933.6 L953.6,932.9 L955.0,932.4 L956.5,931.9 L957.9,931.4 L959.4,931.1 L960.9,930.7 L962.3,930.5 L963.8,930.2 L965.3,930.0 L966.7,929.8 L968.2,929.7 L969.7,929.5 L971.1,929.4 L972.6,929.3 L974.1,929.2 L975.5,929.1 L977.0,929.0 L978.4,929.0 L979.9,928.9 L981.4,928.9 L981.4,1002.9 L982.8,1004.7 L984.3,1006.4 L985.8,1007.8 L987.2,1009.2 L988.7,1010.4 L990.2,1011.4 L991.6,1012.4 L993.1,1013.3 L994.5,1014.1 L996.0,1014.8 L997.5,1015.4 L998.9,1016.0 L1000.4,1016.5 L1001.9,1017.0 L1003.3,1017.4 L1004.8,1017.8 L1006.3,1018.1 L1007.7,1018.4 L1009.2,1018.7 L1010.7,1018.9 L1012.1,1019.2 L1013.6,1019.4 L1015.0,1019.6 L1016.5,1019.7 L1016.5,941.9 L1018.0,940.7 L1019.4,939.7 L1020.9,938.9 L1022.4,938.1 L1023.8,937.5 L1025.3,936.9 L1026.8,936.4 L1028.2,936.0 L1029.7,935.6 L1031.1,935.3 L1032.6,935.0 L1034.1,934.8 L1035.5,934.6 L1037.0,934.4 L1038.5,934.2 L1039.9,934.1 L1041.4,934.0 L1042.9,933.9 L1044.3,933.8 L1045.8,933.7 L1047.2,933.6 L1048.7,933.6 L1050.2,933.5 L1051.6,933.5 L1051.6,1009.0 L1053.1,1010.6 L1054.6,1012.0 L1056.0,1013.3 L1057.5,1014.4 L1059.0,1015.4 L1060.4,1016.4 L1061.9,1017.2 L1063.4,1018.0 L1064.8,1018.6 L1066.3,1019.3 L1067.7,1019.8 L1069.2,1020.3 L1070.7,1020.8 L1072.1,1021.2 L1073.6,1021.5 L1075.1,1021.8 L1076.5,1022.1 L1078.0,1022.4 L1079.5,1022.7 L1080.9,1022.9 L1082.4,1023.1 L1083.8,1023.2 L1085.3,1023.4 L1086.8,1023.5 L1086.8,944.9 L1088.2,943.7 L1089.7,942.6 L1091.2,941.7 L1092.6,940.9 L1094.1,940.2 L1095.6,939.5 L1097.0,939.0 L1098.5,938.5 L1100.0,938.1 L1101.4,937.8 L1102.9,937.5 L1104.3,937.2 L1105.8,937.0 L1107.3,936.8 L1108.7,936.6 L1110.2,936.4 L1111.7,936.3 L1113.1,936.2 L1114.6,936.1 L1116.1,936.0 L1117.5,935.9 L1119.0,935.9 L1120.4,935.8 L1121.9,935.8 L1121.9,1012.1 L1123.4,1013.6 L1124.8,1014.9 L1126.3,1016.1 L1127.8,1017.2 L1129.2,1018.2 L1130.7,1019.0 L1132.2,1019.8 L1133.6,1020.5 L1135.1,1021.2 L1136.6,1021.8 L1138.0,1022.3 L1139.5,1022.8 L1140.9,1023.2 L1142.4,1023.6 L1143.9,1023.9 L1145.3,1024.2 L1146.8,1024.5 L1148.3,1024.8 L1149.7,1025.0 L1151.2,1025.2 L1152.7,1025.4 L1154.1,1025.5 L1155.6,1025.7 L1157.0,1025.8 L1157.0,947.2 L1158.5,946.0 L1160.0,944.9 L1161.4,944.0 L1162.9,943.2 L1164.4,942.4 L1165.8,941.8 L1167.3,941.3 L1168.8,940.8 L1170.2,940.4 L1171.7,940.1 L1173.2,939.8 L1174.6,939.5 L1176.1,939.3 L1177.5,939.1 L1179.0,938.9 L1180.5,938.7 L1181.9,938.6 L1183.4,938.5 L1184.9,938.4 L1186.3,938.3 L1187.8,938.2 L1189.3,938.2 L1190.7,938.1 L1192.2,938.0 L1192.2,1015.1 L1193.6,1016.5 L1195.1,1017.8 L1196.6,1018.9 L1198.0,1020.0 L1199.5,1020.9 L1201.0,1021.7 L1202.4,1022.5 L1203.9,1023.1 L1205.4,1023.7 L1206.8,1024.3 L1208.3,1024.8 L1209.8,1025.2 L1211.2,1025.6 L1212.7,1026.0 L1214.1,1026.3 L1215.6,1026.6 L1217.1,1026.9 L1218.5,1027.1 L1220.0,1027.3 L1221.5,1027.5 L1222.9,1027.7 L1224.4,1027.8 L1225.9,1028.0 L1227.3,1028.1 L1227.3,948.7 L1228.8,947.5 L1230.2,946.4 L1231.7,945.5 L1233.2,944.7 L1234.6,944.0 L1236.1,943.4 L1237.6,942.8 L1239.0,942.4 L1240.5,942.0 L1242.0,941.6 L1243.4,941.3 L1244.9,941.0 L1246.3,940.8 L1247.8,940.6 L1249.3,940.4 L1250.7,940.3 L1252.2,940.1 L1253.7,940.0 L1255.1,939.9 L1256.6,939.8 L1258.1,939.7 L1259.5,939.7 L1261.0,939.6 L1262.5,939.6 L1262.5,1016.7 L1263.9,1018.2 L1265.4,1019.6 L1266.8,1020.9 L1268.3,1022.1 L1269.8,1023.1 L1271.2,1024.0 L1272.7,1024.8 L1274.2,1025.6 L1275.6,1026.3 L1277.1,1026.9 L1278.6,1027.4 L1280.0,1027.9 L1281.5,1028.4 L1282.9,1028.8 L1284.4,1029.2 L1285.9,1029.5 L1287.3,1029.8 L1288.8,1030.0 L1290.3,1030.3 L1291.7,1030.5 L1293.2,1030.7 L1294.7,1030.9 L1296.1,1031.0 L1297.6,1031.2 L1297.6,952.5 L1299.1,951.1 L1300.5,949.9 L1302.0,948.8 L1303.4,947.8 L1304.9,947.0 L1306.4,946.3 L1307.8,945.7 L1309.3,945.1 L1310.8,944.6 L1312.2,944.2 L1313.7,943.9 L1315.2,943.6 L1316.6,943.3 L1318.1,943.1 L1319.5,942.8 L1321.0,942.7 L1322.5,942.5 L1323.9,942.4 L1325.4,942.3 L1326.9,942.2 L1328.3,942.1 L1329.8,942.0 L1331.3,941.9 L1332.7,941.9 L1332.7,1018.2 L1334.2,1019.8 L1335.7,1021.2 L1337.1,1022.4 L1338.6,1023.6 L1340.0,1024.6 L1341.5,1025.5 L1343.0,1026.4 L1344.4,1027.1 L1345.9,1027.8 L1347.4,1028.4 L1348.8,1029.0 L1350.3,1029.5 L1351.8,1029.9 L1353.2,1030.3 L1354.7,1030.7 L1356.1,1031.0 L1357.6,1031.3 L1359.1,1031.6 L1360.5,1031.8 L1362.0,1032.0 L1363.5,1032.2 L1364.9,1032.4 L1366.4,1032.6 L1367.9,1032.7 L1367.9,956.4 L1369.3,954.7 L1370.8,953.3 L1372.3,952.0 L1373.7,951.0 L1375.2,950.0 L1376.6,949.2 L1378.1,948.5 L1379.6,947.9 L1381.0,947.3 L1382.5,946.9 L1384.0,946.4 L1385.4,946.1 L1386.9,945.8 L1388.4,945.5 L1389.8,945.3 L1391.3,945.1 L1392.7,944.9 L1394.2,944.7 L1395.7,944.6 L1397.1,944.5 L1398.6,944.4 L1400.1,944.3 L1401.5,944.2 L1403.0,944.1 L1403.0,1019.0 L1404.5,1020.8 L1405.9,1022.4 L1407.4,1023.9 L1408.9,1025.2 L1410.3,1026.4 L1411.8,1027.5 L1413.2,1028.4 L1414.7,1029.3 L1416.2,1030.1 L1417.6,1030.8 L1419.1,1031.4 L1420.6,1032.0 L1422.0,1032.5 L1423.5,1033.0 L1425.0,1033.4 L1426.4,1033.8 L1427.9,1034.1 L1429.3,1034.4 L1430.8,1034.7 L1432.3,1035.0 L1433.7,1035.2 L1435.2,1035.4 L1436.7,1035.6 L1438.1,1035.8 L1438.1,957.9 L1439.6,956.2 L1441.1,954.8 L1442.5,953.6 L1444.0,952.5 L1445.4,951.5 L1446.9,950.7 L1448.4,950.0 L1449.8,949.4 L1451.3,948.9 L1452.8,948.4 L1454.2,948.0 L1455.7,947.6 L1457.2,947.3 L1458.6,947.0 L1460.1,946.8 L1461.6,946.6 L1463.0,946.4 L1464.5,946.3 L1465.9,946.1 L1467.4,946.0 L1468.9,945.9 L1470.3,945.8 L1471.8,945.7 L1473.3,945.7 L1474.3,1017.4 L1475.7,1019.1 L1477.2,1020.6 L1478.6,1022.0 L1480.0,1023.3 L1481.4,1024.5 L1482.8,1025.7 L1484.3,1026.7 L1485.7,1027.6 L1487.1,1028.5 L1488.5,1029.3 L1489.9,1030.0 L1491.4,1030.7 L1492.8,1031.3 L1494.2,1031.9 L1495.6,1032.5 L1497.0,1033.0 L1498.5,1033.4 L1499.9,1033.8 L1501.3,1034.2 L1502.7,1034.6 L1504.1,1034.9 L1505.6,1035.2 L1507.0,1035.5 L1508.4,1035.8"/>
<path stroke="#ff0000" stroke-width="4.2" d="M912.2,1001.4 L917.4,990.7 L918.6,992.4 L919.8,993.9 L921.0,995.3 L922.2,996.5 L923.4,997.7 L924.6,998.8 L925.8,999.8 L927.0,1000.7 L928.2,1001.5 L929.4,1002.3 L930.6,1003.0 L931.8,1003.6 L933.0,1004.2 L934.2,1004.8 L935.4,1005.3 L936.6,1005.7 L937.8,1006.1 L939.0,1006.5 L940.2,1006.9 L941.4,1007.2 L942.6,1007.5 L943.8,1007.8 L945.0,1008.0 L946.2,1008.3 L946.2,843.4 L947.3,850.3 L948.7,849.9 L950.1,849.5 L951.5,849.2 L953.0,848.9 L954.4,848.6 L955.8,848.2 L957.2,847.9 L958.6,847.7 L960.1,847.4 L961.5,847.1 L962.9,846.8 L964.3,846.6 L965.8,846.4 L967.2,846.1 L968.6,845.9 L970.0,845.7 L971.4,845.5 L972.9,845.3 L974.3,845.1 L975.7,844.9 L977.1,844.7 L978.5,844.5 L980.0,844.3 L981.4,844.2 L981.4,1026.2 L982.8,994.5 L984.2,995.9 L985.6,997.2 L987.0,998.4 L988.4,999.5 L989.8,1000.6 L991.2,1001.7 L992.6,1002.6 L994.0,1003.5 L995.4,1004.4 L996.8,1005.2 L998.2,1006.0 L999.6,1006.7 L1001.0,1007.4 L1002.5,1008.0 L1003.9,1008.7 L1005.3,1009.2 L1006.7,1009.8 L1008.1,1010.3 L1009.5,1010.8 L1010.9,1011.3 L1012.3,1011.7 L1013.7,1012.1 L1015.1,1012.5 L1016.5,1012.8 L1016.5,849.5 L1017.6,855.6 L1019.0,855.3 L1020.4,855.0 L1021.8,854.7 L1023.2,854.4 L1024.7,854.1 L1026.1,853.8 L1027.5,853.6 L1028.9,853.3 L1030.3,853.1 L1031.8,852.8 L1033.2,852.6 L1034.6,852.4 L1036.0,852.2 L1037.4,852.0 L1038.9,851.8 L1040.3,851.6 L1041.7,851.4 L1043.1,851.2 L1044.5,851.0 L1046.0,850.9 L1047.4,850.7 L1048.8,850.6 L1050.2,850.4 L1051.6,850.3 L1051.6,1025.1 L1053.0,999.9 L1054.5,1001.4 L1055.9,1002.7 L1057.3,1004.1 L1058.7,1005.3 L1060.1,1006.5 L1061.5,1007.6 L1062.9,1008.6 L1064.3,1009.6 L1065.7,1010.6 L1067.1,1011.4 L1068.5,1012.3 L1069.9,1013.1 L1071.3,1013.8 L1072.7,1014.5 L1074.1,1015.2 L1075.5,1015.8 L1076.9,1016.4 L1078.3,1017.0 L1079.7,1017.5 L1081.2,1018.0 L1082.6,1018.5 L1084.0,1018.9 L1085.4,1019.3 L1086.8,1019.7 L1086.8,854.8 L1087.8,860.9 L1089.3,860.6 L1090.7,860.2 L1092.1,859.9 L1093.5,859.6 L1094.9,859.2 L1096.4,858.9 L1097.8,858.6 L1099.2,858.3 L1100.6,858.1 L1102.0,857.8 L1103.5,857.5 L1104.9,857.3 L1106.3,857.0 L1107.7,856.8 L1109.1,856.6 L1110.6,856.4 L1112.0,856.1 L1113.4,855.9 L1114.8,855.7 L1116.2,855.5 L1117.7,855.4 L1119.1,855.2 L1120.5,855.0 L1121.9,854.8 L1121.9,1027.4 L1123.3,1004.5 L1124.7,1005.8 L1126.1,1007.1 L1127.5,1008.3 L1128.9,1009.5 L1130.3,1010.6 L1131.7,1011.6 L1133.2,1012.5 L1134.6,1013.5 L1136.0,1014.3 L1137.4,1015.1 L1138.8,1015.9 L1140.2,1016.6 L1141.6,1017.3 L1143.0,1018.0 L1144.4,1018.6 L1145.8,1019.2 L1147.2,1019.7 L1148.6,1020.2 L1150.0,1020.7 L1151.4,1021.2 L1152.8,1021.6 L1154.2,1022.0 L1155.6,1022.4 L1157.0,1022.8 L1157.0,860.9 L1158.1,867.1 L1159.5,866.6 L1160.9,866.2 L1162.4,865.9 L1163.8,865.5 L1165.2,865.1 L1166.6,864.8 L1168.0,864.5 L1169.5,864.1 L1170.9,863.8 L1172.3,863.5 L1173.7,863.2 L1175.1,862.9 L1176.6,862.7 L1178.0,862.4 L1179.4,862.1 L1180.8,861.9 L1182.2,861.7 L1183.7,861.4 L1185.1,861.2 L1186.5,861.0 L1187.9,860.8 L1189.3,860.6 L1190.8,860.4 L1192.2,860.2 L1192.2,1028.9 L1193.6,1009.0 L1195.0,1010.3 L1196.4,1011.5 L1197.8,1012.6 L1199.2,1013.6 L1200.6,1014.6 L1202.0,1015.6 L1203.4,1016.5 L1204.8,1017.3 L1206.2,1018.1 L1207.6,1018.8 L1209.0,1019.5 L1210.5,1020.2 L1211.9,1020.8 L1213.3,1021.4 L1214.7,1022.0 L1216.1,1022.5 L1217.5,1023.0 L1218.9,1023.5 L1220.3,1023.9 L1221.7,1024.4 L1223.1,1024.8 L1224.5,1025.1 L1225.9,1025.5 L1227.3,1025.8 L1227.3,866.3 L1228.4,873.2 L1229.8,872.7 L1231.2,872.4 L1232.6,872.0 L1234.1,871.6 L1235.5,871.2 L1236.9,870.9 L1238.3,870.6 L1239.7,870.2 L1241.2,869.9 L1242.6,869.6 L1244.0,869.3 L1245.4,869.0 L1246.8,868.8 L1248.3,868.5 L1249.7,868.2 L1251.1,868.0 L1252.5,867.8 L1253.9,867.5 L1255.4,867.3 L1256.8,867.1 L1258.2,866.9 L1259.6,866.7 L1261.0,866.5 L1262.5,866.3 L1262.5,1033.5 L1263.9,1013.6 L1265.3,1014.9 L1266.7,1016.2 L1268.1,1017.3 L1269.5,1018.4 L1270.9,1019.5 L1272.3,1020.4 L1273.7,1021.4 L1275.1,1022.2 L1276.5,1023.1 L1277.9,1023.9 L1279.3,1024.6 L1280.7,1025.3 L1282.1,1025.9 L1283.5,1026.6 L1284.9,1027.2 L1286.3,1027.7 L1287.8,1028.2 L1289.2,1028.7 L1290.6,1029.2 L1292.0,1029.6 L1293.4,1030.1 L1294.8,1030.4 L1296.2,1030.8 L1297.6,1031.2 L1297.6,870.1 L1298.6,877.7 L1300.1,877.3 L1301.5,876.8 L1302.9,876.4 L1304.3,876.0 L1305.7,875.6 L1307.2,875.2 L1308.6,874.8 L1310.0,874.5 L1311.4,874.1 L1312.8,873.8 L1314.3,873.5 L1315.7,873.2 L1317.1,872.9 L1318.5,872.6 L1319.9,872.3 L1321.4,872.0 L1322.8,871.7 L1324.2,871.5 L1325.6,871.2 L1327.0,871.0 L1328.5,870.8 L1329.9,870.5 L1331.3,870.3 L1332.7,870.1 L1332.7,1038.0 L1334.1,1016.7 L1335.5,1017.9 L1336.9,1019.1 L1338.3,1020.2 L1339.8,1021.3 L1341.2,1022.3 L1342.6,1023.2 L1344.0,1024.1 L1345.4,1024.9 L1346.8,1025.7 L1348.2,1026.5 L1349.6,1027.2 L1351.0,1027.8 L1352.4,1028.5 L1353.8,1029.1 L1355.2,1029.6 L1356.6,1030.2 L1358.0,1030.7 L1359.4,1031.1 L1360.8,1031.6 L1362.2,1032.0 L1363.6,1032.4 L1365.0,1032.8 L1366.5,1033.1 L1367.9,1033.5 L1367.9,874.7 L1368.9,882.3 L1370.3,881.9 L1371.8,881.4 L1373.2,881.0 L1374.6,880.6 L1376.0,880.2 L1377.4,879.8 L1378.9,879.4 L1380.3,879.1 L1381.7,878.7 L1383.1,878.4 L1384.5,878.1 L1386.0,877.7 L1387.4,877.4 L1388.8,877.1 L1390.2,876.9 L1391.6,876.6 L1393.1,876.3 L1394.5,876.1 L1395.9,875.8 L1397.3,875.6 L1398.7,875.3 L1400.2,875.1 L1401.6,874.9 L1403.0,874.7 L1403.0,1038.8 L1404.4,1019.0 L1405.8,1020.5 L1407.2,1021.9 L1408.6,1023.3 L1410.0,1024.6 L1411.4,1025.8 L1412.8,1027.0 L1414.2,1028.1 L1415.6,1029.1 L1417.0,1030.1 L1418.5,1031.0 L1419.9,1031.8 L1421.3,1032.7 L1422.7,1033.4 L1424.1,1034.2 L1425.5,1034.9 L1426.9,1035.5 L1428.3,1036.1 L1429.7,1036.7 L1431.1,1037.2 L1432.5,1037.8 L1433.9,1038.3 L1435.3,1038.7 L1436.7,1039.2 L1438.1,1039.6 L1438.1,878.5 L1439.2,886.9 L1440.6,886.4 L1442.0,886.0 L1443.4,885.6 L1444.9,885.2 L1446.3,884.8 L1447.7,884.4 L1449.1,884.0 L1450.5,883.6 L1452.0,883.3 L1453.4,883.0 L1454.8,882.6 L1456.2,882.3 L1457.6,882.0 L1459.1,881.7 L1460.5,881.4 L1461.9,881.2 L1463.3,880.9 L1464.7,880.6 L1466.2,880.4 L1467.6,880.2 L1469.0,879.9 L1470.4,879.7 L1471.8,879.5 L1473.3,879.3 L1473.3,1037.3 L1474.7,1018.2 L1476.1,1020.5 L1477.5,1022.6 L1478.9,1024.5 L1480.3,1026.3 L1481.7,1027.9 L1483.1,1029.4 L1484.5,1030.9 L1485.9,1032.1 L1487.3,1033.3 L1488.7,1034.4 L1490.1,1035.5 L1491.5,1036.4 L1492.9,1037.3 L1494.3,1038.1 L1495.8,1038.8 L1497.2,1039.5 L1498.6,1040.1 L1500.0,1040.7 L1501.4,1041.3 L1502.8,1041.8 L1504.2,1042.2 L1505.6,1042.6 L1507.0,1043.0 L1508.4,1043.4"/>
</g>
<line x1="1288" y1="639.5" x2="1345" y2="639.5" stroke="#000000" stroke-width="3.8" stroke-linecap="round"/>
<text x="1350.7" y="647.3" font-size="29.80" text-anchor="start">Au</text>
<line x1="1288" y1="676.2" x2="1345" y2="676.2" stroke="#0000ff" stroke-width="3.8" stroke-linecap="round"/>
<text x="1350.7" y="684.0" font-size="29.80" text-anchor="start">NGQDs</text>
<line x1="1288" y1="713.4" x2="1345" y2="713.4" stroke="#ff0000" stroke-width="3.8" stroke-linecap="round"/>
<text x="1350.7" y="721.2" font-size="29.80" text-anchor="start">Au/NGQDs</text>
<text x="321.5" y="581.2" font-size="31.52" text-anchor="start">Potential V / <tspan font-style="italic">VS</tspan>.SCE</text>
<text x="1181.3" y="581.7" font-size="31.36" text-anchor="start">Z' / ohm</text>
<text x="320.7" y="1168.5" font-size="31.52" text-anchor="start">Potential / V <tspan font-style="italic">VS</tspan>.SCE</text>
<text x="1151.2" y="1168.4" font-size="31.68" text-anchor="start">Time / s</text>
<text transform="translate(102.3,438.3) rotate(-90)" font-size="32.00">Current density / μA cm<tspan font-size="17" dy="-15">-2</tspan></text>
<text transform="translate(850.2,306.1) rotate(-90)" font-size="32.20">-Z'' / ohm</text>
<text transform="translate(90.2,1058.0) rotate(-90)" font-size="31.52">Photocurrent density / μA cm<tspan font-size="17" dy="-15">-2</tspan></text>
<text transform="translate(846.6,1059.8) rotate(-90)" font-size="32.00">Photocurrent density / μA cm<tspan font-size="17" dy="-15">-2</tspan></text>
<text x="14.5" y="70.0" font-size="76" style="font-family:'Liberation Serif','Times New Roman',serif;font-weight:bold">A</text>
<text x="793.1" y="74.1" font-size="76" style="font-family:'Liberation Serif','Times New Roman',serif;font-weight:bold">B</text>
<text x="6.0" y="654.3" font-size="76" style="font-family:'Liberation Serif','Times New Roman',serif;font-weight:bold">C</text>
<text x="775.0" y="667.4" font-size="76" style="font-family:'Liberation Serif','Times New Roman',serif;font-weight:bold">D</text>
</svg></body></html>
